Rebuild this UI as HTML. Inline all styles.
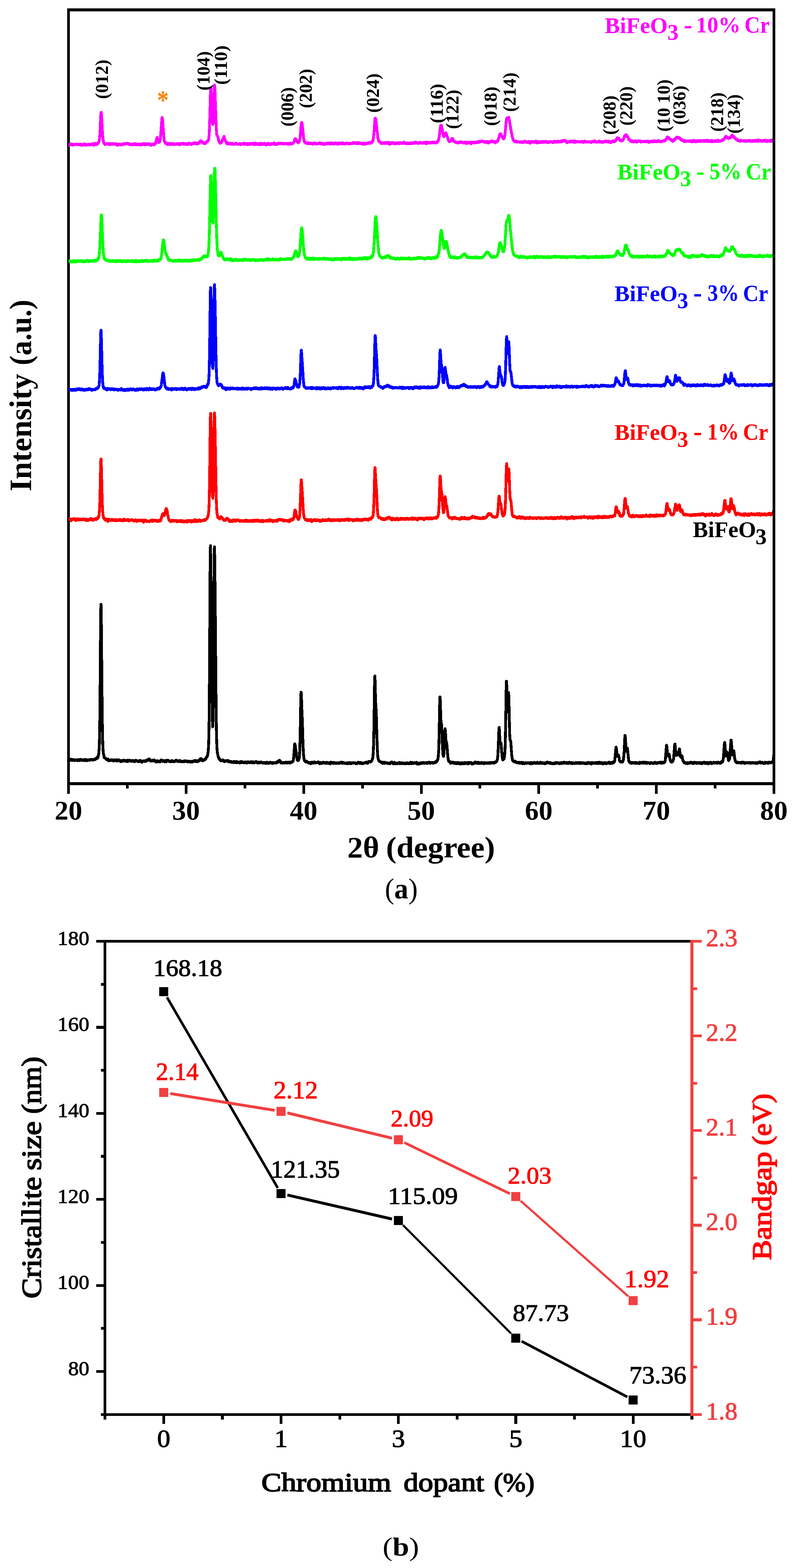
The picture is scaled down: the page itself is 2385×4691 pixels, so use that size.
<!DOCTYPE html>
<html lang="en"><head><meta charset="utf-8"><title>XRD patterns and crystallite size / bandgap of Cr-doped BiFeO3</title>
<style>html,body{margin:0;padding:0;background:#fff}svg{display:block}text{font-family:'Liberation Serif', serif;white-space:pre}</style></head>
<body><svg width="2385" height="4691" viewBox="0 0 2385 4691">
<rect width="2385" height="4691" fill="#fff"/>
<g id="xrd" shape-rendering="crispEdges">
<g fill="#000">
<rect x="201" y="25" width="8" height="2350"/>
<rect x="201" y="2340" width="2119" height="8.5"/>
<rect x="376.9" y="2344" width="8" height="15"/>
<rect x="552.8" y="2344" width="8" height="31"/>
<rect x="728.8" y="2344" width="8" height="15"/>
<rect x="904.7" y="2344" width="8" height="31"/>
<rect x="1080.6" y="2344" width="8" height="15"/>
<rect x="1256.5" y="2344" width="8" height="31"/>
<rect x="1432.4" y="2344" width="8" height="15"/>
<rect x="1608.3" y="2344" width="8" height="31"/>
<rect x="1784.2" y="2344" width="8" height="15"/>
<rect x="1960.2" y="2344" width="8" height="31"/>
<rect x="2136.1" y="2344" width="8" height="15"/>
</g>
<clipPath id="cpa"><rect x="205" y="20" width="2111" height="2330"/></clipPath>
<g clip-path="url(#cpa)" fill="none" stroke-linejoin="round" stroke-linecap="butt">
<path stroke="#000000" stroke-width="8.4" d="M205.0 2274.7l.7-2.4l.7-.2l.7-.6l.7 1.9l.7-2.8l.7 4l.7-2.2l.7 1.1l.7-.7l.7 1.6l.7-3.2l.7 1.9l.7 .1l.7 1.5l.7-2.3l.7 .5l.7-.9l.7 .7l.7 .8l.7-1.2l.7 2.5l.7 .1l.7 0l.7 .6l.7-1.4l.7 .6l.7-.9l.7 .5l.7 .5l.7-1.4l.7 .2l.7-.2l.7-.1l.7 .3l.7 .7l.7-1l.7 1.3l.7 1.3l.7-1l.7-1.1l.7-.8l.7-.2l.7 2l.7-1.7l.7-.5l.7 .9l.7 1.9l.7-1.9l.7 .3l.7-.6l.7-.8l.7-.8l.7 1l.7 .4l.7 1l.7 .4l.7 .2l.7-.5l.7 .8l.7-1.5l.7 1.9l.7-.9l.7-1l.7 .5l.7-.7l.7 1.1l.7 .5l.7 .8l.7-3.3l.7 0l.7 1l.7 .6l.7 .8l.7-.3l.7-1.9l.7 2.1l.7 1.3l.7-.5l.7 .3l.7-1.4l.7-.6l.7-.1l.7-.1l.7-.3l.7 0l.7-.4l.7 1.4l.7 .1l.7 1l.7-.2l.7-1.5l.7-1.1l.7-.7l.7 .8l.7-.4l.7-.3l.7 .4l.7-.5l.7 1.3l.7-1l.7 1.7l.7-.4l.7 .4l.7-1.5l.7 1.2l.7 .3l.7-1.8l.7 .5l.7 .2l.7-1.3l.7 1.4l.7 .2l.7-2.1l.7 .7l.7-1.8l.7 1l.7-1.9l.7 1.9l.7-1.6l.7-1.2l.7-1.3l.7 1.7l.7 .6l.7-4l.7 2.2l.7-1.1l.7-3.2l.7-4.3l.7-1.8l.7-6.5l.7-9.4l.7-16.7l.7-27l.7-47.5l.7-72.1l.7-89.8l.7-96.7l.7-66.8l.7-16.4l.7 32.5l.7 63.3l.7 80.6l.7 79.9l.7 66.8l.7 49l.7 33l.7 21.2l.7 11.8l.7 7.7l.7 3.6l.7 1l.7 5.6l.7 2.8l.7-.5l.7 .4l.7 .7l.7 .9l.7 1l.7-.3l.7 1.3l.7 .1l.7 1.6l.7-.2l.7 1l.7-.5l.7 1.1l.7-.7l.7 1.9l.7-3.8l.7 1.4l.7 2l.7 2l.7-2.3l.7 .5l.7-.2l.7 1.4l.7-1.5l.7 1l.7-.8l.7-.9l.7 1.5l.7 .1l.7 .4l.7-1.6l.7-.8l.7 1l.7-.2l.7 .4l.7 .2l.7 1.6l.7-.5l.7 1.4l.7-.9l.7-.6l.7-2.3l.7 2.1l.7 .1l.7 .6l.7 .4l.7-1.4l.7 .9l.7-1.5l.7 2.1l.7-3.3l.7-.4l.7 .2l.7 .9l.7-.1l.7 3.2l.7-2l.7-1l.7 2.2l.7-1.9l.7-.8l.7 1.9l.7-.2l.7-.8l.7 2.1l.7-.7l.7 1.8l.7-.7l.7 1.4l.7-1.3l.7-1.4l.7 3.4l.7-2.8l.7 .2l.7-.5l.7 .5l.7 .3l.7-.3l.7 .1l.7 .7l.7-2l.7-1.1l.7 .2l.7 .8l.7-.6l.7 2.7l.7-.9l.7 .3l.7 .4l.7-1.5l.7 .1l.7 1.2l.7 0l.7-.8l.7 2.5l.7-2.7l.7 1.1l.7 .1l.7-2.6l.7 4.2l.7-1.9l.7-1.8l.7 2.6l.7-1.7l.7-.2l.7-.9l.7 .9l.7-1.4l.7 2.4l.7-1.1l.7 .6l.7 1.1l.7-.8l.7 0l.7 0l.7-.9l.7 1.6l.7 .8l.7-.6l.7 .2l.7-1.6l.7-.2l.7-.7l.7 2.4l.7-1.3l.7 1.9l.7-1.6l.7 .8l.7 .9l.7 .9l.7-1.1l.7-.5l.7-.8l.7-.5l.7-1.6l.7 1.2l.7 .1l.7 .5l.7 .9l.7-.7l.7 .7l.7-.1l.7 .8l.7 .5l.7-1.5l.7 1.5l.7 1.1l.7-3.6l.7 .2l.7-.3l.7 .5l.7 1.8l.7-1.6l.7-.9l.7 1.1l.7-1.2l.7 1.8l.7-.4l.7 1.5l.7-1.5l.7 3.9l.7-1.8l.7 0l.7-.8l.7-.8l.7-.4l.7 .4l.7-.8l.7 .8l.7-1.1l.7 1.4l.7 .3l.7-1.5l.7 1.9l.7-1.4l.7 1l.7-1.1l.7 .1l.7-2.3l.7 .9l.7 1.6l.7-1.8l.7-1.3l.7-.1l.7-1l.7-.4l.7 .8l.7 .8l.7-2.6l.7 0l.7-.9l.7 .2l.7 .3l.7 1l.7 1.8l.7-.4l.7 3l.7 .3l.7-1l.7 .9l.7-1.6l.7 .2l.7 .7l.7-.2l.7-.2l.7-.1l.7 .2l.7 1.4l.7-2.8l.7 2l.7-.8l.7 .8l.7-.1l.7-2.8l.7 3.5l.7 .1l.7 0l.7-.2l.7 1.5l.7-.9l.7 2.4l.7-1.1l.7 1.4l.7-3l.7-1.3l.7 2.3l.7 .3l.7-.5l.7-1.1l.7 1.4l.7 1.1l.7-.9l.7-.2l.7-.4l.7-.8l.7 .4l.7-.8l.7 3l.7-2.4l.7 .6l.7-2l.7 1l.7-3.1l.7 2.4l.7-.9l.7 2.2l.7-2.9l.7 1.8l.7 .8l.7 1.1l.7-1.2l.7 .7l.7-2l.7 1.2l.7 1.1l.7 .5l.7-1.3l.7 2.3l.7-.3l.7-1.6l.7-2.2l.7 .8l.7 1.3l.7 1.9l.7-1l.7-2.8l.7 1l.7 .8l.7-2.7l.7-.8l.7 2.6l.7-1.7l.7-.1l.7 1.2l.7 .1l.7-.1l.7 1.9l.7 .2l.7 0l.7-.6l.7 1.4l.7-1.1l.7 .4l.7 .3l.7-.4l.7 .8l.7-1.3l.7-2l.7 .7l.7 2.5l.7-1.6l.7 .7l.7-1.2l.7 1.7l.7-1.3l.7 1.7l.7-1.8l.7 1.6l.7-.3l.7-1.2l.7 1.6l.7-2l.7-.3l.7 .9l.7-2l.7-.6l.7-.1l.7-.6l.7 2.3l.7 .2l.7 .1l.7 .4l.7 .6l.7 1.1l.7-1l.7-1.4l.7 1.2l.7-.8l.7 0l.7 2l.7-2.2l.7 0l.7-1.2l.7 .8l.7 2.2l.7-.8l.7 1.5l.7-1.4l.7 .3l.7 1.1l.7 .5l.7-1.2l.7 .4l.7 .4l.7-.5l.7-1.6l.7 .9l.7 .8l.7-.9l.7 1l.7-1.9l.7 .8l.7 1.2l.7-2.8l.7 .7l.7 .8l.7-1.7l.7 1.8l.7-.7l.7 .7l.7 .2l.7 .5l.7-.7l.7 .4l.7-.8l.7 1.1l.7 1.2l.7-1.2l.7 .1l.7-1.2l.7 1.7l.7-1.5l.7-.1l.7 1.5l.7-.2l.7 .9l.7 .3l.7-1.9l.7 .7l.7 1.7l.7-.7l.7-.3l.7 .4l.7-2l.7 1l.7 .6l.7 .2l.7-2.3l.7 .4l.7 .4l.7-.8l.7-.3l.7 .8l.7-1l.7-1.3l.7 2.1l.7-.6l.7-.2l.7-.7l.7 2.5l.7-3.2l.7 .3l.7 1.1l.7 1.4l.7 .2l.7-2.1l.7 1.3l.7-1l.7 2.5l.7-2.7l.7 .7l.7 .5l.7-1.7l.7 1l.7-2.8l.7 .7l.7-.2l.7-1.6l.7 .7l.7-1.4l.7-2.6l.7 5l.7-3.3l.7-.4l.7-1.1l.7 2l.7 .3l.7 2l.7 .5l.7 1.9l.7-1.5l.7 .2l.7-.5l.7-.9l.7-.2l.7 1.1l.7-.5l.7-1.6l.7-.9l.7 .4l.7 .4l.7-1.9l.7 1l.7-3.1l.7 .2l.7-3.3l.7 .9l.7-1l.7-.7l.7-.8l.7-4.1l.7-1.7l.7-4.5l.7-4.8l.7-9l.7-11.3l.7-26.1l.7-40.7l.7-70.5l.7-100.3l.7-127.4l.7-128l.7-87.6l.7-15.1l.7 41.1l.7 65.5l.7 69.3l.7 82l.7 86.2l.7 76.3l.7 59l.7 40.9l.7 21.6l.7-3l.7-22l.7-53.7l.7-84.3l.7-117.3l.7-124.3l.7-101.9l.7-32.1l.7 32l.7 62.1l.7 68.1l.7 79l.7 85l.7 84.2l.7 71.7l.7 51.7l.7 35.6l.7 22.4l.7 14.1l.7 6.9l.7 6.2l.7 2.4l.7 3.4l.7 3.8l.7 2l.7-.3l.7 3.3l.7-.6l.7 2.8l.7-1.6l.7 1.5l.7 1.3l.7 .9l.7 1.9l.7-.2l.7 .9l.7-.3l.7-1.4l.7 .1l.7 1.3l.7-.9l.7-.1l.7-1l.7 1.5l.7-2.1l.7 2.6l.7-.1l.7 1.9l.7-.9l.7 .3l.7 1.7l.7-2.3l.7 1.3l.7-2.3l.7 1.6l.7-.1l.7 0l.7-1.8l.7 1l.7 0l.7-.4l.7 .2l.7 .2l.7 0l.7-1.2l.7 0l.7 3.8l.7-.2l.7-2.6l.7 2.3l.7 .7l.7 .6l.7-.3l.7-1l.7 .5l.7-.6l.7 .3l.7-.4l.7 .3l.7 1.5l.7 .5l.7-1.9l.7 .9l.7-.4l.7 1.8l.7-1.4l.7 1.3l.7-1.9l.7 .6l.7-1l.7 2.8l.7-1.4l.7-1.1l.7 .7l.7-1.7l.7 2.2l.7 .2l.7 .4l.7 1.2l.7-1.8l.7 .9l.7-.6l.7-.4l.7-1.6l.7 3.3l.7-1.1l.7 .7l.7-1.2l.7 1.3l.7-.5l.7-.5l.7-.5l.7 .8l.7-.1l.7-.3l.7 2.5l.7-3.7l.7 .2l.7-.6l.7 1.6l.7-.9l.7-1.6l.7 1.6l.7 1.3l.7 .9l.7-2.6l.7 .8l.7 .3l.7-.6l.7 1.3l.7-.4l.7 .4l.7-.8l.7 2.3l.7-1.4l.7 1.4l.7-1.6l.7 .8l.7-1.4l.7-.5l.7 0l.7 .6l.7 .1l.7 2.1l.7-2.2l.7 .2l.7 2.6l.7-1.3l.7-2.6l.7 2.1l.7-.2l.7-2.2l.7 1.8l.7 .2l.7 .7l.7 .1l.7-.7l.7 1l.7-1l.7-.6l.7-.2l.7 1.2l.7-2.6l.7 2.4l.7-1.5l.7 .9l.7 1.1l.7 .8l.7-3l.7 1l.7 .7l.7-.6l.7 1.4l.7-2.7l.7 2.4l.7 .3l.7-.2l.7 1l.7-2.5l.7 1.8l.7-2.4l.7 .6l.7-1.5l.7 .9l.7 .1l.7-1.6l.7 1.7l.7 .5l.7 0l.7-.3l.7 2.5l.7-1.4l.7 1.4l.7-2l.7-.5l.7 1.1l.7-.7l.7 2.8l.7-2.1l.7 .8l.7-1.4l.7-.2l.7 .3l.7 .5l.7 .5l.7-.9l.7-.6l.7-.5l.7 .8l.7 .7l.7 .1l.7 .1l.7 0l.7 1.2l.7 .7l.7-.6l.7-.1l.7-.6l.7 .6l.7-1.5l.7 .4l.7 .2l.7 .6l.7 1.2l.7-.4l.7 .2l.7-2l.7 1.7l.7 1.3l.7-3.4l.7-.3l.7 .7l.7 1.1l.7-.5l.7-.9l.7 .5l.7 1.1l.7-.2l.7 2l.7-1l.7-.3l.7 .3l.7-1.1l.7-.9l.7 .7l.7 .1l.7-1.9l.7 .8l.7 .2l.7 .8l.7-.1l.7 1l.7 0l.7 1.1l.7-2.6l.7 3l.7-.5l.7-1.5l.7 .5l.7-.1l.7-1.4l.7 .7l.7 .4l.7-.5l.7 .8l.7-.9l.7 0l.7-.8l.7 .2l.7-.3l.7 2.1l.7-1.4l.7-1l.7 1.4l.7-.6l.7-3l.7 2.9l.7-2.6l.7 1.5l.7-2l.7-1.1l.7 1l.7-3l.7-.2l.7-.4l.7 .1l.7 .6l.7 .4l.7 .8l.7 4.2l.7-1.1l.7 3.1l.7-1.7l.7 1.8l.7 .1l.7-1.8l.7 1.5l.7 .6l.7 .1l.7-.7l.7 .4l.7-.8l.7-1l.7 1.8l.7-1.8l.7 1.8l.7-.7l.7-1.5l.7 .7l.7-.3l.7-.7l.7 1l.7-1.1l.7 2l.7-.5l.7-1.4l.7 1.2l.7 .1l.7-1.2l.7 2.1l.7-.3l.7-.4l.7-1.6l.7 1.3l.7-1.3l.7 1.2l.7 1l.7-1.3l.7-1.3l.7 1.3l.7 .9l.7 .4l.7-2.5l.7 .5l.7 .1l.7 0l.7 .2l.7-2l.7 .3l.7 1.1l.7-.8l.7-.4l.7-.2l.7-2.5l.7-2l.7-4.9l.7-7.4l.7-8.8l.7-9.6l.7-11l.7-7.2l.7 .7l.7 3.5l.7 6.6l.7 4.5l.7 3.3l.7 3.7l.7 9.6l.7 5l.7 2.3l.7 5.8l.7 3.1l.7 .7l.7 1.3l.7-1.4l.7 1l.7-.8l.7-1.3l.7-1.9l.7-2.8l.7-4.8l.7-11.1l.7-16.3l.7-25.4l.7-36.2l.7-42.1l.7-39.6l.7-22.1l.7 1.5l.7 16.9l.7 23.3l.7 17.8l.7 16l.7 20.7l.7 22.3l.7 26.8l.7 19.5l.7 13.9l.7 10.8l.7 6.2l.7 5.1l.7 2.2l.7 2.5l.7 .5l.7-.9l.7 .6l.7 2.8l.7 .5l.7-1.8l.7 .9l.7-1.6l.7 0l.7 1.1l.7 .9l.7 .1l.7 .4l.7 0l.7 1.4l.7 1l.7-1l.7 2.1l.7-2.5l.7 .1l.7 .9l.7-.6l.7 1.7l.7-1.5l.7 2.2l.7-1l.7 2.3l.7-3.1l.7 .1l.7 .2l.7-2.1l.7 2.8l.7 .1l.7-.3l.7-1.7l.7-.4l.7 1.6l.7 .3l.7 .5l.7-2.3l.7 0l.7 .6l.7-1.8l.7 1.1l.7 1.2l.7 .7l.7-1.2l.7 1.4l.7-1l.7 0l.7-.1l.7 .8l.7-.1l.7 .1l.7-.8l.7 .3l.7-.9l.7-1.8l.7 1.3l.7 0l.7-.4l.7 3l.7 1.4l.7 .8l.7-.9l.7-2.4l.7 2l.7 .1l.7-3l.7 2.5l.7-.6l.7-.6l.7 .1l.7 0l.7 1.7l.7-1.8l.7 .1l.7-.2l.7 0l.7-2.1l.7 3l.7-1.1l.7 .3l.7-.5l.7-.3l.7-.1l.7 .7l.7 .4l.7 1.1l.7-.7l.7-.6l.7 1.7l.7-3.3l.7-.1l.7 1.8l.7-.4l.7-1.3l.7 1.5l.7-.3l.7 1.8l.7-1.7l.7 1.7l.7-.4l.7-.4l.7 .5l.7 .6l.7-2.4l.7 2.6l.7-.7l.7 1.9l.7-2.7l.7 1.4l.7-3.9l.7 2.9l.7-.7l.7-.6l.7 .2l.7 .1l.7 .8l.7-.5l.7-1.7l.7 1.2l.7 2l.7-2.3l.7 .2l.7-.7l.7 .8l.7 .3l.7-.1l.7 1.4l.7-1.4l.7 1l.7 .8l.7-.6l.7-1l.7 1.7l.7-1.5l.7 .4l.7-.4l.7 .7l.7-.4l.7-.3l.7 .9l.7 .7l.7-2.3l.7 .8l.7-.8l.7 .6l.7 1.2l.7-1l.7-.9l.7-.1l.7-.1l.7 .3l.7 .6l.7-2.2l.7 .2l.7 .1l.7-.6l.7 3.1l.7-1l.7 2.1l.7-3.1l.7 2.5l.7-1.9l.7 .2l.7-.4l.7 .3l.7 .1l.7 1.8l.7-1.2l.7 1.1l.7 .1l.7 .4l.7-.7l.7 .2l.7 .3l.7-.6l.7 .2l.7-1.4l.7 .1l.7 2.6l.7-1.6l.7-.4l.7 2.4l.7-1.2l.7-.5l.7-1.1l.7 1.5l.7-2.5l.7-.1l.7 .8l.7-.4l.7 .1l.7 .2l.7 1.5l.7 1.1l.7-2.7l.7 1.1l.7 1.5l.7-.5l.7-1.3l.7 .4l.7 0l.7-.4l.7 .1l.7 .4l.7-1.1l.7 1.1l.7-.9l.7-.6l.7 1.1l.7-.6l.7 0l.7 .9l.7-.3l.7-.4l.7 1.1l.7-.7l.7 2.2l.7-1.8l.7 .3l.7 .5l.7-.8l.7 1.3l.7-1.5l.7-1.2l.7-.2l.7 .7l.7-2.1l.7 1.7l.7-.8l.7 1.4l.7-1.2l.7 2.7l.7-.7l.7-1.7l.7 2.8l.7-2l.7-.7l.7-.4l.7 1.6l.7 1.2l.7-1.6l.7-.1l.7 0l.7 2.5l.7 0l.7-2l.7 .7l.7-.5l.7-.1l.7 .9l.7-.6l.7-.4l.7-.7l.7 .9l.7-1.1l.7 .2l.7 0l.7-1.5l.7 .4l.7-.4l.7 .3l.7-1l.7 .3l.7 3.1l.7-.1l.7-.1l.7 .6l.7-1.9l.7-1.1l.7 0l.7-2.7l.7 .3l.7 1.4l.7-.8l.7-1.1l.7 2l.7 .5l.7-.1l.7-.8l.7-1.1l.7 .4l.7-.3l.7-1.6l.7-.2l.7-1.6l.7-1.5l.7-4.2l.7 .5l.7-2.9l.7-7.8l.7-11.5l.7-16.3l.7-30.6l.7-42.3l.7-49l.7-52.9l.7-30.8l.7-3.1l.7 26.4l.7 28.9l.7 21.7l.7 13.3l.7 10.6l.7 16.9l.7 25l.7 27.8l.7 24.4l.7 21l.7 12.1l.7 11.3l.7 5.5l.7 4.2l.7 .6l.7 2.5l.7 1.8l.7 .3l.7-.3l.7 1.1l.7 .1l.7 1.3l.7-1l.7 1.5l.7 .6l.7 .9l.7-.5l.7 .3l.7-.2l.7 0l.7 .1l.7-.3l.7 3.2l.7-3.2l.7-.1l.7 .5l.7 .3l.7 .8l.7 1.6l.7 .4l.7-1.1l.7-2.4l.7 2.7l.7-1.7l.7 .6l.7-.6l.7 1.5l.7-1l.7 1.2l.7-.4l.7-.7l.7 .3l.7 1l.7-.9l.7 1.4l.7-.9l.7 .3l.7 .6l.7 .6l.7-.6l.7-.3l.7 .7l.7-2.2l.7 2.7l.7-3.2l.7 1.6l.7-1.8l.7 .7l.7-.7l.7 .3l.7-1.1l.7-1.3l.7 2.6l.7-.8l.7 .2l.7 .3l.7 2.9l.7-2.1l.7 1.1l.7-1.2l.7 2.5l.7-2.1l.7-2.2l.7 4.9l.7-3.6l.7 2.6l.7-.1l.7 .2l.7-.8l.7 .3l.7 .8l.7-1.6l.7 .6l.7 .7l.7-.9l.7-.7l.7 1.6l.7-1.3l.7-.5l.7-.5l.7-.1l.7 1.9l.7 .1l.7-2.9l.7 1.5l.7 1.3l.7 1.2l.7-.5l.7-1.3l.7 .4l.7-1.7l.7 1.4l.7-1.8l.7 .7l.7 .9l.7 1.9l.7-1.2l.7-.3l.7-.6l.7-1.2l.7 1.8l.7-.8l.7 .9l.7-.6l.7 1.4l.7-1.5l.7 1.7l.7 .3l.7-.8l.7 .8l.7-1.9l.7 .1l.7 .1l.7-1.2l.7 3l.7-1.1l.7-1.3l.7-.8l.7 1.2l.7 .2l.7-.6l.7 .2l.7-.1l.7 .5l.7 1.6l.7 .3l.7-2.7l.7 1.5l.7-1.5l.7-.3l.7 1.7l.7-1.4l.7-2.2l.7 3.5l.7 .4l.7 .7l.7-2.3l.7 1.9l.7-3.7l.7 1.5l.7 1.4l.7-.2l.7 .6l.7-.6l.7-1.2l.7 1.4l.7-.9l.7 .9l.7-2.3l.7 1l.7-.6l.7 1.3l.7-.9l.7 .1l.7-.8l.7 1.8l.7 1l.7-.1l.7-3.8l.7 1.5l.7 3.6l.7-1.9l.7 .2l.7 1.5l.7-.8l.7-.6l.7 .4l.7 2l.7-3.4l.7 2.2l.7-1.9l.7-.4l.7 1.8l.7-2.5l.7 1.3l.7-1.1l.7-.9l.7 1.3l.7 1.5l.7-1l.7 .9l.7-.2l.7-.3l.7-.8l.7 .3l.7-2.2l.7 1.4l.7-1.2l.7 2.1l.7 .1l.7-1.3l.7 1.3l.7-.5l.7-.2l.7-.6l.7 .7l.7 .5l.7-1.6l.7-.2l.7 2.2l.7-2.9l.7 0l.7 1l.7 1.8l.7-.4l.7-.2l.7-.9l.7 .9l.7-.3l.7-.5l.7-2l.7 2l.7-.4l.7 .9l.7-.2l.7 1l.7 .3l.7-.7l.7-1.5l.7-.6l.7 .4l.7-.4l.7 1.3l.7-1l.7 .3l.7 .2l.7 1.1l.7 .4l.7-1.2l.7-.8l.7 1.6l.7-1l.7-1l.7 1.2l.7-.8l.7-1.5l.7 2l.7-.4l.7-2.2l.7-.7l.7 1.8l.7 .1l.7-.7l.7-2.6l.7 0l.7-.2l.7-3.3l.7 0l.7-2l.7-2.8l.7-9l.7-7.8l.7-15.2l.7-28.3l.7-34.2l.7-38l.7-36.4l.7-15.1l.7 7.2l.7 21.6l.7 26.5l.7 15.3l.7 9.3l.7-.9l.7 4.3l.7 12.8l.7 18.5l.7 21.3l.7 15.6l.7 13.2l.7 9.3l.7 3l.7 1.2l.7-3l.7-5.7l.7-11.3l.7-18l.7-19.9l.7-16.7l.7-8.3l.7 6.2l.7 10.5l.7 13.5l.7 7.6l.7 2.8l.7 0l.7 3.3l.7 6.9l.7 8.8l.7 10.3l.7 8.4l.7 7.2l.7 4.6l.7 4l.7 3.3l.7-1.1l.7-.4l.7 3.3l.7-1.4l.7 2.1l.7-.5l.7 .9l.7 3.6l.7-3.7l.7 .4l.7 1l.7-.4l.7-.5l.7-.4l.7 1.1l.7 .4l.7-1.9l.7-.1l.7 3.1l.7-2.6l.7 2.7l.7 .3l.7-1.2l.7 1.7l.7-2l.7-.4l.7-.6l.7 2.2l.7-.8l.7 1.9l.7-1.4l.7 1.5l.7 .7l.7-1.8l.7-1.6l.7 .3l.7 1.2l.7-.3l.7-.8l.7-.9l.7 2.6l.7 1.1l.7 .1l.7-1.2l.7-.6l.7-.5l.7 .2l.7-.9l.7 3.6l.7-2.1l.7 2.3l.7-2.4l.7-1.5l.7 3.3l.7-2.6l.7 .4l.7 2.1l.7 0l.7-3.1l.7 2l.7-1l.7 1.4l.7 1l.7-2.5l.7 1.6l.7-2.6l.7 2.7l.7-2.9l.7 .4l.7 .8l.7-1.4l.7 3.1l.7-2.4l.7 1.5l.7-1.9l.7 1.2l.7-.1l.7-.2l.7 .9l.7-1.3l.7 2.7l.7-1.2l.7-2.8l.7 4.5l.7-1.5l.7 .8l.7-1.8l.7-2l.7 1.7l.7-.8l.7 .9l.7-.6l.7 .6l.7-1.8l.7 2l.7-.1l.7 1.4l.7-1.9l.7 1.4l.7 2.2l.7-2.7l.7 1.8l.7 .4l.7-1.6l.7 .6l.7-.2l.7 .3l.7-2l.7 .1l.7 .7l.7-1.7l.7 .5l.7-1.1l.7-1.7l.7 2.4l.7 1.3l.7-1.8l.7 .6l.7-.3l.7-.1l.7 .8l.7 .8l.7 .9l.7-1.4l.7-1.7l.7-.3l.7 3l.7-.6l.7-.6l.7-.4l.7 .1l.7 1.9l.7-1.2l.7-1.1l.7 2.3l.7-.4l.7-.6l.7 .8l.7-1.6l.7 1.5l.7-2.3l.7 .5l.7-.4l.7 1.1l.7-.1l.7 .6l.7 .6l.7 .7l.7-.4l.7 0l.7 1l.7-2l.7-1.4l.7 2l.7 .7l.7-1.7l.7 .6l.7-1.4l.7 .8l.7 .5l.7-.3l.7-.9l.7 2l.7-1.3l.7 .9l.7-.4l.7 .3l.7-.1l.7-1.4l.7 .8l.7 1.2l.7-.1l.7-.9l.7 1.1l.7-2.6l.7 2.8l.7-1.3l.7-1.9l.7 1.5l.7 .4l.7-2l.7 2.5l.7-.4l.7-2.2l.7 2.4l.7-.8l.7-.7l.7 .1l.7-.2l.7-.8l.7 .9l.7 1.2l.7 .6l.7-.2l.7-2.1l.7 .3l.7-.9l.7 1.7l.7-2.8l.7 .1l.7 .5l.7 .5l.7-1.1l.7-.3l.7-.9l.7-1l.7-2.7l.7-1.4l.7-2.5l.7-6.3l.7-9.2l.7-16.5l.7-17.5l.7-20.3l.7-18.6l.7-6l.7 6.6l.7 14.5l.7 13.9l.7 10.4l.7 2.4l.7-.5l.7-1.7l.7 1.2l.7 8.6l.7 9.1l.7 9.4l.7 8l.7 6.9l.7 3.4l.7 4.8l.7 .5l.7-1.8l.7 .4l.7-.3l.7-2.4l.7 .5l.7-3.1l.7-4.5l.7-7.9l.7-10.4l.7-17.8l.7-30l.7-39.4l.7-47.6l.7-43.7l.7-27.9l.7 1l.7 27.2l.7 31.9l.7 22.3l.7 9.8l.7-11l.7-20.2l.7-18.2l.7-8.9l.7 8.5l.7 21.1l.7 33l.7 33.9l.7 25.9l.7 13.8l.7 6.5l.7 .2l.7 1.9l.7 4.4l.7 9.8l.7 11.8l.7 7.6l.7 10.3l.7 5l.7 4.2l.7 4.4l.7 1.1l.7 1.9l.7-1.6l.7 2l.7 .4l.7 .3l.7 1.1l.7 .3l.7-2l.7 0l.7-.1l.7 2.6l.7-1.2l.7 .8l.7 0l.7-.4l.7 1.6l.7 .3l.7 1l.7-.8l.7 0l.7-.3l.7 1.9l.7-.5l.7-1.1l.7 .5l.7-1.3l.7 2.6l.7-2.3l.7 .5l.7 .2l.7 2.1l.7-1.4l.7 .9l.7-1.1l.7-1.1l.7 1.7l.7-1.5l.7-.6l.7 1.1l.7 1.5l.7 1.6l.7-2.8l.7-1l.7 2.6l.7-1.1l.7-1l.7 1.1l.7 .6l.7 1.6l.7-1.6l.7 1.5l.7-1.7l.7-.1l.7 .8l.7-1.6l.7-.2l.7 2.3l.7-2.5l.7 2.2l.7-.2l.7 0l.7-.9l.7-.8l.7 1.1l.7-.5l.7 .5l.7 .3l.7-1.1l.7-.4l.7 1.3l.7-.9l.7 .1l.7 .8l.7 .6l.7 1.5l.7-.7l.7-3.1l.7-.4l.7 1l.7 .5l.7-.4l.7 2.7l.7-.6l.7 .7l.7-2l.7-.6l.7-.5l.7 .7l.7-1.3l.7 .6l.7 .2l.7 1.4l.7-1.3l.7-.8l.7 1l.7 .7l.7 .4l.7-1.3l.7 1.5l.7 .6l.7-1.1l.7-.5l.7-.8l.7-.1l.7-1.3l.7 2.8l.7-.7l.7 .7l.7 .4l.7-1.3l.7 1.6l.7-1l.7 1.1l.7-1.4l.7 .1l.7-.6l.7 1.6l.7-3.5l.7 1.5l.7 .3l.7-1l.7 .9l.7-1.1l.7 2.6l.7-1.3l.7 1.8l.7-.6l.7-.6l.7-.8l.7 .7l.7 .9l.7-.3l.7 .9l.7-1.3l.7 2.2l.7-2l.7-.8l.7 2l.7 .2l.7-1.1l.7-.1l.7 1.2l.7-2.1l.7 1l.7-2.9l.7 .8l.7-.1l.7 1.2l.7-2.7l.7 2.2l.7 0l.7 .3l.7-.7l.7-.3l.7 .8l.7 .2l.7 1.7l.7-1.3l.7 0l.7 .7l.7-2.1l.7 2.3l.7 .5l.7 .4l.7-.7l.7-.6l.7 .3l.7 1.1l.7 .1l.7 .4l.7 0l.7-.7l.7-.9l.7 .2l.7-.4l.7 1.5l.7-.2l.7-.2l.7-1.3l.7 2l.7-2.7l.7 2.2l.7-.5l.7-2.7l.7 1.5l.7-1.1l.7 1.2l.7 .7l.7-.8l.7-1.2l.7 1.5l.7 0l.7-.2l.7-1l.7 .7l.7 .6l.7-.4l.7 2.3l.7-1.5l.7-.3l.7 .6l.7-1.7l.7 1.3l.7 1.2l.7-2.2l.7 1.2l.7 .4l.7-2.7l.7 2.8l.7-2.9l.7 .7l.7 .9l.7-.2l.7 1l.7-.8l.7-.1l.7-.8l.7 1.2l.7-3.1l.7 2.6l.7-.2l.7-.4l.7 .1l.7 .1l.7 .8l.7-1.6l.7 .5l.7 .3l.7-1.4l.7 2.1l.7 1.3l.7-2.9l.7 1.7l.7-1.1l.7 .9l.7-.8l.7 2.1l.7-2.7l.7 1l.7-.1l.7-1.4l.7-.7l.7 2.7l.7 .3l.7-1.2l.7 0l.7 1.8l.7 .1l.7 .2l.7-.7l.7-1.1l.7-.5l.7-.7l.7 1.9l.7 2l.7-1.2l.7-.4l.7-1.3l.7 .7l.7 .5l.7-.4l.7 1.1l.7-.9l.7 1l.7-.7l.7-.2l.7 1.1l.7-2.3l.7 .2l.7-1l.7 1.3l.7 1l.7-.4l.7 0l.7 .4l.7-.4l.7 0l.7-.4l.7-1.4l.7 1.6l.7 .5l.7-1.7l.7 1.2l.7 .9l.7-1.4l.7-1l.7 1.3l.7 1.3l.7-2.6l.7 .6l.7-.6l.7 .4l.7 .7l.7 1.3l.7-1.8l.7 .1l.7 0l.7-.2l.7-.3l.7 .6l.7 .6l.7 .1l.7 1.1l.7-1.8l.7 0l.7 .2l.7 1.1l.7 0l.7 1.1l.7-1.5l.7 1.6l.7-.2l.7-1.5l.7-.5l.7 .7l.7-.8l.7 2.9l.7-1.6l.7 .8l.7-2.1l.7-1l.7 1.7l.7-.8l.7-1.5l.7 .3l.7 .3l.7 1.5l.7 1.1l.7-2.1l.7 2l.7-1.3l.7 .3l.7 .3l.7-1.3l.7 3.8l.7-.8l.7-2l.7-.3l.7-1.6l.7 3.4l.7-2l.7 .1l.7 1.4l.7-.9l.7-1.1l.7 .5l.7-.1l.7 .5l.7 .6l.7-.1l.7 .6l.7-1.4l.7 .9l.7 .8l.7-2.7l.7 2l.7-1.6l.7-.5l.7 2.9l.7-.6l.7-.9l.7-1.2l.7 1.8l.7-2.7l.7 1.7l.7 .8l.7 1.2l.7-2.6l.7-1.6l.7 2.6l.7-.2l.7-.4l.7-.9l.7 1.2l.7-1l.7 2.2l.7 .6l.7-1.7l.7-1.4l.7 1.6l.7-.1l.7 .2l.7 1.4l.7-.9l.7 2l.7-1.5l.7-1.4l.7 2.1l.7-1.3l.7-.5l.7 .6l.7-.3l.7-1.8l.7 .6l.7 1.8l.7-1l.7 .6l.7 .6l.7 1l.7-2.3l.7-.1l.7-.5l.7 .2l.7-.4l.7 .9l.7 .1l.7 .9l.7-1.7l.7 .3l.7 .5l.7 0l.7-2.8l.7 1.9l.7 .9l.7-1.2l.7 2.5l.7 .5l.7-3.4l.7-.1l.7 2.2l.7 .1l.7-2.3l.7 .3l.7 1.6l.7-.9l.7-.4l.7 1.7l.7-1.5l.7-2.4l.7 1.7l.7-1.8l.7 1.8l.7-.2l.7-1.4l.7-1.2l.7-1.9l.7-5.6l.7-7.3l.7-8.8l.7-7.5l.7-8.6l.7-3.6l.7 3.4l.7 5.3l.7 7.9l.7 7.7l.7 2.4l.7 1l.7-1l.7-3.9l.7 .6l.7 .4l.7 2.7l.7 4.2l.7 1.5l.7 7.4l.7 .6l.7 .9l.7 2.6l.7-.8l.7 1.4l.7 .3l.7-1.9l.7 2.1l.7-.4l.7 .4l.7 .1l.7-.1l.7 0l.7-1l.7-1.5l.7-2.6l.7-1.2l.7-4.4l.7-7l.7-8l.7-13.9l.7-13.7l.7-16.5l.7-10l.7 .7l.7 8.3l.7 13.8l.7 14.1l.7 6.3l.7 4.2l.7-.2l.7-2.7l.7-4.2l.7-2.3l.7 3.4l.7 9l.7 6.3l.7 6.3l.7 5.9l.7 8.2l.7 .6l.7-.9l.7 2.3l.7 1.9l.7-.5l.7 1.4l.7 .5l.7-1.6l.7 .5l.7 .1l.7 1.4l.7 .9l.7-.5l.7-2.2l.7 1.5l.7-1.5l.7 2.2l.7-1.1l.7 .6l.7-.9l.7 .1l.7 .5l.7-.5l.7 1.4l.7-2.6l.7 1.8l.7-1l.7 1.6l.7-2.4l.7 2.9l.7-1.6l.7-.9l.7 1.9l.7-.7l.7 .7l.7 1.1l.7-2.2l.7 .1l.7 .5l.7 .5l.7-1.2l.7 .1l.7 1.7l.7 .3l.7 .4l.7-1.7l.7-2.3l.7 2.8l.7 .2l.7-2.2l.7 1.4l.7 0l.7 0l.7-.7l.7 .5l.7 .3l.7-2.4l.7 2.3l.7-1.4l.7 .9l.7-1.3l.7-.8l.7 2.9l.7 .5l.7-3.4l.7 .5l.7 1.3l.7-1l.7 1.9l.7-1.3l.7 .4l.7 .7l.7-2.2l.7 1.8l.7 2.1l.7-1.5l.7-1.7l.7 1.8l.7 .8l.7-.7l.7-1.6l.7 .3l.7 .6l.7-.4l.7 1.2l.7-1l.7 .1l.7 1l.7-1l.7 .3l.7 2.2l.7-1.6l.7 .7l.7-.8l.7 .1l.7-1.8l.7 .9l.7 .5l.7 0l.7 .5l.7 .4l.7-.3l.7 1l.7-.9l.7 1.3l.7-1.3l.7-.9l.7-.8l.7 .3l.7 .2l.7 1l.7-2.6l.7 2.2l.7-.8l.7-.3l.7 0l.7 2.2l.7-2.1l.7 1.4l.7 .1l.7 .3l.7 .5l.7-1.4l.7 .4l.7-1.6l.7 .9l.7 .3l.7-1.1l.7 .5l.7-.2l.7-.4l.7 .4l.7 .1l.7-1.7l.7 .5l.7 1.9l.7-2.3l.7 3.3l.7-2.2l.7 1.4l.7 .2l.7-1.4l.7 1.3l.7-2.8l.7 1.9l.7-.8l.7-.1l.7 1.3l.7-.4l.7-1.8l.7 2.1l.7-.8l.7-1.4l.7-.9l.7-.7l.7-3.1l.7-6.3l.7-9.4l.7-8.2l.7-9.3l.7-9.6l.7-3.3l.7 4.3l.7 7.6l.7 8.6l.7 7.7l.7 1.1l.7 3.6l.7-1.4l.7-2.4l.7-2.4l.7 0l.7 1.3l.7 3.2l.7 4.6l.7 4.1l.7 3.2l.7 3.8l.7-1.3l.7 1.8l.7 3.6l.7-.5l.7 .1l.7 .4l.7-3.4l.7 2.8l.7-3l.7-.4l.7 1l.7-3.6l.7-1.2l.7-3.8l.7-8.9l.7-9.1l.7-9.1l.7-9.3l.7-6l.7-.5l.7 10.1l.7 8.6l.7 5.9l.7 7.5l.7 2.4l.7-.5l.7-2.1l.7-4.7l.7-.9l.7-.4l.7 1.2l.7 2.2l.7 3.4l.7 .8l.7-1.4l.7-6.1l.7-5.2l.7-5.6l.7-.5l.7 5l.7 6.8l.7 4.8l.7 5.3l.7 2.5l.7 .1l.7 .8l.7-2l.7-1.9l.7-1.3l.7 1.8l.7 2.8l.7 4.8l.7 2.7l.7 3.8l.7 1.6l.7 .7l.7-.6l.7 2.4l.7 .4l.7 1.9l.7-.7l.7-1.4l.7 .6l.7 2l.7-.8l.7-.7l.7 1.7l.7 .1l.7-.7l.7 .9l.7-1.1l.7 1.7l.7-3.1l.7 1.6l.7-.2l.7 .2l.7-1.3l.7 0l.7 2.2l.7-1l.7-1.2l.7 1.1l.7 .5l.7-1.1l.7-1.4l.7 1.6l.7-2.3l.7 2.4l.7 .4l.7-1l.7 .6l.7-.1l.7-.7l.7-.3l.7 .8l.7-.1l.7 2.2l.7-2.7l.7 2.9l.7-2l.7-.6l.7 .1l.7-.6l.7-1l.7 2.7l.7-1l.7-.7l.7-.4l.7 .7l.7-.5l.7 2.6l.7-2.9l.7 .9l.7 .2l.7 1.4l.7-.1l.7-.3l.7 0l.7 .3l.7-1.5l.7 1l.7-1.7l.7 1.9l.7-.7l.7 1.9l.7-2.1l.7 .8l.7-.5l.7 1.4l.7-2.5l.7 2.1l.7-.3l.7 .3l.7-.9l.7 1.2l.7 1.1l.7-2.6l.7 .6l.7-.7l.7-.9l.7 .4l.7 1.4l.7-.5l.7-2.3l.7 2.7l.7-1l.7 1.1l.7-1.5l.7 2.9l.7-2.9l.7 1.7l.7-1.8l.7 1.2l.7-1.3l.7 2.3l.7-1.2l.7 1.5l.7-1.3l.7-1.3l.7 .9l.7 .5l.7 1.6l.7 1.1l.7-3l.7 .2l.7 .6l.7-2.3l.7 .7l.7 .9l.7-.5l.7-.6l.7-.9l.7 1.1l.7 .8l.7-1l.7 1.1l.7 2.2l.7-1.2l.7 .2l.7-1.5l.7 .4l.7 0l.7-.8l.7-.7l.7-.6l.7 1.2l.7 1.1l.7-.2l.7 0l.7 .2l.7-1.7l.7 0l.7 .2l.7-.7l.7 1.1l.7-.7l.7 2l.7-1.6l.7 1.4l.7 .8l.7-3.2l.7 .3l.7-.2l.7-.2l.7 1.4l.7 .3l.7-1.1l.7 .1l.7 .7l.7 .3l.7-1.1l.7 3.4l.7-2.5l.7 .1l.7-1l.7 0l.7-1l.7 2.1l.7-3.5l.7 1.4l.7 .6l.7-2.6l.7 1.2l.7-.7l.7-3.6l.7-4.4l.7-6.2l.7-8.7l.7-9.6l.7-12.5l.7-8.1l.7-4.5l.7 3.2l.7 8.3l.7 12.2l.7 7.9l.7 7.9l.7 1.8l.7-.3l.7-3.7l.7-3.7l.7-2.1l.7-2l.7 1.6l.7 4.6l.7 4.9l.7 4.1l.7 7.1l.7 3l.7-1.1l.7-1.6l.7-.6l.7-1.4l.7-6l.7-7.1l.7-12.1l.7-9.8l.7-11.1l.7-10.4l.7 .2l.7 6.8l.7 8.9l.7 12.9l.7 8.8l.7 4.7l.7 2.5l.7-.1l.7-3.3l.7-4.4l.7-4.3l.7-1l.7 3.8l.7 5l.7 7.6l.7 6l.7 3.3l.7 2.3l.7 3.9l.7 .3l.7 2l.7 .4l.7-1.3l.7 2.2l.7 .5l.7-1l.7 .2l.7-1.2l.7-.1l.7 2.4l.7-.5l.7-.1l.7 0l.7 .6l.7-1.2l.7-.4l.7 .1l.7 .1l.7-.3l.7 .6l.7-.5l.7 .1l.7 2.5l.7-1.8l.7 1.5l.7-2.8l.7 1.3l.7-.9l.7 1.5l.7-2l.7 2.3l.7-2l.7 .8l.7-.9l.7 1.4l.7 .2l.7-.5l.7-.4l.7 2.8l.7-.2l.7-1.1l.7 .3l.7-.9l.7 .3l.7 .1l.7-.1l.7-.8l.7 .2l.7 .7l.7-1.1l.7 .1l.7 .7l.7 .5l.7-.8l.7 1l.7-.8l.7-.6l.7 .9l.7-1.3l.7-.1l.7 2.1l.7-2l.7 .9l.7 1.6l.7-.6l.7-1l.7 .9l.7-1.4l.7 .1l.7 .7l.7 .5l.7-.6l.7-.1l.7-.5l.7 .8l.7 .7l.7 .2l.7-.7l.7-.2l.7 .2l.7 .2l.7-1l.7 .1l.7-.2l.7 0l.7 2.5l.7-.9l.7-1.2l.7 .8l.7 .4l.7-.5l.7-1l.7 2.1l.7-2.6l.7 1.8l.7-.7l.7-.7l.7 .6l.7-1.8l.7 1.8l.7 .1l.7-1.4l.7 .7l.7-2.5l.7 2.1l.7-.4l.7 2.4l.7-.7l.7-.3l.7-.3l.7-.4l.7 .7l.7-1.8l.7 1.9l.7 0l.7 .7l.7-1l.7 1.7l.7 .1l.7-.5l.7 .6l.7-1.6l.7 .2l.7 1.2l.7 .4l.7-3.8l.7 2.4l.7-2l.7 1.6l.7-.6l.7 .8l.7-.8l.7 .2l.7-.1l.7-1.1l.7 1.3l.7-.3l.7 1.5l.7 .8l.7-1.1l.7-.3l.7-2.3l.7 .7l.7 0l.7 .5l.7-1.1l.7 .1l.7 1.1l.7 .1l.7 .6l.7 .3l.7-1l.7-1.1l.7 .7l.7-1.7l.7 .5l.7 1l.7-1l.7-2.9l.7-.7l.7-4.4l.7-5l.7-8.2"/>
<path stroke="#ff0000" stroke-width="8.4" d="M205.0 1553.1l.7 .2l.7-2.5l.7 3.9l.7-3.7l.7 1.2l.7 1.9l.7-1.4l.7 .6l.7 .5l.7 2l.7 2.1l.7-2.3l.7-1.4l.7 1.4l.7-1.8l.7-.1l.7 .8l.7-2.2l.7 1l.7-.7l.7 .8l.7 .2l.7-1.8l.7 .2l.7 0l.7-.3l.7-.2l.7 .2l.7 1.9l.7 .4l.7 3.4l.7-4.6l.7 3l.7 .1l.7 .6l.7-1.8l.7-2.2l.7 .6l.7 .5l.7-.7l.7 1.6l.7-2.5l.7 4.1l.7-.3l.7-2l.7 1l.7-.6l.7-.8l.7 1.1l.7 1l.7-1.8l.7-.3l.7 0l.7 .5l.7 1.2l.7-1.7l.7 1.6l.7 0l.7-2.1l.7 1.6l.7 .2l.7-.1l.7 .2l.7-2.7l.7 2.2l.7-.7l.7-.8l.7 2.1l.7 .2l.7-1.4l.7 1.9l.7-.9l.7 .8l.7-1.1l.7 3.1l.7-4.5l.7 2.8l.7 1l.7-3l.7 2l.7 0l.7 .7l.7 .3l.7-1.9l.7-1.1l.7 2.8l.7-.3l.7-2.2l.7 .5l.7-.4l.7 0l.7-.5l.7 1.2l.7-3.5l.7 3.1l.7-.6l.7-.5l.7 1.7l.7-3.6l.7 4l.7-.8l.7-1.7l.7 1.6l.7-.9l.7 3.1l.7-.8l.7-1.3l.7-.9l.7 .4l.7 .3l.7-.6l.7-.8l.7-.3l.7-.2l.7-.7l.7-.5l.7-.5l.7 3.6l.7-4.5l.7 .4l.7 1.5l.7-.8l.7 .6l.7 0l.7-.1l.7-1.3l.7-2.9l.7 1.2l.7-4.5l.7-.4l.7-4.2l.7-7.5l.7-10.3l.7-20.3l.7-26.3l.7-37.2l.7-32.6l.7-25.5l.7-6.6l.7 10l.7 25l.7 28.9l.7 30l.7 31.7l.7 16.7l.7 14.1l.7 6.3l.7 7l.7 3.9l.7 2.6l.7 1.1l.7 .7l.7-1.4l.7 3.3l.7 .2l.7 1.3l.7-.8l.7 2.8l.7-2.1l.7-.9l.7 2.1l.7-1.9l.7-1.1l.7 1.6l.7 1l.7-.1l.7 .7l.7 4.2l.7-3.5l.7 .7l.7-3.8l.7 2.4l.7 .3l.7-1.4l.7-.7l.7 1.5l.7-.5l.7 0l.7 2.3l.7 .3l.7-1.2l.7-1.2l.7 .8l.7 .1l.7-.3l.7-2.4l.7 1.2l.7 .9l.7 .6l.7 .8l.7 .2l.7-1.7l.7 .4l.7-.9l.7 2.8l.7-2.3l.7 .2l.7 .6l.7-1.3l.7-.7l.7 1.1l.7 .7l.7 2.1l.7-.3l.7-1.8l.7 2l.7 0l.7-2.2l.7 .9l.7-2l.7 2.3l.7-.8l.7-1.1l.7 .7l.7 1l.7-1.2l.7 .4l.7-.2l.7-2l.7 .3l.7 2.8l.7-1.7l.7-.7l.7 1.4l.7-1.3l.7 3.1l.7-.5l.7 1l.7-.2l.7-.6l.7 .5l.7-1.1l.7-1.1l.7-.5l.7 .4l.7-2.4l.7 4.7l.7-3.8l.7 2l.7-1.1l.7-.5l.7 2.2l.7-.4l.7-.1l.7 .2l.7-1.7l.7 .7l.7 .2l.7-.6l.7 .4l.7 1.3l.7-.3l.7 .3l.7-2.6l.7 2.8l.7 .5l.7-.6l.7 .3l.7 1.4l.7-2.2l.7 .6l.7-1.4l.7 .3l.7 .7l.7-.5l.7 .9l.7-1.3l.7 .5l.7-1.6l.7-.3l.7 1.3l.7-.1l.7 .7l.7 .2l.7 .4l.7 1.4l.7 .2l.7-.7l.7-1.1l.7 2.4l.7-2.9l.7-.3l.7 2.6l.7-.4l.7-.5l.7-.1l.7-2l.7 .6l.7 2.8l.7 .1l.7-1.7l.7 2.9l.7-3.4l.7 .3l.7 .6l.7-1.7l.7 .9l.7 .5l.7-.2l.7 1.4l.7-.4l.7-1.8l.7 .6l.7 1.1l.7 0l.7-.8l.7 1.1l.7 .1l.7-1.8l.7 1.5l.7-2.6l.7 .2l.7 2.5l.7-1.3l.7 0l.7 1.1l.7 0l.7 1.6l.7-1.6l.7 1.2l.7 3.4l.7-4l.7-3.1l.7 2.2l.7-.4l.7 1l.7-1l.7-.5l.7 2.5l.7-.5l.7-2.4l.7 3.2l.7-.8l.7 1.6l.7-1.6l.7 1.2l.7-.5l.7 .5l.7-.5l.7-.5l.7 .2l.7 .3l.7-.5l.7 1.1l.7-1.1l.7 .5l.7 1.7l.7-2.4l.7 .1l.7-1.8l.7 .3l.7 1.6l.7-1.3l.7 1.4l.7-2.8l.7-.6l.7 1.6l.7-1.9l.7 4.5l.7-1.2l.7-2.4l.7 1.4l.7-.4l.7 .9l.7-.7l.7 1l.7 .6l.7-2l.7-1.2l.7 1.7l.7-.9l.7 1.5l.7-1.1l.7 1.4l.7-.4l.7-.8l.7-.6l.7 1.2l.7 2.2l.7-1.5l.7-.6l.7 1.1l.7-.6l.7-1.6l.7 1.6l.7 1.3l.7-2.2l.7-1.1l.7 1.4l.7 1.1l.7-1.2l.7 0l.7 1.1l.7-1.5l.7-2.2l.7-2.9l.7-1.9l.7-2.9l.7-1.9l.7-4.6l.7 .3l.7-3.1l.7-1.2l.7 1.7l.7-2.3l.7 2.6l.7 1.3l.7 2.3l.7-1.5l.7 1.1l.7-3.9l.7-1.6l.7-4.5l.7-1.3l.7-4.6l.7-1.6l.7-2.7l.7-1l.7 1.9l.7 3.6l.7 .7l.7 3.1l.7 5.2l.7 5.1l.7 1.7l.7 3.9l.7 3.7l.7 1.7l.7 2.3l.7 2.3l.7-.1l.7 .9l.7 1.7l.7-.4l.7-.8l.7 0l.7-.1l.7 3.3l.7-2.1l.7 .6l.7 .1l.7-2l.7 1.8l.7-1.2l.7-1.5l.7 1.9l.7-1.4l.7 .2l.7 .4l.7 2.1l.7-2.8l.7 1l.7 1.1l.7 0l.7-.5l.7-1.1l.7 0l.7 .8l.7-1.1l.7 .6l.7-.6l.7 2.7l.7-2.6l.7 4.2l.7-2.3l.7-.3l.7-.2l.7 1.9l.7-.1l.7-2.4l.7 1l.7-.6l.7-.2l.7 .6l.7 .8l.7-2.5l.7 .2l.7 3.2l.7 0l.7 .8l.7-3l.7 .4l.7 2.3l.7-3.4l.7 1.8l.7-1l.7 .7l.7-.7l.7 3l.7-3.2l.7 .9l.7 .5l.7 2.4l.7-.8l.7 .4l.7-1.1l.7-.2l.7-.1l.7 1.1l.7-1.3l.7-1.8l.7 3l.7-1.2l.7-1.5l.7 .9l.7-.8l.7 3.4l.7-2.7l.7-2l.7 2.3l.7-1.3l.7 2.2l.7-1.2l.7-2l.7 1.5l.7-.7l.7 .3l.7 0l.7-1.5l.7 2.5l.7-1l.7 .2l.7 2l.7 1.3l.7-2.7l.7 2.5l.7-4.3l.7 2.6l.7-1.6l.7 .3l.7-1.3l.7 .4l.7 .4l.7 .2l.7 .9l.7 1.9l.7-3.6l.7 .1l.7-2.1l.7-.9l.7 4.5l.7-2.7l.7 1l.7 1.3l.7 1.3l.7-.7l.7 1.5l.7-2.5l.7-2l.7 2.1l.7 .1l.7-.8l.7 .6l.7-.4l.7 2.3l.7-2.8l.7-1.1l.7 1.6l.7-2.5l.7 2.4l.7 0l.7-1.3l.7 .5l.7 .1l.7 2.6l.7-1.2l.7-1.7l.7 0l.7 1.3l.7 0l.7-1.2l.7 .8l.7-1l.7 1.1l.7-.8l.7-.7l.7 .2l.7-1.3l.7 1.6l.7-.9l.7-1.2l.7 .2l.7-1l.7 3.2l.7-3.3l.7 .9l.7-.4l.7-1.7l.7 .4l.7-1l.7-.1l.7-.8l.7-.4l.7-1.2l.7-2.9l.7-1.9l.7-2.3l.7-3.5l.7-6.2l.7-6.7l.7-16.8l.7-26.7l.7-41.7l.7-53.6l.7-63.3l.7-54.6l.7-32.2l.7 0l.7 21.6l.7 30.2l.7 37.9l.7 41.5l.7 42.4l.7 35.5l.7 24.9l.7 15.5l.7 4.1l.7-10.2l.7-25.9l.7-43.7l.7-53.6l.7-58.2l.7-47.9l.7-16.1l.7 11.7l.7 29.3l.7 35.6l.7 39.8l.7 43.4l.7 42.5l.7 35.2l.7 26.7l.7 15.4l.7 13.6l.7 7.9l.7 4.8l.7 1.8l.7 5.3l.7-1l.7 2.2l.7-2.2l.7 2.4l.7 .5l.7-.7l.7 1.9l.7 1.6l.7-3.9l.7-.6l.7 2.2l.7-1.9l.7-1.5l.7-1.5l.7 2l.7-.4l.7 2.1l.7-1.7l.7 1.9l.7 .9l.7 1l.7 2.1l.7 .5l.7-.8l.7 1.5l.7 .7l.7 1.8l.7-.9l.7-1.1l.7 .5l.7 0l.7 .8l.7 0l.7-.5l.7-1.6l.7-1.8l.7 .4l.7-1.7l.7-1l.7 1l.7 .6l.7 1.3l.7-1.1l.7 0l.7 3.1l.7-.9l.7 2.9l.7-1.5l.7 1.3l.7-.8l.7 4.5l.7-2.7l.7 .5l.7-.4l.7 .4l.7 1.1l.7-1l.7-.3l.7 1.3l.7-2.6l.7 2.9l.7 .5l.7-3.5l.7 1.4l.7-2l.7-.9l.7 1.6l.7 1.7l.7 .3l.7-1.4l.7-.8l.7 .3l.7-.4l.7 .1l.7-1.9l.7 2.3l.7 0l.7 2.2l.7-1.9l.7-1.1l.7 .2l.7 .5l.7-.8l.7-1.5l.7 1.4l.7 .3l.7 .1l.7-.9l.7 0l.7 1.2l.7 1.1l.7 1.2l.7-.5l.7 1l.7-1.6l.7 1.7l.7-1.2l.7-1.7l.7 1.1l.7 .3l.7-1.3l.7 2l.7-.9l.7 1.1l.7-1.5l.7 1.5l.7 .4l.7-1.5l.7 .1l.7-.4l.7 1.2l.7-.1l.7 .7l.7-.8l.7-1.6l.7-.5l.7 .5l.7 .7l.7 1.9l.7-1.4l.7-1.4l.7-1.2l.7 3.1l.7-.2l.7-1.3l.7 2.4l.7-.9l.7-.3l.7-1.5l.7 3.2l.7-1l.7-.6l.7-1l.7 .3l.7 1.5l.7-1l.7 1.6l.7-.8l.7-.4l.7 .8l.7-.6l.7-1.8l.7 .8l.7 .9l.7-1.4l.7 .5l.7-.7l.7 3.2l.7-3.3l.7 .3l.7 0l.7 1.8l.7-.3l.7-2.3l.7 .8l.7-1.7l.7 .9l.7 2.9l.7-1.7l.7-.9l.7-.9l.7 1.6l.7-.8l.7-.7l.7 2.9l.7-.4l.7-1l.7 .6l.7-2.9l.7 3.6l.7-2.5l.7 1.8l.7 .1l.7 .6l.7 .8l.7-1.9l.7-.7l.7-.5l.7 1.8l.7-.7l.7 0l.7 1.7l.7 1l.7-1.2l.7-1.2l.7 .9l.7-1.9l.7-.4l.7 3.2l.7-1.5l.7 1.6l.7-3.8l.7 2.7l.7-1.2l.7 3.2l.7-3.1l.7-.1l.7 1l.7-.3l.7-.7l.7 1.4l.7-.4l.7 .2l.7-.6l.7-1.3l.7 0l.7 1.3l.7-1.7l.7 2.7l.7-1.8l.7-.9l.7 2.1l.7-1.2l.7 1.2l.7-1.2l.7 1.4l.7-2.4l.7-1.9l.7 1.1l.7 .2l.7 2.5l.7 1.1l.7-2.8l.7-1.8l.7 1.7l.7-.3l.7-.6l.7 1.3l.7-.1l.7-.9l.7 2.2l.7-1.1l.7-.3l.7 1.1l.7 2.3l.7 .7l.7-.6l.7-2.1l.7-.8l.7 1.2l.7-.8l.7 .3l.7-1.3l.7 .4l.7-.1l.7 2l.7 .1l.7-2.2l.7 1l.7-.1l.7-1.5l.7 1.1l.7 1.2l.7-1.8l.7 2.5l.7-1.9l.7-.4l.7-1.1l.7-1.9l.7 1.5l.7-.7l.7-.8l.7-.2l.7 .4l.7-.7l.7-.2l.7 1.1l.7 1.2l.7-.7l.7-1l.7 1.7l.7-1.1l.7 1.3l.7-.4l.7-.5l.7 0l.7 .7l.7 1l.7-1.9l.7 3.2l.7 1l.7-1.3l.7-.9l.7-.7l.7 1.8l.7-.1l.7-.6l.7 .6l.7-1.4l.7 .6l.7 .7l.7-.5l.7 .8l.7 .1l.7-.7l.7-.8l.7 .3l.7 2.1l.7-2.4l.7 1.3l.7-1.3l.7 3.5l.7-3.3l.7 1.2l.7-1.9l.7 4.6l.7-5.1l.7 1.7l.7-2.1l.7 2l.7-2.6l.7 .3l.7-1.7l.7 1.1l.7 .4l.7 2.1l.7-4.2l.7 3.2l.7-.7l.7-1.1l.7 0l.7 .3l.7-.9l.7-1.1l.7-3.1l.7-3.4l.7-4.3l.7-7.7l.7-5.4l.7-2.8l.7 .1l.7 2.1l.7 2l.7 .4l.7 5.7l.7 3.4l.7 3.6l.7 2.3l.7 3.2l.7 .8l.7 .5l.7 2.1l.7 .6l.7 1.9l.7 0l.7-1.8l.7-.9l.7-1.4l.7-2.7l.7-3.3l.7-9.8l.7-9.9l.7-19.7l.7-20.4l.7-20.2l.7-20.3l.7-8.5l.7 4.5l.7 9.6l.7 11.2l.7 9.8l.7 10.4l.7 12.7l.7 12.7l.7 13.7l.7 9.2l.7 9.1l.7 4.5l.7 4.1l.7 2.6l.7 .9l.7 1.6l.7 1.4l.7 1.1l.7 .7l.7-1.1l.7-.8l.7 1l.7-.3l.7 1l.7 .9l.7 1.4l.7-3.3l.7 1.8l.7 .7l.7 1l.7-.3l.7-.9l.7 .3l.7-1.8l.7 .1l.7 .9l.7-1.2l.7 3.2l.7-2.4l.7-.4l.7 1.4l.7-2.4l.7 1.8l.7 .6l.7 1.9l.7 2.3l.7-2.8l.7-1.4l.7 1.5l.7 .2l.7-2.2l.7 .7l.7 .9l.7-1.4l.7-1.4l.7 .3l.7-1.2l.7 1.4l.7 0l.7 2.4l.7-3l.7 .2l.7 2.1l.7 .6l.7-1.1l.7 .8l.7 .6l.7 .1l.7-.5l.7 .1l.7-2.5l.7 2.4l.7-.8l.7-1.1l.7 .6l.7 .4l.7 .2l.7 .7l.7 0l.7-1.3l.7 3.7l.7-2.1l.7 1.9l.7-2.7l.7 2.1l.7-1.9l.7 1.7l.7-1l.7-.5l.7-1.3l.7 .3l.7 1.2l.7-3.6l.7 1.6l.7-.5l.7 .5l.7 1.8l.7 .3l.7-1l.7 1.5l.7-2.2l.7-.1l.7 .5l.7 0l.7-.8l.7-1l.7 1.9l.7 1.3l.7-2l.7 .5l.7-1.2l.7 1.1l.7-1.3l.7 .8l.7 1l.7-1.6l.7-1.5l.7 1.7l.7-2.6l.7 3.6l.7-.6l.7-1.1l.7 1.1l.7-.5l.7 3.2l.7-1.5l.7-1.7l.7 .4l.7 .9l.7-.8l.7 .8l.7 0l.7-2l.7 2.3l.7 1.2l.7-1.4l.7 .3l.7-1.3l.7 .1l.7 1l.7-1.2l.7-.9l.7 2.5l.7-1.9l.7 .8l.7-.1l.7 .4l.7 .3l.7 0l.7-.9l.7 1.2l.7-1.4l.7 .6l.7-1.1l.7 .7l.7-1l.7 2.5l.7-1.2l.7-1.1l.7-1l.7 1.4l.7 2.5l.7-2l.7 1.7l.7-1.5l.7-.3l.7-.8l.7 1.5l.7 1.1l.7-.1l.7-.3l.7-1.9l.7 .8l.7-1.8l.7 0l.7 1.1l.7-1.6l.7 1.8l.7-.8l.7 2l.7-1.7l.7 .7l.7 .6l.7-.4l.7 .2l.7-2.3l.7 3.1l.7-2.5l.7 1.1l.7-1.9l.7 2.3l.7-.5l.7 .4l.7-1l.7 .5l.7-1.1l.7 .2l.7 .8l.7-3.1l.7 2.6l.7 .4l.7-.9l.7 1.5l.7 1.8l.7-1.6l.7-1.6l.7 1l.7-.5l.7-1.7l.7 1.2l.7 .6l.7 .1l.7 .4l.7-.2l.7 .1l.7-.6l.7 .1l.7-.2l.7 1.2l.7-.5l.7-.4l.7 1.6l.7 1.9l.7-2.7l.7 1.4l.7-2.3l.7 .4l.7 .5l.7 .1l.7 1.3l.7-2.6l.7 1l.7 1.6l.7 0l.7-2.5l.7 .6l.7 .9l.7 .1l.7-2.4l.7 1.5l.7-2.7l.7 3.6l.7 .8l.7-3l.7 1.1l.7-.9l.7 1.3l.7 1.3l.7 0l.7-.4l.7-2.1l.7 .4l.7 2.8l.7-2l.7-.8l.7 .7l.7-.8l.7 1l.7-.9l.7 .2l.7-.9l.7 3.5l.7-1.2l.7-.2l.7 .1l.7-1.3l.7-1.3l.7 1.5l.7-.1l.7-.4l.7-1l.7-1.2l.7 2.4l.7-.5l.7-.6l.7-.3l.7 .3l.7-.1l.7-.5l.7 1.8l.7-.4l.7 .6l.7-1l.7 .5l.7-1.6l.7 1.9l.7 1.9l.7-2.4l.7 .4l.7-.1l.7-1l.7-.5l.7-2.3l.7 .5l.7 2.2l.7-1.7l.7-.2l.7 1.8l.7-4.1l.7 2.8l.7-.8l.7-3.4l.7 .7l.7 .3l.7-2.2l.7-1.2l.7-.1l.7-3.7l.7-4.6l.7-9.1l.7-13.6l.7-20.1l.7-24.3l.7-31.4l.7-27.3l.7-12.7l.7 2.5l.7 17.1l.7 10.4l.7 14.3l.7 8l.7 9.8l.7 9.2l.7 15.2l.7 17.7l.7 14.9l.7 10.9l.7 8.3l.7 4.5l.7 4.2l.7 .7l.7 .2l.7 2.7l.7-2.2l.7-.6l.7 1.5l.7 .5l.7 .4l.7 .3l.7 1.4l.7-.2l.7-.2l.7 2.8l.7-1.6l.7 1.4l.7-.9l.7 .5l.7 1.6l.7-3.2l.7 3.7l.7-.9l.7 .9l.7-1.5l.7 .3l.7-.4l.7-1.2l.7 1.1l.7 2.1l.7-.7l.7 .1l.7-1.9l.7-.1l.7-.6l.7-1.9l.7 1.9l.7-.6l.7 1.4l.7-.6l.7-1.3l.7-2.3l.7-.3l.7 1.7l.7-1.3l.7 .8l.7-1.6l.7 1.5l.7-1.4l.7 .1l.7 1.4l.7-.5l.7 .2l.7 3.6l.7 0l.7-.7l.7 1.1l.7 1.7l.7-1.6l.7-2.1l.7 5l.7-4.2l.7 .9l.7-2l.7-.1l.7 2.7l.7-1.9l.7 2.1l.7-.9l.7 .1l.7 1l.7 .3l.7 1l.7-2.8l.7 .9l.7 1.6l.7 0l.7-1.6l.7-.9l.7 1.1l.7-3.5l.7 1.1l.7 2.9l.7-2.7l.7 3.6l.7-2.1l.7 .3l.7 2.8l.7-1.7l.7-.9l.7 .1l.7 .1l.7-1.6l.7 2.6l.7-.5l.7-1l.7 1.4l.7-1.9l.7-1.7l.7 .4l.7 1l.7 .3l.7 1.7l.7-2.5l.7 1l.7 .4l.7-.4l.7-.2l.7-1.5l.7 .8l.7 2.7l.7-2.1l.7-.1l.7-1.1l.7 1.6l.7 1.7l.7-2.6l.7-.4l.7 1l.7-.5l.7-.3l.7 2.8l.7-1.5l.7-2.3l.7 1.6l.7 1.2l.7-1.2l.7 1.3l.7-2l.7 1.9l.7-.4l.7 .8l.7-.7l.7-.7l.7 1l.7 .1l.7 .1l.7-2.4l.7 .8l.7 .2l.7-.3l.7-.3l.7 .4l.7 1.3l.7 .4l.7-.4l.7-.5l.7-3.9l.7 3.2l.7 1.5l.7-1.5l.7 2.2l.7-2.2l.7 .5l.7-1l.7 .6l.7-2l.7 1.3l.7-.4l.7 0l.7-.5l.7 3l.7-2.1l.7 2.2l.7-.8l.7 .8l.7-.4l.7 .1l.7-1.3l.7 4.1l.7-2.1l.7-.3l.7-3.7l.7 1.4l.7-.3l.7 .6l.7-1.4l.7 1.1l.7-.7l.7 .7l.7 .4l.7-2l.7 .3l.7-.2l.7 2.1l.7-.7l.7-.1l.7-.8l.7 1.8l.7-.4l.7 .1l.7-.4l.7-1.1l.7 3.2l.7-1.1l.7 .6l.7-.8l.7 2.5l.7-2.2l.7 .3l.7-1l.7-1l.7 1.2l.7-1.8l.7-.6l.7 1.3l.7 .3l.7 .6l.7-.7l.7 .4l.7-2.5l.7 .6l.7 1.9l.7 .5l.7-2.4l.7 2.6l.7-.4l.7 1l.7-2.8l.7 1.1l.7 .3l.7-2.4l.7 .9l.7 2l.7-1.1l.7 1.2l.7-.8l.7-1.8l.7 1.6l.7 .4l.7-.8l.7 2l.7-2.3l.7 1.5l.7-.2l.7-.6l.7-.9l.7-.9l.7 .6l.7 .8l.7-.8l.7 .1l.7-.4l.7-.4l.7 .6l.7 .6l.7-2.6l.7 1.7l.7-2.3l.7 3.9l.7-3.7l.7 .4l.7 1l.7-1l.7-.2l.7-.5l.7-3.3l.7 .5l.7-5.8l.7-4.4l.7-6.7l.7-15.9l.7-15.6l.7-21.4l.7-22.5l.7-21.2l.7-6.8l.7 3.1l.7 15.4l.7 13.5l.7 8.5l.7 5.4l.7 3l.7 4.4l.7 8.4l.7 13.4l.7 10.4l.7 10l.7 5.3l.7 6.4l.7 3.2l.7-1.8l.7-4.5l.7-6.5l.7-8.7l.7-12.1l.7-11.7l.7-3.3l.7 2.9l.7 4.6l.7 8.7l.7 5.6l.7 4.6l.7 .5l.7 .9l.7 1.6l.7 7.9l.7 4.3l.7 5.9l.7 6.6l.7 1l.7 3.8l.7 .9l.7 1.8l.7-.4l.7 .8l.7 2.4l.7-.7l.7-.2l.7-.2l.7 .7l.7-.8l.7 .9l.7-.6l.7-1.5l.7 .4l.7 1.5l.7 3.2l.7-.5l.7-2l.7-.6l.7 0l.7-.1l.7 1.2l.7-2.3l.7-1.1l.7 1.1l.7-.5l.7 3.3l.7-1.5l.7 .5l.7 0l.7-1.8l.7 2.6l.7 .4l.7-1l.7 .9l.7-.6l.7 .4l.7 1.1l.7-1.2l.7 1l.7-.4l.7-.2l.7-.5l.7-.1l.7 .9l.7 1.5l.7-.7l.7 1l.7-1.3l.7-1.9l.7 2.8l.7-1.5l.7 1l.7-.6l.7-.1l.7-.6l.7-3.9l.7 4.1l.7-.7l.7 .4l.7 0l.7-.7l.7 .4l.7-2l.7 1.9l.7 .8l.7-.3l.7-2.2l.7-1.6l.7 1.2l.7 .9l.7 .7l.7 1.8l.7-.1l.7-2l.7 1.7l.7-.8l.7 1.6l.7-1.4l.7 2l.7-2.4l.7-.3l.7-1l.7 1.6l.7-.7l.7 .6l.7 .7l.7-1.6l.7 2.7l.7-1.4l.7-1.1l.7-.7l.7-.5l.7-.4l.7 1.5l.7-1l.7-.7l.7-1.2l.7 .4l.7 1.7l.7-1.9l.7-2.7l.7-.5l.7 3.2l.7-2.5l.7 1.6l.7 .1l.7-.1l.7 1.5l.7-2.4l.7 1.1l.7-.5l.7-.3l.7 1l.7 2.9l.7 .4l.7-2.1l.7 2l.7-1.1l.7 .8l.7-2.3l.7 1.1l.7-.1l.7-.9l.7 .7l.7 .4l.7 .7l.7 1.8l.7-.1l.7 .1l.7-1l.7 .6l.7-1.9l.7 1.4l.7 1.4l.7-.6l.7-1l.7 1.3l.7-.5l.7-.3l.7-1l.7 1.4l.7-.8l.7-.5l.7 .9l.7 .5l.7 .4l.7-.6l.7-3.4l.7 3.1l.7-.5l.7-.2l.7 .9l.7 .1l.7-1.2l.7-.8l.7-.5l.7 .5l.7-.4l.7-1.9l.7 2l.7-.9l.7-1.5l.7 .3l.7-2.1l.7-2.4l.7 .5l.7 .3l.7-3.2l.7-1.9l.7 1.7l.7-3.6l.7 .4l.7 1.4l.7-.7l.7 2.5l.7-1.7l.7 .7l.7 .5l.7-1l.7 .9l.7-2l.7 5l.7-1l.7 .7l.7 .8l.7 2.1l.7 .2l.7 1.7l.7-.6l.7-.8l.7 .6l.7-.2l.7 1.2l.7 0l.7-.2l.7 1.4l.7-.8l.7 .6l.7-.6l.7 .5l.7-1.6l.7 .8l.7 .1l.7-1.2l.7 .8l.7-.9l.7 .1l.7-3.7l.7-3.1l.7-4.8l.7-5.2l.7-10.7l.7-12.3l.7-10.7l.7-8.7l.7-2.2l.7 3l.7 5.4l.7 9.7l.7 2.6l.7 3.3l.7 .4l.7-2.4l.7 3.9l.7 4.7l.7 8.3l.7 3l.7 6.6l.7 3.1l.7 3.4l.7 .9l.7 3.2l.7 .8l.7 0l.7-3.6l.7-.9l.7 .9l.7-.2l.7-2.7l.7-4.8l.7-6.6l.7-7.8l.7-16.6l.7-25.1l.7-27.5l.7-29.7l.7-21.5l.7-11l.7 8.1l.7 15.4l.7 18.7l.7 9.6l.7 .1l.7-9l.7-14l.7-12.1l.7-1.1l.7 3.7l.7 15.7l.7 19.9l.7 23l.7 15.6l.7 8.9l.7 4.1l.7 2.6l.7 1.3l.7 3.8l.7 8.7l.7 8.8l.7 7.3l.7 7l.7 4.2l.7 4.6l.7 1.3l.7-.1l.7 2.5l.7-.1l.7-.5l.7 .2l.7 .6l.7-1.8l.7 1.5l.7 .5l.7-.6l.7 1.3l.7 .3l.7-.3l.7 1.7l.7 .5l.7 .2l.7 .7l.7-1.7l.7-.5l.7 .3l.7 1.2l.7 .5l.7-2.2l.7 1.1l.7-.6l.7 .8l.7-3.3l.7 2.4l.7-1.4l.7-1.1l.7 4.2l.7-1.3l.7 2.4l.7-.7l.7 .3l.7-.9l.7-1.7l.7 .8l.7-2.1l.7 .6l.7 2.1l.7 1.6l.7-1.7l.7-1.6l.7 .8l.7 .5l.7 .5l.7-.7l.7 2l.7-.5l.7-.5l.7-.5l.7 3.3l.7-2.8l.7 .4l.7-.5l.7 1.4l.7-2.1l.7 2.5l.7-2.3l.7 2.4l.7-2.6l.7-.1l.7 .4l.7 1.2l.7-.3l.7-.7l.7 1l.7 1l.7-2.6l.7 3.3l.7-1.4l.7-2.9l.7 2.8l.7-.8l.7-.7l.7 0l.7-.2l.7 1.4l.7-.5l.7 .5l.7-.9l.7 1.6l.7-1.5l.7 1l.7-.4l.7 .3l.7 1.3l.7-.3l.7-1.3l.7-.4l.7-.8l.7 1l.7-.2l.7 .8l.7-.6l.7-.3l.7 .8l.7-1l.7 1.4l.7 .8l.7 .8l.7-1.5l.7-.2l.7 .2l.7-1.4l.7 .2l.7-.5l.7-.1l.7-.8l.7 .8l.7 .4l.7-.3l.7-.3l.7 .8l.7 1.7l.7-1.5l.7-.6l.7 2.6l.7-2.3l.7 2.3l.7-1l.7-2l.7 1.2l.7-.1l.7 0l.7 .1l.7 1l.7-.3l.7 1l.7-1.8l.7 .1l.7 .8l.7-.7l.7-.2l.7 .8l.7-1.4l.7-.2l.7 .5l.7 .9l.7 0l.7-2l.7 .5l.7 1.1l.7 .1l.7-.8l.7 2.1l.7-1l.7 .3l.7-.7l.7 1.6l.7-.5l.7-1.9l.7 1.3l.7-.2l.7 0l.7-.6l.7 1.1l.7-1.7l.7 .1l.7 .1l.7 .8l.7 .8l.7-3.3l.7 1.9l.7-.8l.7 1.3l.7-1.8l.7 3.3l.7-2.4l.7 2.3l.7-2.6l.7 2l.7 1.3l.7-.5l.7-2.7l.7-.2l.7-.5l.7 2.3l.7-1.9l.7 3.8l.7-.9l.7 .8l.7-2.2l.7 .2l.7-.1l.7-1.8l.7-.2l.7 1.5l.7-.7l.7 .1l.7-1.5l.7 1.5l.7 .7l.7-1l.7-.6l.7 1.9l.7 .6l.7-.2l.7-1.2l.7-1.5l.7 3.5l.7-2l.7-1.2l.7-.5l.7-1.6l.7 4.1l.7-.9l.7 .5l.7-.5l.7-.2l.7 .5l.7-2l.7 .8l.7 1.7l.7 1.1l.7-.4l.7 .2l.7-1.7l.7-.2l.7 .5l.7-.5l.7-.5l.7 .1l.7-1.7l.7 .2l.7 2.6l.7-.5l.7-.8l.7 1.1l.7 3.5l.7-4.7l.7 .9l.7-.6l.7-.6l.7-.1l.7 2.3l.7-1.5l.7-1l.7 4l.7-2.6l.7 1.5l.7-.7l.7-.8l.7 1.9l.7-3.2l.7 1.1l.7 .1l.7-2.1l.7 .7l.7 1.7l.7 1l.7-1.8l.7-3.5l.7 3.8l.7-2.7l.7 1.3l.7 1.4l.7 .7l.7-.1l.7 0l.7 2.8l.7-4.5l.7 1.6l.7 .6l.7-.5l.7-2.5l.7 3.4l.7-.1l.7-2.4l.7 0l.7 2l.7-1.5l.7-1.3l.7 1.8l.7-1.1l.7 .1l.7-1l.7 2.7l.7-1.4l.7-.3l.7 .3l.7 1.2l.7-1.2l.7 .8l.7-1.4l.7 1.2l.7 .6l.7-1.8l.7 .1l.7-1.7l.7 1.3l.7 2.6l.7-1.1l.7-2.8l.7 .5l.7 .2l.7 .6l.7-.1l.7 .1l.7 .9l.7-.1l.7-.4l.7 .7l.7-3.6l.7 1.3l.7 .3l.7 .6l.7-.2l.7 .9l.7 0l.7-.8l.7 0l.7 .6l.7-1l.7 .4l.7 1.1l.7-.8l.7 2l.7 .4l.7 1.2l.7-3.4l.7 0l.7 1.4l.7-2.4l.7 1l.7-.8l.7 2.5l.7-2.6l.7 1.1l.7-.3l.7 2.3l.7-1.2l.7-2.2l.7 3.7l.7-3.5l.7 2l.7 1l.7-1.2l.7 .1l.7-.6l.7-.6l.7 4.2l.7-1.9l.7 0l.7-3.5l.7 1.2l.7-1l.7 2.2l.7 .9l.7-2.9l.7-.2l.7 2.5l.7-2.7l.7 2.2l.7-1.2l.7 1.3l.7-1.5l.7-1.4l.7 1.9l.7-1.7l.7 2.4l.7 1.9l.7-.6l.7-3l.7-.5l.7-1.3l.7 1.4l.7-.6l.7 .5l.7 3.2l.7-1.7l.7-.3l.7-.9l.7 1l.7 .7l.7 .1l.7 1.2l.7 .4l.7-1.7l.7-.6l.7 2.2l.7-3.6l.7 1.7l.7 0l.7 1.8l.7-2.3l.7-.7l.7 3.2l.7-2.9l.7-1.9l.7 .9l.7 1.5l.7 1.5l.7-.8l.7-.8l.7-1.1l.7 .6l.7 .6l.7-1.5l.7 1.3l.7 1.9l.7-2.1l.7-.2l.7-.2l.7 .5l.7-.9l.7 1.9l.7-.4l.7 .3l.7-1.5l.7 1.1l.7 .6l.7-2.3l.7-.3l.7 .2l.7-.8l.7 .3l.7 1.6l.7-.9l.7-.4l.7 .2l.7-.4l.7 2l.7-2.1l.7 .6l.7-.3l.7-2.2l.7 1.5l.7 .7l.7-3l.7 .8l.7 1.5l.7-.5l.7 .4l.7-.3l.7-3.4l.7-3.1l.7-4.8l.7-8.4l.7-3.8l.7-3.9l.7 .1l.7 .8l.7 5.4l.7 4.5l.7 1.3l.7 1.2l.7 3.3l.7-3.1l.7 .8l.7-1.4l.7 1.8l.7-.5l.7 7.2l.7-2.7l.7 3.7l.7 3.2l.7 1.7l.7-.1l.7 .4l.7-2.1l.7 1.8l.7 1.2l.7-3.2l.7 .5l.7 1.4l.7 1l.7-1l.7-2.3l.7 0l.7-.6l.7-3l.7 .9l.7-7.5l.7-7.1l.7-10.3l.7-8l.7-9.7l.7-4.4l.7-.5l.7 4.2l.7 8.5l.7 8.9l.7 2.6l.7 3.1l.7 1.4l.7-2.9l.7-.4l.7-1.8l.7 4.4l.7 4l.7 3.5l.7 3.7l.7 5.2l.7 2.2l.7 .2l.7 3.9l.7-.9l.7 3.4l.7 .7l.7-.6l.7 .9l.7-2.4l.7 1.5l.7 .4l.7-1.9l.7 0l.7 3.6l.7-1l.7 1l.7-.9l.7-4.8l.7 1.4l.7 .8l.7 .4l.7 .6l.7-.4l.7 1.1l.7-.7l.7 2.4l.7-2.8l.7-.2l.7 1l.7-1.9l.7 .7l.7-1.1l.7 1.1l.7 .6l.7-2l.7-.1l.7 .6l.7 2.4l.7 0l.7 .6l.7 .8l.7-2.2l.7-.5l.7 .7l.7 .4l.7 .9l.7-1l.7 .5l.7-1.3l.7-1.2l.7 3.7l.7-1.9l.7-.7l.7 .5l.7 2.2l.7-2.9l.7 .2l.7-.1l.7 .4l.7-1.8l.7 3.4l.7-1.6l.7-1.3l.7 2l.7-1.6l.7 2.2l.7-1.6l.7 .4l.7 .6l.7 .5l.7-1.4l.7-.1l.7 .8l.7-2.6l.7-1.3l.7 2.7l.7 0l.7 1l.7-1.4l.7 1.6l.7 .6l.7-1.1l.7-.6l.7-.3l.7 .9l.7-1.4l.7 1.8l.7 .8l.7-1.3l.7 1.9l.7-2.3l.7 .5l.7-.5l.7-3l.7 1.4l.7 1.2l.7 .5l.7 .5l.7-1.8l.7 1.1l.7-2l.7 2.4l.7-.8l.7 1.1l.7-2.3l.7 3l.7-1.4l.7-1.7l.7 2.2l.7 1.5l.7-2l.7 .2l.7-1.9l.7 1.7l.7 1.4l.7-.8l.7-.7l.7-.9l.7 2.4l.7-3.3l.7-1.6l.7 2l.7-.5l.7 .3l.7-.1l.7 0l.7-.4l.7 2.4l.7-2.1l.7 .5l.7 1.5l.7 .7l.7-.6l.7-1.2l.7-.9l.7 .5l.7-.5l.7 .4l.7 1.4l.7-1.1l.7 1l.7-1.5l.7 .6l.7 .6l.7 .5l.7-1.8l.7-.2l.7 2.7l.7-1.9l.7-1l.7-1.2l.7 1l.7 1.4l.7-.2l.7-3.4l.7 .6l.7-.4l.7-1.6l.7-3.4l.7-4.3l.7-5.2l.7-7.5l.7-5.2l.7-3.8l.7-1.8l.7 4.9l.7 4.7l.7 3.4l.7 4l.7 3l.7 .7l.7-.9l.7-1.8l.7-1.6l.7 2.8l.7 1.3l.7 1.2l.7 3l.7 2.9l.7 2.8l.7 .9l.7 2.2l.7-2.4l.7 2l.7 .7l.7-.6l.7 1.6l.7-.2l.7-.7l.7-.9l.7 .9l.7-2.4l.7 .5l.7-2.8l.7-1l.7-4.7l.7-4.7l.7-2.9l.7-6.4l.7-2.7l.7-4.9l.7 .1l.7 3.2l.7 4l.7 5.9l.7 2.4l.7 3l.7-1l.7 .9l.7-3.2l.7-2.5l.7-1.1l.7-2.5l.7-2.8l.7-.1l.7-1l.7-3.4l.7 2l.7 2.8l.7 4.1l.7 2.2l.7 8.6l.7 1l.7-.7l.7-1.6l.7-1.6l.7-1.8l.7 1l.7 2.4l.7-.7l.7 3.5l.7 3.2l.7 2.1l.7 .6l.7-.3l.7 3.5l.7-1.1l.7 .4l.7 .7l.7-1.7l.7-.3l.7 .2l.7 2.9l.7-.9l.7-1.8l.7 .4l.7 1.4l.7-1.3l.7 1.2l.7 .3l.7-.4l.7 .5l.7 .4l.7-1.8l.7 .3l.7 1.9l.7-1l.7-.1l.7 .5l.7-.8l.7-.2l.7 1.7l.7-1.1l.7 .8l.7 .8l.7 .9l.7-2.9l.7 3l.7-.7l.7-2.4l.7 1.9l.7-1.9l.7 1.7l.7-1.4l.7 .5l.7-1.7l.7 1.6l.7-.2l.7 .9l.7-1.8l.7 .6l.7 1.8l.7-2.9l.7 1.4l.7-1.3l.7 1.7l.7-2l.7 2.7l.7-2l.7-.5l.7 0l.7 .2l.7 1.4l.7-.4l.7 .6l.7-.6l.7-1.6l.7 .1l.7 1.6l.7 .7l.7-.2l.7-.1l.7-2l.7-1.2l.7 3.8l.7-1.4l.7-.9l.7 .8l.7 .7l.7-1.3l.7-1l.7 .6l.7 1.1l.7-.1l.7-3.3l.7 3.3l.7-.7l.7 1.1l.7-3.8l.7 2.1l.7-.5l.7 .5l.7-.5l.7 1.2l.7-.3l.7 1.7l.7 2.6l.7-3.5l.7-.7l.7 4.4l.7-3.9l.7-.3l.7 1.3l.7-2.1l.7 .8l.7-1.5l.7 2.2l.7-1.4l.7 .2l.7 .4l.7 2l.7-1.4l.7 .4l.7 .8l.7 .8l.7-4.2l.7 3.6l.7 .2l.7 .1l.7-.7l.7-1.7l.7 1l.7-.6l.7-.2l.7-.8l.7-.3l.7-2.2l.7 2.9l.7 .9l.7 .7l.7 1.2l.7 .2l.7-1.2l.7 1.3l.7-1.3l.7 1.7l.7-1.8l.7 2l.7-3.5l.7 1.2l.7-.8l.7-1.7l.7-.4l.7 .1l.7 2.6l.7-1.2l.7-.3l.7 .2l.7 2.1l.7-1.5l.7 3l.7 0l.7-2.1l.7-1.1l.7 1.6l.7-2l.7 2.3l.7-.2l.7-.2l.7-.8l.7 .8l.7-1l.7-.2l.7-1l.7 1.6l.7-3.7l.7 .2l.7 1.9l.7-.8l.7-2.1l.7 1.6l.7-1.3l.7-3.9l.7 3.8l.7-3.9l.7-3l.7-4.4l.7-7.3l.7-6.6l.7-5.6l.7-7.4l.7-.7l.7 .6l.7 8.3l.7 5.9l.7 6l.7 3.4l.7 1.5l.7-.7l.7-.3l.7-2.6l.7-3.9l.7 .1l.7-.2l.7 2.8l.7 4l.7 5.2l.7-1.4l.7 4.1l.7 2.3l.7-.4l.7-2.5l.7-4.5l.7-3.8l.7-6.3l.7-7.7l.7-8.5l.7-6.2l.7 0l.7 4.6l.7 5.7l.7 7.5l.7 4.9l.7 7.1l.7 .4l.7-2.9l.7 .9l.7-1.4l.7-6.5l.7 4.1l.7-.2l.7 4.1l.7 2l.7 5.8l.7 3.2l.7 3.6l.7 .2l.7 1.6l.7-.2l.7 4l.7-1.5l.7-1.2l.7 .3l.7-1.3l.7 .4l.7 .3l.7-2.7l.7-.4l.7 .6l.7 .7l.7 2.7l.7-1l.7-.1l.7 1.6l.7-.1l.7 0l.7 .2l.7 .3l.7-2.4l.7 3.6l.7-.5l.7 .5l.7 .2l.7-.8l.7 .6l.7-1.6l.7 2.4l.7-.3l.7-1.2l.7-.9l.7 .5l.7-2.4l.7 1.8l.7 3.7l.7-3l.7-.7l.7 .2l.7-1.3l.7-1l.7 2.2l.7-2.3l.7 2.6l.7 0l.7 .3l.7 .7l.7-.4l.7 2.4l.7-1.9l.7 2.1l.7-3l.7-.2l.7-.6l.7-1.7l.7 .2l.7 4.7l.7-1.7l.7-.8l.7 2.4l.7-1.3l.7 0l.7-2.1l.7-.3l.7 1.5l.7-2.5l.7-.9l.7 2.8l.7-.3l.7-.1l.7-.3l.7 1.6l.7-2.3l.7 .8l.7 1.2l.7-.9l.7 .5l.7-1.7l.7 .5l.7 1.7l.7-1.3l.7 2.4l.7 .2l.7-2.6l.7 0l.7 1.1l.7-.3l.7-.1l.7 .1l.7-2.3l.7 2.6l.7-2.4l.7-.6l.7 .2l.7 3.2l.7 1.4l.7-1.7l.7-.2l.7-1l.7-1.2l.7 1.1l.7-2.1l.7 2l.7 2.9l.7-3.4l.7 3.8l.7-2.9l.7-.8l.7 2.4l.7-.3l.7 .9l.7-1l.7-2.7l.7 1.3l.7 .7l.7-1l.7 2.2l.7 .2l.7-2.7l.7 .5l.7-.7l.7 2.2l.7 .2l.7-3.2l.7 .9l.7 2.4l.7-2.7l.7 2l.7 .3l.7-1l.7 2.8l.7-1l.7-1.8l.7 1.2l.7-1.8l.7 1l.7 .2l.7-1l.7-1.6l.7-.1l.7 3l.7-.3l.7-.1l.7-1.3l.7-2.3l.7 .5l.7 1.9l.7 2.1l.7-2.2l.7 3.2l.7-5.1l.7 .5l.7 1.1l.7 1.4l.7-2.4l.7-.4l.7-1.1l.7 1.2l.7 0l.7-.2l.7-4.3l.7-1l.7-4.3"/>
<path stroke="#0000ff" stroke-width="8.4" d="M205.0 1167.7l.7-1.3l.7-.2l.7-1.7l.7 1.8l.7 .1l.7 .2l.7-.6l.7 .4l.7-.6l.7-1l.7 2.1l.7 0l.7 .9l.7-1.4l.7-.3l.7 0l.7-.8l.7 2.8l.7-2l.7-.2l.7 .7l.7 1.2l.7-1.7l.7-1.5l.7 .3l.7 1.6l.7-.5l.7-.4l.7 .6l.7 .9l.7 1.1l.7-3.3l.7 .5l.7-.3l.7-1.7l.7 1.3l.7-.5l.7 1.9l.7-1.3l.7-1.3l.7 2.4l.7-.9l.7-1.5l.7 .8l.7-.4l.7-.5l.7 1.1l.7-1.8l.7 2.4l.7 1.5l.7-.1l.7 .1l.7-.3l.7 .2l.7-2.5l.7 2.1l.7-2.5l.7 1.4l.7-1.3l.7 2.9l.7 .2l.7-1.5l.7 2.2l.7-2.2l.7 1l.7 0l.7-1.3l.7 1.4l.7 1.4l.7-3l.7 1.9l.7-1.1l.7 1.6l.7-1.5l.7 .1l.7 0l.7-.3l.7-1.5l.7 2.9l.7-2.9l.7 1.5l.7 .1l.7-1.5l.7 .9l.7 1.1l.7-1l.7-.7l.7-1.9l.7 1.9l.7 .2l.7-.1l.7-.5l.7 1.3l.7-1l.7 .5l.7 .8l.7-1.5l.7 .9l.7 2.9l.7-.8l.7-1.9l.7 1.2l.7 .4l.7 .5l.7-1.3l.7-.9l.7-.3l.7 1.4l.7-.3l.7-.6l.7 .4l.7-.2l.7 .8l.7-2.1l.7 .4l.7-.3l.7-.8l.7-1.5l.7 2.2l.7-2.1l.7 1.1l.7-1.3l.7-1.3l.7 1.5l.7-.6l.7-1.1l.7-.5l.7-1.9l.7-1.5l.7-1.6l.7-1.8l.7-8.1l.7-13.2l.7-17.6l.7-27.6l.7-33.2l.7-32.8l.7-25.8l.7-7l.7 12.3l.7 24l.7 29.2l.7 31l.7 23.5l.7 20.6l.7 13l.7 8.1l.7 6.4l.7 2.9l.7 .5l.7 2.8l.7-2.2l.7 1.1l.7-.1l.7 .7l.7-.5l.7 1.5l.7 .7l.7 1.7l.7-1.4l.7 1l.7-.2l.7-1.2l.7 3.6l.7-3.1l.7-1.7l.7 2.9l.7-2.3l.7 1.8l.7 .7l.7-1.5l.7 .1l.7-.3l.7 .4l.7-1.4l.7 .7l.7 1.2l.7 1.3l.7-.4l.7 1.1l.7-1l.7-1.1l.7 .5l.7-1.8l.7 1l.7-.2l.7 1.2l.7 .4l.7-1.2l.7-.1l.7-1l.7 1.4l.7 .3l.7 .2l.7-1.1l.7 2.8l.7-.8l.7-1.3l.7-.5l.7 .3l.7 .5l.7 0l.7 .6l.7 .2l.7 .5l.7-.4l.7-1.2l.7 .7l.7-.3l.7 .2l.7 2.6l.7-2.4l.7 2.2l.7-2.6l.7 .4l.7 .8l.7-1l.7 .5l.7-.7l.7-.2l.7 .3l.7-.5l.7 2.2l.7-1.9l.7 1.7l.7-4.5l.7 2.7l.7 .6l.7-.7l.7 1.4l.7-.3l.7-.8l.7 .9l.7 2.4l.7-2.4l.7 .3l.7-.5l.7 .9l.7-1.1l.7 1.1l.7 2.3l.7-2l.7-1.1l.7 0l.7 .6l.7-1.1l.7 1.9l.7-.5l.7-.7l.7 1.8l.7-4l.7 1.8l.7 .8l.7-1.4l.7 .6l.7-.7l.7-.4l.7 3.1l.7-2.2l.7-.7l.7 1.3l.7-1.7l.7 1l.7-.6l.7 1.4l.7-2.9l.7 2.6l.7-.4l.7-1l.7 2.2l.7-2l.7 2.4l.7-1.1l.7 .1l.7-.7l.7 .9l.7-2.7l.7 2.2l.7-.5l.7 1l.7-.4l.7 .6l.7-1.5l.7 2.6l.7 .5l.7-2.4l.7 .3l.7 .3l.7 .9l.7 .5l.7-3.3l.7 .3l.7-.6l.7-.1l.7-.4l.7 2.3l.7-1.2l.7 2.9l.7-.6l.7-2.1l.7-.3l.7-.1l.7 1.7l.7-2.3l.7-.6l.7 1.5l.7 .3l.7-1.4l.7 1.9l.7-1.5l.7 .4l.7-.9l.7 1.2l.7 .3l.7-1.9l.7 2.5l.7-2.1l.7 1.7l.7-1.4l.7 3.5l.7-1.7l.7 .6l.7 .1l.7-2.3l.7-1.1l.7 1.8l.7 1.1l.7-.9l.7 .6l.7 .1l.7-2.4l.7 1.8l.7 1.5l.7-2.7l.7-1.6l.7 1.8l.7-.1l.7 1.1l.7-1l.7 1.3l.7-2.3l.7 3l.7 .6l.7-.5l.7-3l.7 1.7l.7-3.4l.7 3.2l.7-.2l.7-.8l.7 1.5l.7 0l.7 .8l.7-.8l.7 0l.7-2.2l.7 .6l.7 .5l.7 .6l.7-.4l.7 1.3l.7-2.4l.7 .7l.7 .6l.7-.5l.7 .7l.7-1.1l.7 2.2l.7-1.5l.7 1.8l.7-.8l.7 1.8l.7-2.7l.7 2.1l.7-1l.7 .4l.7 .4l.7-3l.7-.9l.7-.1l.7 1l.7-2.2l.7 2l.7-1.4l.7 .2l.7 1l.7 1l.7-1l.7 0l.7-.1l.7-1l.7-3.4l.7 1.1l.7-1.1l.7-1l.7-1.8l.7-4.8l.7-5l.7-6.2l.7-5l.7-5.6l.7-5.4l.7-6.7l.7-1.2l.7 1l.7 3.9l.7 3.2l.7 5l.7 6.1l.7 6.4l.7 5.1l.7 5.9l.7 3.5l.7 1.8l.7 1.9l.7-.6l.7 1.7l.7 .2l.7 1.3l.7 2l.7-.6l.7-1.6l.7 1.6l.7-.7l.7-1.1l.7 .6l.7 1.8l.7 1l.7-1.9l.7 1.8l.7 .4l.7-2.2l.7 1.2l.7-.1l.7 .1l.7-1.7l.7 1.5l.7 1.7l.7 .4l.7 .6l.7-2.5l.7 1.8l.7-1.7l.7-2.4l.7 2l.7-1.1l.7 .8l.7-.4l.7 1.5l.7-.7l.7-.4l.7 1.1l.7-1l.7-1.1l.7 1.4l.7-1.9l.7-.2l.7 .4l.7-.5l.7 1.3l.7 2.7l.7-2.5l.7 .9l.7-1.3l.7 .3l.7 1.9l.7-.7l.7-1.5l.7 .7l.7-.7l.7 .2l.7 0l.7 .2l.7 1.3l.7 .2l.7-.2l.7-.7l.7-1.4l.7 1.2l.7-1l.7 1.7l.7-.3l.7 .1l.7-1.1l.7-1.6l.7 2.7l.7 .4l.7-2.6l.7 1.9l.7 1.3l.7-2.1l.7 2.8l.7-2.3l.7-1.1l.7 1.9l.7-1.4l.7-1.1l.7 1.6l.7-2.5l.7 4.3l.7-2l.7 1.6l.7-.1l.7 1.3l.7 .7l.7-1.8l.7 1.2l.7-1.7l.7-1l.7-.1l.7-1.1l.7 .2l.7 1.9l.7-.8l.7 1.6l.7-.4l.7-1.3l.7-1.1l.7 .8l.7 .5l.7-.4l.7-.8l.7 2l.7-2.5l.7 .6l.7 1.3l.7 1.7l.7-2.3l.7-1.9l.7 1.3l.7 0l.7 .5l.7-.9l.7 .2l.7 1.4l.7 .5l.7 1.2l.7 .3l.7-3.2l.7-.2l.7 .2l.7-.4l.7 .6l.7 .1l.7-.1l.7 1.5l.7-1.1l.7-.5l.7-.2l.7 .7l.7 0l.7-1l.7 2.2l.7-1.1l.7-1.3l.7-1.1l.7-1.1l.7 .7l.7 3l.7-3.7l.7 2.6l.7 .6l.7-.8l.7-.9l.7 .4l.7-2.5l.7 1.1l.7 .2l.7-3l.7-.2l.7 .5l.7 .6l.7 .2l.7-.8l.7-1.5l.7-.6l.7 1l.7 0l.7-1.5l.7 1.3l.7 .6l.7 1l.7-1.8l.7 1.7l.7-1.8l.7 .5l.7 .1l.7 1.4l.7 1.6l.7-3.4l.7-.3l.7-.4l.7-3.7l.7 .7l.7-3.5l.7 1.3l.7-1.9l.7-3.4l.7-5.6l.7-5.5l.7-15.8l.7-24.5l.7-36.8l.7-53l.7-57.2l.7-54.4l.7-32l.7 1l.7 21.2l.7 31.5l.7 34.1l.7 39l.7 38.7l.7 34.9l.7 24.8l.7 13.4l.7 3.4l.7-9.5l.7-24.4l.7-41.9l.7-54.6l.7-59l.7-46l.7-15.6l.7 14l.7 26.5l.7 33.4l.7 36.9l.7 44.6l.7 39.1l.7 35.1l.7 24.8l.7 18.2l.7 10.9l.7 9.1l.7 2.8l.7 2l.7 .7l.7 1.3l.7 1.7l.7 1.4l.7-2.9l.7 .6l.7 .7l.7-.8l.7-1.4l.7 1.2l.7 .4l.7-2.7l.7 1.5l.7 .7l.7 .1l.7-.8l.7 3.7l.7-.2l.7 .3l.7 3.6l.7-.6l.7 3.2l.7-1.3l.7 2.3l.7-1.3l.7 1.7l.7-.2l.7-.1l.7-.2l.7 1.1l.7-2.9l.7 2.2l.7 0l.7 .4l.7 .5l.7 3.2l.7-3.5l.7 .7l.7-.7l.7 1.4l.7-3.4l.7 4l.7-2l.7-1.3l.7 1.4l.7 .9l.7 .2l.7-.6l.7 .5l.7-.9l.7 .2l.7-1.7l.7 2.8l.7 .4l.7-1.8l.7-2l.7 0l.7 2.7l.7-2.1l.7 .2l.7 0l.7 1.6l.7-1.3l.7-.4l.7-.9l.7 1.2l.7 1.1l.7-1.1l.7 1.3l.7-.5l.7 .2l.7 .1l.7-.1l.7 .9l.7-.6l.7-1l.7 .7l.7-.1l.7 .7l.7-.1l.7 .3l.7-1.9l.7 1.7l.7 .8l.7-2.7l.7 3.1l.7-1.1l.7-.3l.7-1.4l.7 2.9l.7-2l.7 .3l.7 1l.7-1.6l.7 0l.7-.3l.7 1.1l.7 .9l.7 0l.7 .2l.7-.7l.7 .2l.7-1.1l.7 2.2l.7-2l.7-2.2l.7 .9l.7 2.7l.7-2.9l.7 .8l.7 .6l.7-1.5l.7 2.3l.7 1l.7-2l.7 2.3l.7-1.8l.7-.1l.7 1l.7-.3l.7-1.3l.7 1.2l.7-2.5l.7 .8l.7 .2l.7 2.3l.7 .3l.7-.1l.7-2.2l.7 1.1l.7 0l.7-2.2l.7 .6l.7 1.2l.7-.3l.7-.8l.7 .1l.7-.1l.7 .2l.7 .4l.7 0l.7 1.1l.7-.1l.7 2.5l.7-2.6l.7-.8l.7-.3l.7 .2l.7 0l.7 .8l.7-.7l.7 .5l.7-1.8l.7 .9l.7 .5l.7-2l.7 1.2l.7 .2l.7-.4l.7-.1l.7-1.4l.7 2.9l.7-2.2l.7-.2l.7 2l.7-2.3l.7 3l.7-.4l.7 .2l.7-.7l.7-.9l.7-.7l.7 3.2l.7-2l.7 0l.7 2.3l.7-1.9l.7 .6l.7 0l.7 .1l.7-1l.7 .3l.7 1.7l.7-.5l.7-3.7l.7 1.1l.7 2.4l.7-.5l.7-.5l.7 1.2l.7-3.2l.7 2.7l.7-1.2l.7 .4l.7-.2l.7 .7l.7-1l.7-.3l.7 1.2l.7-.7l.7-1.5l.7 2.7l.7-.1l.7 0l.7-1.7l.7-.1l.7-1l.7-.7l.7 1.2l.7 .3l.7-.6l.7 2.8l.7-3.1l.7 1.1l.7 .4l.7 2.1l.7-1.7l.7-.3l.7-.8l.7 0l.7-.6l.7 2.5l.7-.3l.7 .6l.7-1.5l.7 3.4l.7-3.3l.7-.9l.7 1.9l.7 .5l.7 .7l.7-1.8l.7 1.6l.7 1.1l.7-2.8l.7-.3l.7-1.2l.7 1.6l.7 .4l.7-.3l.7 0l.7 .6l.7-1.3l.7 1.1l.7-1.3l.7 .8l.7 1.6l.7-.6l.7 1.4l.7 .5l.7-1.5l.7-1.7l.7-.5l.7 1.8l.7-2.4l.7 .9l.7-.2l.7 .6l.7 1.3l.7-1.4l.7-.8l.7 2.8l.7-1.5l.7 .4l.7-.8l.7 .8l.7 .5l.7 0l.7-1.8l.7-.3l.7 .6l.7-.3l.7 .4l.7-1l.7-1.2l.7 3.1l.7 .6l.7 0l.7 1.1l.7-.8l.7-1.4l.7 1.1l.7-1.4l.7 1.1l.7-1.3l.7 .2l.7-.3l.7-.1l.7-1.5l.7 1.4l.7-2.7l.7 2.5l.7 .3l.7 1l.7-1.6l.7-.8l.7-.6l.7 3.6l.7-3.3l.7 2.2l.7-3.1l.7 2.4l.7 1.1l.7 .2l.7 0l.7-.7l.7-.2l.7 1.6l.7-.7l.7-.5l.7 .6l.7-.9l.7 1.8l.7-.3l.7-2.9l.7 .1l.7 .3l.7-2.1l.7 2.5l.7-.6l.7-1.7l.7 1.3l.7 .6l.7-3.3l.7 .7l.7-2.9l.7-3.4l.7-3.6l.7-6.4l.7-5.8l.7-2.9l.7 1.2l.7 2.6l.7 1.6l.7 2l.7 2.2l.7 4l.7 2.4l.7 1.8l.7 3l.7 3.3l.7-.7l.7 .7l.7 .5l.7-1l.7 1.8l.7-3.7l.7 2.6l.7-3.7l.7-3.4l.7-2.4l.7-8.3l.7-7.9l.7-14.7l.7-21.1l.7-21.8l.7-17.2l.7-9.6l.7 4.8l.7 10.6l.7 11.9l.7 7.1l.7 10l.7 12.8l.7 9.5l.7 14.6l.7 8.4l.7 7.3l.7 8.5l.7 1.3l.7 3.1l.7-.5l.7 1.7l.7-.1l.7 .4l.7 .8l.7 .4l.7 1.6l.7-1.5l.7 .8l.7-.4l.7 .5l.7-1.5l.7 2.2l.7-1.9l.7 .5l.7-.4l.7 1.3l.7-.5l.7-.6l.7 0l.7 .1l.7 .4l.7-.2l.7 .8l.7 .3l.7-.9l.7-1.7l.7 3.3l.7 .7l.7-2.3l.7 .1l.7-1.8l.7 2.8l.7-1.7l.7 2.9l.7-4.1l.7 2.7l.7 .6l.7-1.1l.7-.4l.7 1l.7-.9l.7 0l.7 .2l.7-.6l.7 .5l.7 1.3l.7-.8l.7 .9l.7-.7l.7 1.9l.7-2.2l.7 2l.7-4.2l.7 1.8l.7-.8l.7 2.5l.7-.9l.7-1.7l.7 .6l.7 1.8l.7-1.5l.7 .6l.7-1.9l.7 0l.7 2.2l.7 1.9l.7-2.6l.7 1.3l.7-1.3l.7 2.3l.7-1.8l.7-.2l.7-1.9l.7 1.1l.7 .5l.7 1.2l.7-2.3l.7 2.3l.7-1.4l.7 0l.7-.8l.7-.9l.7 .7l.7 3.1l.7-2.4l.7 1l.7 1.7l.7-3l.7 2.6l.7-.9l.7 .7l.7 .8l.7-1l.7-.2l.7 .8l.7-.3l.7-1.7l.7 .3l.7-1.4l.7 2.4l.7-2.6l.7 1.2l.7 1.6l.7-.9l.7-.7l.7-.1l.7 .4l.7 1.6l.7-.7l.7-.6l.7 2.3l.7-3.5l.7 .3l.7 .1l.7 .5l.7 0l.7-.7l.7 1.1l.7 0l.7-.6l.7-2.1l.7 3.2l.7-1.8l.7 .1l.7 .3l.7-1.1l.7 .4l.7 .9l.7-.4l.7 .7l.7-1.2l.7 .6l.7-.9l.7 .7l.7 .6l.7-.5l.7-1.1l.7 1.5l.7 .6l.7 1.1l.7-1.1l.7-.6l.7-1.1l.7 2.8l.7-3.3l.7-.3l.7 .9l.7-1.8l.7 2.8l.7-.7l.7 .5l.7-1.3l.7 .6l.7 1.3l.7-.1l.7 1.8l.7-1.8l.7-3l.7 1.9l.7-.6l.7 1.4l.7-1.1l.7 1l.7-.3l.7 1.5l.7 1.1l.7-2.1l.7-1.7l.7 .6l.7 2.3l.7-1.6l.7-.7l.7-.7l.7 2.1l.7-.5l.7-.1l.7-.2l.7 .4l.7-.2l.7 .6l.7 .3l.7-3.5l.7 .5l.7 1.6l.7 .6l.7-1.3l.7 .9l.7-.2l.7-.5l.7-.3l.7 .4l.7 1.3l.7 .2l.7 .1l.7-.4l.7-1.1l.7 .2l.7 1.3l.7-.5l.7 .7l.7-.5l.7-.3l.7 .3l.7-2.1l.7 1.4l.7-.2l.7 1.8l.7-1.1l.7 1.2l.7-.4l.7 .9l.7 .1l.7-1.3l.7 0l.7-.3l.7 .2l.7-1.3l.7 .2l.7-.4l.7-.6l.7 1l.7 0l.7-1.5l.7 2.3l.7-2.3l.7 1.8l.7 0l.7-1.7l.7 1.8l.7-1.6l.7 1.3l.7 .6l.7 1l.7-1.2l.7-2.4l.7 1l.7 1.6l.7-1.3l.7 1.8l.7-2.2l.7 .4l.7-.8l.7 .9l.7 1.7l.7-2l.7 2l.7 .1l.7 .8l.7-.8l.7 .2l.7 1.7l.7-4l.7 1.5l.7 .3l.7-1.3l.7 1.3l.7-4.5l.7 2.7l.7-.9l.7 .7l.7 .2l.7 .4l.7-1.6l.7 1.5l.7-2.6l.7 2.5l.7-1.1l.7-1.3l.7 .2l.7 0l.7 .7l.7 .9l.7 1.1l.7-.7l.7-2.1l.7-1l.7 2.1l.7-1.2l.7 1.2l.7-.6l.7 3.2l.7-4.5l.7 2l.7 1.4l.7-2.4l.7-.5l.7 2.1l.7-4.1l.7-.2l.7-.3l.7 .6l.7-1.1l.7-2.9l.7-1.1l.7-7.8l.7-8.7l.7-14.6l.7-19.3l.7-28.4l.7-30.6l.7-24.1l.7-12.8l.7 4.5l.7 12.7l.7 15.9l.7 12.4l.7 7.8l.7 8.6l.7 13l.7 17l.7 14.5l.7 15.4l.7 10.4l.7 7.8l.7 5.2l.7 4.1l.7 1.2l.7-.2l.7 1.5l.7 0l.7 .4l.7-.4l.7 1.7l.7-.1l.7-1l.7 .5l.7 .4l.7 2.1l.7-.9l.7 .3l.7 .3l.7 1.4l.7 1.1l.7-2l.7 2.3l.7-1.4l.7 .5l.7-1.8l.7-1.4l.7 1.2l.7 .3l.7-3.2l.7 1.2l.7 0l.7 .2l.7-1.9l.7 .3l.7 1.1l.7 .3l.7-2.5l.7 .1l.7-1.5l.7-.2l.7-.9l.7 .3l.7-.1l.7 1.1l.7 1.6l.7-.2l.7 1.2l.7-.5l.7 2.2l.7-3.3l.7 2.1l.7 1.3l.7-1.3l.7 2.4l.7-.3l.7-1l.7 1.2l.7-1.5l.7 .8l.7 .7l.7-.9l.7 3l.7-1.4l.7 1.8l.7-1.2l.7 .4l.7-1.3l.7 .4l.7-.2l.7 .5l.7 .9l.7-2.1l.7 .3l.7 .6l.7 .7l.7-.8l.7-.1l.7-.1l.7 .7l.7 .2l.7-.9l.7 .4l.7 1.3l.7-.7l.7-.4l.7 1.3l.7 0l.7-.2l.7-.1l.7-1.1l.7 .5l.7 .1l.7-.3l.7-1.9l.7 1.7l.7 .4l.7 .3l.7-.6l.7 .7l.7-1.6l.7 .5l.7-1.4l.7 2.7l.7 1.7l.7-.1l.7-3.2l.7 1.6l.7 .6l.7-1.5l.7-1.5l.7 3.5l.7-1.7l.7-.1l.7 1.9l.7-1.5l.7 .3l.7 .8l.7-1.6l.7-.8l.7 1.8l.7-.8l.7 .6l.7-.4l.7-1.2l.7 .7l.7-.5l.7-.1l.7 0l.7 .3l.7 .1l.7-1.1l.7 2.4l.7-1.7l.7 3.7l.7-2.9l.7 .5l.7 1.3l.7-1.7l.7-1.3l.7-.4l.7 1.3l.7-.2l.7 .2l.7-.6l.7-.5l.7 1.2l.7 1.1l.7-2.2l.7 4.4l.7-3.9l.7 1.9l.7 .8l.7-1l.7-.6l.7 .3l.7 .5l.7-4.1l.7 2.8l.7-1.1l.7-.6l.7 .7l.7 .1l.7 .4l.7-1l.7 1.6l.7-3.4l.7 1.1l.7-.2l.7 1.7l.7-.2l.7 1.4l.7-1.2l.7 2.1l.7-.6l.7-1.4l.7-1.4l.7 .4l.7-.3l.7 2.9l.7-.3l.7-2l.7 3.1l.7-2.5l.7-2.2l.7 3.1l.7 .1l.7-1.3l.7-1l.7 2.1l.7-1.7l.7 .7l.7 .7l.7 0l.7-.8l.7-.7l.7 1.7l.7-3.1l.7 2.4l.7-.2l.7 .2l.7-.9l.7 .5l.7 .6l.7-1.7l.7 1.3l.7 .7l.7-1.4l.7 .4l.7 2.2l.7-1l.7-2.3l.7 1.2l.7-.2l.7 1.3l.7 0l.7-3.4l.7 2.2l.7 1.7l.7 .3l.7-2.1l.7-.6l.7 1.5l.7-1.1l.7 .5l.7-1.1l.7 2.2l.7 .1l.7 .1l.7-1.5l.7-.7l.7 0l.7 1.4l.7-2.7l.7 2.2l.7 1l.7-2.3l.7 .5l.7 1.3l.7-.1l.7-1.6l.7 .4l.7 .2l.7-.4l.7 .8l.7-.4l.7 .7l.7-3.3l.7 2.6l.7-.4l.7-1l.7 .7l.7 .7l.7-.8l.7-1l.7-.2l.7-2.1l.7-1.9l.7-1.4l.7-2.5l.7-3.2l.7-6.2l.7-11.1l.7-14l.7-20.8l.7-21.5l.7-17.4l.7-7.3l.7 5.9l.7 14.1l.7 9.7l.7 10.5l.7 3.4l.7 3l.7 2.6l.7 9.1l.7 9.1l.7 11.5l.7 6.1l.7 8.7l.7 4.1l.7-1.1l.7 1.3l.7-5.8l.7-4.4l.7-10.1l.7-9.9l.7-9.7l.7-6.3l.7 4.4l.7 5.6l.7 4.4l.7 6.5l.7 2.5l.7 .3l.7 1.7l.7 6.3l.7 3.8l.7 6.9l.7 5.7l.7 2.4l.7 1.4l.7 4l.7-.8l.7 1.6l.7 4.4l.7-3.4l.7 1.2l.7-1.4l.7 .9l.7 .2l.7-2.8l.7 2.1l.7 1.6l.7 .5l.7-.4l.7-1.2l.7 1.3l.7-1l.7-.3l.7 1l.7 2.4l.7-3.1l.7 1.8l.7-1l.7-2l.7 .4l.7 1l.7 .1l.7 1.3l.7-.8l.7 .2l.7 1.9l.7-1.3l.7-1.1l.7 .6l.7 1.6l.7-2.6l.7-1.1l.7 2.4l.7 1.1l.7-.7l.7-2.6l.7-.9l.7 3.1l.7-1.6l.7 .7l.7-.5l.7 2.1l.7-1.8l.7-.7l.7 0l.7-1.8l.7 1l.7-.6l.7-2.4l.7 .7l.7-.6l.7-.8l.7 1.7l.7 .6l.7-.9l.7-2.1l.7-.7l.7 2.1l.7-1.5l.7-.2l.7-1.4l.7-.7l.7 4.1l.7-2.9l.7 .5l.7-.6l.7 3.2l.7-1.1l.7 .9l.7 .7l.7 .4l.7 1.8l.7-2.8l.7 2.8l.7-.9l.7 .5l.7 .2l.7 1.4l.7-1.3l.7 1l.7 1.3l.7-1.2l.7-.1l.7 .7l.7-.3l.7-.5l.7 .4l.7-.9l.7 1.7l.7-2l.7-.4l.7 2.3l.7-1.6l.7 .5l.7 .7l.7 .6l.7-1.5l.7-.3l.7-.2l.7 .7l.7-.8l.7 1l.7 1.4l.7-1.4l.7-.2l.7-.8l.7 0l.7-.7l.7 .1l.7 .7l.7 1.2l.7 .5l.7-.7l.7 .8l.7-1.7l.7 3.3l.7 .3l.7-2.7l.7 .6l.7-.4l.7 .5l.7-1.5l.7-1l.7 2.2l.7-2.1l.7 1.5l.7-1.1l.7 .5l.7 2.1l.7 .9l.7-1.7l.7-.5l.7 .5l.7-.8l.7-1.1l.7 2l.7-2.1l.7 2.5l.7-1.1l.7 .4l.7-1.8l.7 .4l.7 1l.7 .5l.7-1l.7-1l.7-2.2l.7 1.1l.7-1l.7-1.2l.7 .9l.7-2.8l.7 1.8l.7-3.3l.7-1.3l.7-.7l.7-2.5l.7-.4l.7-.3l.7-2.2l.7 .9l.7-.1l.7 1.6l.7 2.4l.7-.4l.7 1.6l.7 1.9l.7 .1l.7 2.4l.7 .1l.7 .6l.7-.4l.7 1.8l.7 2.3l.7 .7l.7-1.3l.7 .4l.7-.5l.7-.6l.7-.6l.7 3.5l.7-2.8l.7 1l.7 1.2l.7-1.8l.7 .3l.7 .5l.7-.4l.7 .7l.7-.6l.7 1.4l.7-.5l.7-1.4l.7 .2l.7 1.1l.7 .4l.7-.1l.7 1.4l.7-2.2l.7-.2l.7 .4l.7-2.3l.7 2.1l.7-.4l.7-.2l.7-4l.7-2.2l.7-3.5l.7-7l.7-10.1l.7-8.7l.7-12.5l.7-7.9l.7-3.8l.7 6.3l.7 6.6l.7 7l.7 6.2l.7 1.8l.7-2.5l.7 1.5l.7 2.3l.7 2.8l.7 3.8l.7 7.4l.7 5.1l.7 1.5l.7 5.1l.7-.2l.7 .8l.7 1.4l.7-1.3l.7 .1l.7-2.5l.7-1.1l.7-2.3l.7-2.9l.7-4.9l.7-9.2l.7-15.2l.7-19.4l.7-27.2l.7-26.8l.7-23.6l.7-10.1l.7 6.5l.7 17.7l.7 18l.7 8.5l.7 .7l.7-9.6l.7-12.5l.7-10.2l.7-3.8l.7 8.5l.7 14.8l.7 19.9l.7 20.1l.7 12.9l.7 11.5l.7 .6l.7 2.6l.7-.3l.7 4.4l.7 7.5l.7 4.5l.7 8.3l.7 5.4l.7 4.3l.7 2.8l.7 2.3l.7 .8l.7 .6l.7 1.1l.7 .3l.7-.4l.7-.7l.7 2.4l.7-.9l.7 2.1l.7-2l.7-.4l.7 2.6l.7-1.7l.7-.7l.7 2.5l.7-2.8l.7 2.6l.7-2.3l.7 1.7l.7 0l.7-2l.7 1.5l.7-.7l.7 .3l.7 .5l.7 1.4l.7-1.5l.7 .5l.7 2.3l.7-1.3l.7 .2l.7-2l.7 .3l.7 .7l.7 .2l.7 .5l.7 2.3l.7-3.9l.7 1l.7 1l.7-.5l.7 .5l.7-1.6l.7-.8l.7 2.9l.7-1.7l.7-1.6l.7 1l.7 .5l.7-1.2l.7 2.5l.7-.5l.7-.5l.7-.3l.7 2.3l.7-1.7l.7-.7l.7-1.3l.7 1l.7 1.7l.7 .8l.7-2.6l.7-.7l.7 2.3l.7 .1l.7 1.2l.7-1.3l.7 1l.7-1.8l.7 .6l.7 .5l.7-.3l.7 .5l.7 .3l.7-2.8l.7 3l.7-2.4l.7 .5l.7 1.8l.7-3.4l.7 1l.7 .5l.7 .8l.7 .7l.7-.4l.7-2.3l.7 1.4l.7-1.3l.7 2l.7-1.7l.7 1.4l.7-2l.7 2l.7-2l.7 1.7l.7-1.6l.7 1.6l.7-.7l.7-.3l.7 1l.7 .5l.7-.6l.7 .4l.7 .7l.7 .7l.7-.2l.7-.8l.7 1.3l.7-2.7l.7 1.2l.7-2.1l.7 3.4l.7-2.8l.7 .4l.7 1.3l.7-1.3l.7-.2l.7-.6l.7 1.8l.7 2.2l.7-2l.7 1.3l.7-1.1l.7-1.3l.7-.8l.7 1.4l.7 .9l.7-.8l.7 .4l.7 .4l.7-.7l.7-.9l.7 1.4l.7 1.1l.7-1.6l.7-.7l.7-.6l.7 .2l.7-.2l.7 .1l.7-1.1l.7 1.5l.7-.5l.7-.2l.7-.7l.7 1l.7 .8l.7 1.1l.7 .3l.7-.4l.7 .1l.7-1.4l.7 1.9l.7 0l.7-.2l.7-1.2l.7 .2l.7-.6l.7-1.1l.7 .7l.7-1.4l.7-.4l.7 2.2l.7-.1l.7 .2l.7-1.2l.7 .6l.7 .7l.7-.7l.7-1.4l.7 4.4l.7-1.1l.7-.1l.7-1.3l.7-1l.7 .7l.7 .2l.7-1.6l.7 1l.7 1.2l.7 1.2l.7-.7l.7-1l.7-1.2l.7 2.9l.7-2.5l.7 .1l.7-1.1l.7-1.5l.7 3.6l.7-1.2l.7 1l.7-1.7l.7 1l.7 1.5l.7-1.8l.7-.4l.7-.5l.7-.2l.7 2.2l.7-.8l.7-1.4l.7 3.8l.7 .2l.7 .2l.7-2.8l.7 2l.7 1.2l.7-2.3l.7 .1l.7 .4l.7-2.3l.7 1.7l.7 .3l.7-.7l.7 .8l.7-1.4l.7 0l.7 0l.7-.3l.7-.3l.7 .6l.7 .9l.7-.4l.7 .5l.7-.3l.7 .3l.7-1.3l.7-1.7l.7 1.1l.7 3l.7-1.2l.7-1.5l.7-.1l.7-.1l.7-.3l.7 .8l.7 .7l.7 .8l.7-1.3l.7 .2l.7 0l.7 .4l.7 1l.7-2l.7 2.5l.7-2l.7 .5l.7-1.8l.7 .8l.7 .1l.7 .7l.7-2l.7 2.6l.7-2l.7 2.4l.7 1.1l.7-.9l.7-.4l.7-.7l.7-.9l.7-.2l.7 .2l.7-.3l.7 1.2l.7-.8l.7-.1l.7 .4l.7-.7l.7 .8l.7-.4l.7 2.4l.7-1.2l.7 1.5l.7-3.4l.7 2.4l.7 .8l.7-.9l.7-1.1l.7 .3l.7-.4l.7-.1l.7 .1l.7 .9l.7-.4l.7 .3l.7-.3l.7 .4l.7-1.4l.7 1.2l.7-1l.7 1.1l.7-1.5l.7 .5l.7-.3l.7-1l.7 1.9l.7-.8l.7-.4l.7 1.1l.7-1.7l.7 .1l.7 .9l.7 1.1l.7-2.4l.7 1.6l.7-1l.7-.5l.7 1.8l.7 .8l.7-1.2l.7-.1l.7-2l.7-1.4l.7 2.8l.7-1.3l.7 1.8l.7-.4l.7 .8l.7 .7l.7-2.5l.7 1.7l.7 .2l.7 1.6l.7-1.3l.7-1.1l.7 0l.7 2.2l.7-2.8l.7 .7l.7 0l.7-1.6l.7 0l.7-1.3l.7 1l.7 1.6l.7-.3l.7-2.1l.7 3.4l.7-2.7l.7 .6l.7 2.8l.7-.7l.7-.3l.7 1.7l.7-1.7l.7 .2l.7-1.1l.7 .3l.7 0l.7 1l.7-1.9l.7 .1l.7-2.3l.7 .2l.7 2.3l.7-1.1l.7 .1l.7 1.1l.7-.7l.7 .7l.7-.1l.7-1.6l.7 2.6l.7 .8l.7-.5l.7-1.3l.7 .2l.7 .5l.7 1.5l.7-.1l.7-1.4l.7 0l.7-.4l.7-.9l.7-.3l.7 .4l.7-2.2l.7 2.8l.7-.8l.7-.9l.7 .7l.7-.8l.7 1.6l.7-2.5l.7 1.1l.7 .3l.7-1.1l.7-.2l.7 1.9l.7-.5l.7-.3l.7-.5l.7 1.8l.7 .3l.7-2.5l.7 .8l.7 .6l.7 .3l.7-1.2l.7 1.4l.7 .1l.7 1.6l.7-2.6l.7 .7l.7-.1l.7 .2l.7-1.2l.7 1.5l.7 1.3l.7-1.7l.7 .5l.7-1.2l.7 .9l.7 .3l.7 .7l.7-.8l.7 0l.7-.2l.7 .4l.7-.6l.7 1.8l.7-2.9l.7 1.3l.7-1.2l.7 .2l.7 1.5l.7-.6l.7-.1l.7-2l.7 3.7l.7-.7l.7-3l.7-.9l.7 0l.7-.3l.7-3l.7-1.7l.7-4.6l.7-1.1l.7-7.3l.7-3.5l.7 1.4l.7 .2l.7 3l.7 3.3l.7 3.1l.7 .4l.7 .7l.7-1.4l.7-1.7l.7 .8l.7 1.3l.7 3.2l.7 .7l.7 1.5l.7 2.2l.7 1.7l.7-1.6l.7 2.6l.7-.9l.7 .7l.7 1l.7 .5l.7 .1l.7 0l.7 1l.7-1.1l.7-.4l.7-.9l.7 2l.7-1l.7-2.6l.7-1.4l.7-1.4l.7-4.2l.7-7.3l.7-6.2l.7-10.6l.7-6.5l.7-3l.7-.2l.7 6.5l.7 7.4l.7 6.5l.7 2.9l.7 3.1l.7-.4l.7-2.3l.7-1.7l.7-.3l.7 .6l.7 3.7l.7 5.9l.7 3l.7 2.2l.7 1.9l.7 2.6l.7 .9l.7-.7l.7 .8l.7-.4l.7 0l.7 1.9l.7-2.9l.7 2.1l.7-1.6l.7 .4l.7 1.6l.7-1.8l.7 .8l.7 .5l.7 1l.7 .9l.7 .5l.7-2.4l.7 .9l.7-2.4l.7 3.2l.7-2.5l.7 .1l.7 .8l.7-.2l.7 0l.7-1.2l.7 2.9l.7 .1l.7-1.1l.7-1l.7 1l.7 .5l.7-2.9l.7 .8l.7 1.6l.7-.6l.7 .7l.7 .4l.7 1l.7 .2l.7 .4l.7-.1l.7-1.8l.7-2l.7 2.5l.7 .2l.7 .1l.7-1l.7 2.6l.7-3.6l.7 2.2l.7-.2l.7 .2l.7 .5l.7-.9l.7-.2l.7-.5l.7 1.2l.7-.4l.7 .4l.7-2l.7-.4l.7 1.6l.7 .6l.7-1.9l.7 .5l.7 .6l.7 .5l.7 .1l.7 .6l.7-1.3l.7 .3l.7 .6l.7-1.8l.7 2.5l.7-2.5l.7 .5l.7-2.1l.7 1.6l.7-.6l.7-.2l.7 1l.7-1.2l.7 1.6l.7-1.9l.7 1.9l.7 2.2l.7-.8l.7 .5l.7-1.6l.7-.8l.7 2.4l.7-.4l.7-.1l.7-.7l.7 1.1l.7-1.6l.7 .9l.7-.4l.7-1.6l.7 2.2l.7-1.1l.7 .8l.7-2.1l.7 .4l.7 .8l.7 .7l.7 .5l.7-.9l.7-.6l.7 .7l.7-.7l.7 .6l.7 .3l.7-1l.7 1.1l.7-1.9l.7 .7l.7 1.4l.7-1.4l.7 .9l.7-.3l.7-.5l.7 1.9l.7-.8l.7-.7l.7 .2l.7 .6l.7-1.6l.7 2.6l.7-1l.7-1.3l.7 .9l.7 2.4l.7-1.4l.7 1.3l.7-2.8l.7 0l.7 1.3l.7 .3l.7-2.8l.7 1.8l.7-2l.7 .4l.7-1.4l.7 2.3l.7-1.3l.7 .6l.7 2.8l.7-.9l.7-1.3l.7-2.4l.7 .8l.7-4.2l.7-.9l.7-1.5l.7-3.7l.7-5.1l.7-3.8l.7-3.7l.7-1.4l.7 3l.7 5.4l.7 2l.7 3.1l.7 1.9l.7-1.5l.7-.3l.7-1.8l.7 1l.7-.8l.7 .3l.7 1.9l.7 4l.7 2.2l.7 1.2l.7 .9l.7 1.5l.7 .3l.7 .8l.7-.7l.7-.7l.7 0l.7 .6l.7 1.1l.7-2.6l.7-.4l.7 1.6l.7-.4l.7-2.3l.7-1.5l.7-2.7l.7-2.8l.7-2l.7-9l.7-3.9l.7-3.7l.7 .8l.7 3.3l.7 4.4l.7 3l.7 3.3l.7 3.6l.7-.6l.7-1.4l.7-1.7l.7-3.6l.7 .3l.7-2.7l.7-.6l.7-.5l.7-.1l.7 2.1l.7-1.9l.7 2.6l.7 4.6l.7 1.5l.7 1.6l.7 2.4l.7 .9l.7-1.4l.7 .6l.7-.5l.7 1.4l.7-.8l.7 .6l.7 1.1l.7 1.5l.7 .5l.7 2.9l.7-1l.7 2.7l.7 2l.7-2l.7 .6l.7-1.6l.7-1.2l.7 2.1l.7-.3l.7 .9l.7-.2l.7 .7l.7-.7l.7 1.6l.7 1l.7-1.2l.7 .3l.7 1.1l.7-1l.7-1l.7-1.5l.7 1l.7 1.6l.7-1.9l.7 .2l.7-.5l.7 1.2l.7 .6l.7 .7l.7-.8l.7-.5l.7 2.9l.7-2.1l.7-1.2l.7 .4l.7 .4l.7 .5l.7-.9l.7-.6l.7 1l.7-1.7l.7 .6l.7 2.2l.7-1.1l.7-.4l.7-.6l.7-.5l.7 1.4l.7-.2l.7 1.7l.7-2.5l.7 .9l.7-.2l.7-.5l.7 2.7l.7-.6l.7-1.4l.7-1.6l.7 1.4l.7-.1l.7-1.2l.7-.7l.7 3.7l.7-2.6l.7 2.6l.7-1.7l.7 .1l.7 1.3l.7-2.2l.7 .7l.7 .2l.7 1.1l.7-.4l.7-1l.7-1.3l.7 2.6l.7-1.4l.7 .8l.7-2.2l.7 1.5l.7 .5l.7-.8l.7 1.1l.7 .9l.7 .5l.7-2.1l.7-1.1l.7-1.2l.7 1.7l.7-1.6l.7 1.8l.7-2.5l.7 3.2l.7-.7l.7-1.3l.7 2l.7 .3l.7-.1l.7-.6l.7 .6l.7-.3l.7-.9l.7 .3l.7-1.4l.7 2.2l.7-1.8l.7 1.3l.7-.7l.7 2.1l.7-.7l.7-1.3l.7 1.1l.7-.7l.7 .6l.7-.7l.7-.1l.7 0l.7-.9l.7 2.6l.7 .7l.7-1.5l.7 1.4l.7 .5l.7-.4l.7 .3l.7-.4l.7-1.4l.7 2.3l.7-2.2l.7-.6l.7 2.2l.7-1.9l.7 1.7l.7-1.6l.7 1.8l.7-.1l.7-1.8l.7 1.1l.7 .3l.7-.7l.7 .5l.7-.8l.7-1l.7-.9l.7 .8l.7 0l.7 .4l.7 0l.7 .8l.7-.4l.7 2.5l.7-2.3l.7 1.4l.7-1.4l.7-.6l.7 2l.7-1.7l.7-1.8l.7 1.4l.7-1.1l.7 2l.7-3l.7 .6l.7-.6l.7 0l.7 1.3l.7 .3l.7-.2l.7-1.6l.7-.9l.7 .5l.7-1.9l.7 .3l.7-5.5l.7-1.9l.7-6.4l.7-5l.7-5.5l.7-2.9l.7 1.8l.7 1.8l.7 4.1l.7 4.4l.7 3.8l.7 2.7l.7 2l.7-1.4l.7-1.5l.7-1.8l.7-.5l.7-1.7l.7 2.5l.7 .9l.7 2.7l.7 4l.7 1.3l.7 .9l.7-.9l.7-.2l.7-1.5l.7-6.2l.7-6l.7-7.2l.7-4.4l.7-4.5l.7 4.2l.7 1.9l.7 5.7l.7 6.7l.7 1.9l.7 2.6l.7 .3l.7-.7l.7-.3l.7-5l.7 1.8l.7-1.2l.7 2.6l.7 1.6l.7 1.3l.7 3l.7 4.7l.7 .2l.7 1.9l.7 .9l.7 1.6l.7-.1l.7-.8l.7 .1l.7 1.3l.7-1.5l.7 .8l.7-.2l.7 .6l.7-.3l.7 2.4l.7-.9l.7 1.9l.7-2.3l.7 .2l.7-1l.7 .9l.7-.3l.7-.9l.7 .8l.7-.9l.7 .3l.7-.4l.7 1.7l.7-1.8l.7-.2l.7 2l.7-.9l.7-1.2l.7 .2l.7 .3l.7-.8l.7 .7l.7-1.2l.7 .1l.7 2.4l.7 1.2l.7 0l.7-1.6l.7 1l.7-.8l.7 1.8l.7-1.5l.7 .3l.7 1.4l.7-.7l.7-1.2l.7-1.2l.7 .4l.7-1.1l.7 2.9l.7-1.7l.7 .9l.7-.4l.7-.8l.7 1.2l.7 .1l.7-.5l.7-.1l.7 .1l.7-1.4l.7 .7l.7-.3l.7-.1l.7 1.2l.7-1.9l.7 1.2l.7 1.3l.7 1.6l.7-1.2l.7-1.6l.7 1.9l.7-1.4l.7-.9l.7 .5l.7 1.6l.7-.6l.7-1.4l.7-.3l.7 1.4l.7-1.9l.7 .5l.7 1.1l.7-1.6l.7 .5l.7 1.2l.7-.3l.7 1.5l.7-1.3l.7 .6l.7 .1l.7-1.2l.7 1.4l.7 .5l.7-1.5l.7-.4l.7 .3l.7 1.6l.7-1.4l.7-.6l.7-.9l.7 1l.7-1.4l.7 2.2l.7-1.6l.7-.3l.7 2.1l.7-.6l.7 .2l.7-1.2l.7 1.7l.7-.3l.7-.2l.7 .4l.7-.2l.7-1.4l.7 1.5l.7-.8l.7-.3l.7 .8l.7-.3l.7 1l.7-1.5l.7-.6l.7 .1l.7 1l.7-2.1l.7 .5l.7 1.2l.7 .9l.7 .3l.7-.8l.7-1.2l.7-.6l.7 1.8l.7-.2l.7 .8l.7 .9l.7-1.5l.7 2.2l.7-1.9l.7 0l.7 0l.7-2.2l.7 4l.7-2.6l.7 1.4l.7-1.6l.7-.8l.7 .7l.7 0l.7-.9l.7-.8l.7 2.9l.7-1.7l.7 .5l.7 .7l.7-2.1l.7-.1l.7-.2l.7-2.6l.7-3.2"/>
<path stroke="#00ff00" stroke-width="8.4" d="M205.0 781.2l.7 .4l.7-1.6l.7 1.7l.7-1l.7-.8l.7 1.6l.7 1.8l.7 .2l.7-1.3l.7 1.7l.7-.9l.7 .2l.7-.3l.7-1.7l.7 1.4l.7-1l.7 2.2l.7-.8l.7-.8l.7-1.2l.7 .6l.7-.4l.7-1.8l.7 3.3l.7-1.5l.7 2l.7-2.2l.7 3.1l.7-2.8l.7 .6l.7 1l.7-.7l.7-2.7l.7 1l.7 1.7l.7 1.1l.7-1l.7-1l.7 1.1l.7-2.1l.7 1.3l.7-2.2l.7 1.1l.7 0l.7 1.2l.7-.8l.7 1.5l.7-1.4l.7 1l.7 .1l.7-2.2l.7 2.2l.7 .2l.7-1l.7 .5l.7-2.3l.7 1.5l.7-.3l.7-.2l.7 2.3l.7-1.7l.7 .2l.7-.3l.7 1.4l.7-1.2l.7 2.2l.7-2.2l.7 .5l.7 1.4l.7-1.2l.7-1.2l.7 .9l.7-1.4l.7 1.2l.7-.4l.7-.6l.7 1.5l.7 .4l.7-1.5l.7-.9l.7 .4l.7-1.8l.7 1.9l.7-.3l.7 3.3l.7-2.5l.7-1.1l.7 2.2l.7-1.2l.7 .2l.7 .1l.7 .1l.7-.6l.7 1.4l.7-.3l.7-.9l.7 .4l.7-.9l.7 .9l.7 0l.7-.4l.7-.3l.7-.9l.7 1.6l.7-1.9l.7 .2l.7-.3l.7 .4l.7-.3l.7 2.3l.7-1.7l.7-2.1l.7 1.5l.7-.8l.7 2.5l.7 .5l.7-2l.7 .6l.7-1.3l.7 0l.7 .7l.7-2.7l.7-1.3l.7 1.7l.7-.5l.7-.2l.7-.4l.7-2.9l.7-3.4l.7 0l.7-5.6l.7-6.7l.7-8.3l.7-9l.7-15.4l.7-17.4l.7-19l.7-20.9l.7-16.2l.7-8.4l.7 0l.7 9l.7 13.3l.7 18.3l.7 17.7l.7 17.3l.7 15.3l.7 12.7l.7 9.6l.7 5.7l.7 5.1l.7 2.8l.7 4l.7 2.2l.7-1.1l.7 2l.7-.7l.7 .5l.7 .9l.7-.1l.7 1.9l.7-2l.7 .9l.7 .6l.7-1l.7 1.4l.7-1.6l.7 1.9l.7-1.2l.7 1.4l.7 .5l.7 1.5l.7-1.2l.7 .7l.7-1.3l.7 2.3l.7-2.1l.7 .2l.7-.8l.7 1.8l.7 1l.7-1.6l.7 .2l.7-.3l.7 .2l.7-.3l.7-.7l.7 2.5l.7-3.5l.7 1l.7 1.3l.7 .8l.7-1.1l.7 0l.7 .3l.7-.4l.7 1.3l.7-1.1l.7-.2l.7 .7l.7 .5l.7 .9l.7 0l.7-2.5l.7-1.4l.7-.2l.7 3.4l.7-2.4l.7 1.2l.7 1.8l.7-2.3l.7 .5l.7-.4l.7-.5l.7 1.9l.7 .3l.7-3l.7 2.7l.7-1.4l.7 .3l.7 0l.7-1.5l.7 1.1l.7-.5l.7 2.9l.7 .3l.7-2.1l.7-1.1l.7 2.5l.7-1.1l.7 1.9l.7 .1l.7-.4l.7-2.2l.7-.8l.7 .3l.7 .5l.7-.9l.7 2.1l.7-.4l.7-.4l.7-.1l.7 1.2l.7 .9l.7-3.3l.7 2.1l.7-.6l.7-.6l.7 .3l.7 .4l.7 1.6l.7-2l.7-.6l.7-.9l.7 2l.7-1.5l.7 .8l.7 .9l.7-.5l.7-.5l.7 .1l.7 1.1l.7-.9l.7 .3l.7 .3l.7-.6l.7 .8l.7-.6l.7 1.2l.7-.9l.7-2.5l.7 1.3l.7 1.4l.7-1l.7 .3l.7 1.9l.7-1.8l.7 1.1l.7 .3l.7 0l.7-2.2l.7-.4l.7 2.5l.7-2.5l.7 .7l.7 2.6l.7-2.7l.7-1.5l.7 4.8l.7-2.1l.7-1.1l.7 2.1l.7-3l.7 1.6l.7-1.2l.7 .1l.7 1.3l.7 .5l.7 .5l.7 0l.7-1.6l.7 .4l.7 2.1l.7-1.4l.7-.7l.7 .9l.7-.2l.7-.2l.7-1.7l.7 .2l.7 1.3l.7 .4l.7-2.6l.7 .6l.7 .1l.7 1.2l.7-2.1l.7 3.7l.7-2.8l.7 .3l.7 1.6l.7-1.5l.7 .3l.7-.6l.7 .7l.7-1.6l.7 .8l.7-.1l.7-1.1l.7 2.1l.7-.4l.7-2.2l.7 2.9l.7-1.6l.7 1.8l.7-1.1l.7 .7l.7 .8l.7 1.3l.7-3.8l.7 .8l.7-.3l.7 1.4l.7-1.1l.7 .9l.7 1l.7-.5l.7-1.3l.7-.2l.7 0l.7 .3l.7-.9l.7 1l.7 .9l.7-.7l.7 .2l.7 .9l.7 .4l.7-2.5l.7 0l.7 1.9l.7-1.7l.7-1.4l.7 .9l.7 1.2l.7-2.2l.7-.1l.7 1.2l.7 2.3l.7-2l.7 1.1l.7 .2l.7-.6l.7-.9l.7 1.1l.7-.2l.7 .9l.7-.3l.7-.3l.7-1.9l.7 2.2l.7-.9l.7-2.1l.7 1.8l.7 .1l.7-.8l.7-2.9l.7 1.2l.7-.8l.7 .4l.7-2.3l.7 2.2l.7-.4l.7-1.2l.7-2.7l.7-2.9l.7-2.6l.7-5.2l.7-6.7l.7-5.9l.7-6.9l.7-7l.7-7.8l.7-6.9l.7-3.1l.7-.1l.7 2l.7 4.9l.7 2.5l.7 7.2l.7 5.4l.7 7.6l.7 4.3l.7 3.2l.7 3l.7 .3l.7 2.3l.7 .5l.7 1.2l.7 1.2l.7 2.8l.7 2.1l.7-.3l.7 3.2l.7 2.7l.7 2.4l.7-.8l.7 1.4l.7 .8l.7 1.8l.7-2.9l.7 .2l.7 .4l.7 .2l.7 .7l.7 .4l.7 .4l.7 .8l.7 .2l.7 .3l.7 .2l.7-1.4l.7 1.3l.7 .1l.7 .7l.7 0l.7 1.1l.7-2l.7 .9l.7 .6l.7-1l.7-.1l.7-.7l.7-.6l.7 2.3l.7-2.3l.7 1.9l.7-1.7l.7 1.6l.7-.8l.7 .7l.7 .7l.7-.3l.7-1.7l.7-.7l.7-.4l.7 .6l.7 1.2l.7-2.7l.7 1.5l.7-.4l.7 2.2l.7-2l.7 2.1l.7-2.1l.7-.3l.7 2.2l.7-.6l.7-1.7l.7-.5l.7 .9l.7 1.7l.7-.6l.7-.8l.7 1.6l.7 1.2l.7-2.1l.7 1.2l.7-.7l.7 1.7l.7-1.1l.7-.9l.7-1.2l.7 2l.7-1.2l.7 .3l.7-.5l.7 .5l.7-2.2l.7 .8l.7 1.1l.7 1.5l.7-1.4l.7-.4l.7-.6l.7-.3l.7 .2l.7-.6l.7 1.2l.7 .4l.7 2.5l.7-1.8l.7 1.2l.7-1.8l.7 1l.7 1.2l.7-3l.7-.5l.7 2.2l.7-.9l.7-.2l.7 .8l.7 0l.7 .9l.7-1.1l.7-1.3l.7-1l.7-.9l.7 .5l.7 2.2l.7-2.4l.7 1.6l.7 1.3l.7-.7l.7 .8l.7-1l.7 .5l.7-2.5l.7-.5l.7 2.7l.7-1.6l.7-.4l.7-.7l.7 2.1l.7-1.1l.7 .1l.7-.9l.7 1l.7-.3l.7 .4l.7 .4l.7-.9l.7-.5l.7 1.3l.7-1.9l.7 2.3l.7 .2l.7-2.9l.7 2.9l.7-2.7l.7 1.6l.7-2.4l.7 .9l.7-2.1l.7 1.5l.7-.7l.7 1.1l.7-1.4l.7-2.4l.7 .3l.7-1.7l.7 .2l.7 .7l.7-.6l.7-2.1l.7-1.7l.7 .3l.7 1.6l.7-2.6l.7-1.5l.7-.1l.7 .2l.7 2.4l.7-1.1l.7 0l.7 1.5l.7 .9l.7-.8l.7-.5l.7 .9l.7 .3l.7-2.9l.7-.4l.7 2.2l.7-3l.7-2.3l.7-5l.7-4.4l.7-6.5l.7-9.2l.7-16.3l.7-22.5l.7-23.3l.7-31.6l.7-35.7l.7-36.5l.7-27.9l.7-16.2l.7-2.3l.7 10.7l.7 14l.7 23.5l.7 26.6l.7 25l.7 21.7l.7 13.9l.7 7.6l.7-3.7l.7-12.6l.7-21.4l.7-30.7l.7-33.3l.7-31.3l.7-23.7l.7-8.4l.7 3.4l.7 17.3l.7 25.6l.7 29.3l.7 33.1l.7 29.9l.7 29.7l.7 24.7l.7 19.3l.7 14.8l.7 12.9l.7 6.3l.7 5.9l.7 4.6l.7 2.5l.7 1.2l.7 2.5l.7-.5l.7-.6l.7-1.1l.7 1.2l.7-3.4l.7-1.1l.7-3l.7 1l.7-2l.7-2.1l.7 3.2l.7 0l.7 2.5l.7 3.1l.7-.4l.7 3.2l.7 1.3l.7 2.6l.7 .1l.7 3.1l.7 .3l.7 2.3l.7-.1l.7 1.2l.7 1.1l.7 .3l.7-.9l.7 .6l.7-1.1l.7-.2l.7 .7l.7-2.8l.7-.5l.7 1.6l.7-1l.7 1.6l.7-.6l.7-.3l.7-.7l.7-.3l.7-.1l.7 .7l.7 1.1l.7-.5l.7 2.4l.7 0l.7-1.7l.7-1.5l.7 3.5l.7-2.7l.7-1.9l.7 1.2l.7 2.1l.7 1.5l.7 0l.7 .9l.7 .6l.7 .4l.7-2.4l.7 .9l.7-.3l.7 .6l.7-.6l.7 .4l.7 1.3l.7-2.9l.7 1.1l.7-1.9l.7-.6l.7 2l.7-1.3l.7 .1l.7 1.3l.7-2.7l.7 1.8l.7 2l.7-1.9l.7 1.7l.7 .8l.7-.3l.7-.7l.7 0l.7-.6l.7 .4l.7-.2l.7-1.1l.7 1l.7-.2l.7 1.2l.7-.7l.7 .2l.7-.2l.7 .6l.7-1.3l.7 .6l.7-1.3l.7 .1l.7-.8l.7 3.4l.7-1.3l.7-1.1l.7 .8l.7 .8l.7-.8l.7 1.1l.7-.6l.7 .4l.7-4.2l.7 3.3l.7-.7l.7 .6l.7-1.5l.7-.1l.7-.4l.7 1.6l.7-.3l.7-1.8l.7 1.3l.7 .8l.7-.9l.7 1l.7 .4l.7-.5l.7-1.1l.7 2.6l.7-1.1l.7-.2l.7-1.2l.7 .5l.7-.8l.7 .9l.7 .6l.7 .8l.7-1l.7-.1l.7 1.9l.7-2.7l.7 1.4l.7-.3l.7 .8l.7-1.1l.7-.6l.7 1.1l.7-1.5l.7 .2l.7 .9l.7-.1l.7-1.8l.7 2.6l.7-1.2l.7 1.4l.7 .1l.7-.8l.7-.3l.7-.9l.7 2.4l.7 .8l.7-1.2l.7 0l.7-1l.7-.1l.7 .8l.7 1.2l.7-1.6l.7 1.1l.7-.6l.7-.6l.7-.7l.7 .7l.7-.5l.7 2.3l.7-.3l.7-1.6l.7 0l.7-1l.7 1.2l.7 .3l.7-1.6l.7 .3l.7 .8l.7-2.1l.7 1.8l.7 1.3l.7 .3l.7-1.4l.7 .4l.7 1l.7-.1l.7 .5l.7-1.7l.7-.3l.7-.3l.7 1.3l.7-2.5l.7 2.4l.7-.8l.7 .3l.7-.9l.7 .8l.7-.8l.7-1.8l.7 2.7l.7-1.6l.7 1.2l.7-1.6l.7 .6l.7-.3l.7-1.6l.7 1.6l.7-.5l.7-1.4l.7 4.3l.7-1.2l.7-.3l.7-.7l.7 .4l.7-1.5l.7 1.2l.7 .6l.7-1l.7 1l.7 .3l.7-1.6l.7 1.7l.7-.5l.7 1.1l.7-1.2l.7-1.2l.7 .9l.7-.7l.7-1.8l.7 2.1l.7-1.1l.7 2.5l.7-.9l.7 .7l.7-.2l.7-.2l.7 1.2l.7-2.1l.7 2.2l.7-1l.7-2l.7 1.6l.7 .6l.7-1.3l.7 1.6l.7-.2l.7-1.8l.7 .1l.7 .8l.7 .1l.7 1.3l.7 .3l.7-.6l.7-.1l.7-1.1l.7-.4l.7-.8l.7 2.7l.7-1.6l.7-.5l.7-1.6l.7-1l.7 .5l.7 .4l.7 .4l.7 1.5l.7-.5l.7 1.2l.7-.2l.7-.1l.7-1.2l.7 .6l.7-.7l.7 .2l.7 0l.7 .4l.7 .6l.7 .7l.7-1.2l.7 .4l.7 .1l.7 .6l.7-1.5l.7 .3l.7 .1l.7-1.1l.7 1.4l.7-2.5l.7-.5l.7 .2l.7 .3l.7 .3l.7 .4l.7 .7l.7-.7l.7 .1l.7 1.2l.7-.9l.7 .2l.7-.8l.7-1l.7 1.2l.7 .1l.7 .6l.7-.2l.7-.6l.7 2.5l.7-2.6l.7-.8l.7 1l.7-.4l.7 .5l.7-1.7l.7 0l.7-.5l.7-.3l.7-3.2l.7 .7l.7-2.9l.7 .4l.7-4.2l.7-2.7l.7-2l.7-3.6l.7-2.3l.7-.5l.7-1.2l.7 .7l.7 2.9l.7 0l.7 2.7l.7 1l.7 3.6l.7 1.8l.7 2.3l.7 3l.7-3.5l.7 1.2l.7 .5l.7-.2l.7-3l.7-1l.7-4.3l.7-3.9l.7-7.2l.7-4.4l.7-12.5l.7-10.9l.7-15.1l.7-9.8l.7-8l.7-2.6l.7-2.5l.7 4.6l.7 4.5l.7 7.9l.7 6.7l.7 9.3l.7 10.8l.7 10.9l.7 8.4l.7 6l.7 4.6l.7 6.7l.7 1.7l.7 1.7l.7 2.2l.7 1.5l.7 3.1l.7-.8l.7 .2l.7 .8l.7-.5l.7 3.3l.7-1.8l.7 1.2l.7-1l.7 .2l.7-1.5l.7 2.1l.7 2l.7-.4l.7-1.5l.7 .8l.7-2.3l.7-.4l.7 2.4l.7-1.6l.7 3.2l.7-.4l.7-2.2l.7 .8l.7-.2l.7 .8l.7-1.5l.7 0l.7-1.6l.7 3.1l.7-.7l.7-.8l.7-1.6l.7 1.9l.7 3l.7-2.3l.7 1l.7-3.2l.7 1.7l.7 0l.7 1.3l.7-1.9l.7 1.9l.7 .2l.7-1.1l.7-.4l.7 .4l.7-1.4l.7-.4l.7 .1l.7 2.1l.7-.4l.7 .2l.7-.5l.7 .4l.7 1.8l.7-2.2l.7-.7l.7-.3l.7 .2l.7 1.6l.7-.8l.7 0l.7 .2l.7-1.2l.7 .5l.7 .3l.7-.1l.7 .6l.7 .7l.7-1.5l.7 1l.7 0l.7-1.2l.7 1.1l.7 .5l.7-2.6l.7 2l.7-.1l.7-.1l.7-1.8l.7 2.7l.7-.9l.7-.3l.7-.5l.7 2l.7-.8l.7-1.5l.7 2.8l.7-3.1l.7 1.8l.7-1.6l.7 .9l.7 .9l.7-.8l.7 .8l.7-.3l.7 1.8l.7-.4l.7 0l.7-1.4l.7-.1l.7 .2l.7 1.2l.7-.2l.7-1.1l.7 1.2l.7-1l.7-.1l.7-.3l.7-.4l.7 1.1l.7 2.8l.7-3.1l.7 1.4l.7-.5l.7-1l.7 .7l.7-.9l.7 1.1l.7 1.9l.7 .4l.7-1.8l.7-.6l.7-1.7l.7 1.6l.7-1.7l.7-.5l.7 1l.7-.3l.7-1.2l.7 2.9l.7-2.7l.7 .2l.7 2.6l.7-1.2l.7-1.2l.7 2.9l.7 .2l.7-.9l.7 .1l.7 .1l.7 .3l.7-1.3l.7-1.3l.7 1l.7-.1l.7-.7l.7 1.5l.7-.3l.7 1.1l.7 .9l.7-1l.7 1.9l.7-2.8l.7-.6l.7-1.3l.7 1.8l.7-.3l.7-1.9l.7 .8l.7 1l.7-1.4l.7 .8l.7-.1l.7 2.1l.7-3.4l.7 1.4l.7-1.2l.7 .6l.7 3l.7-.9l.7-.3l.7-.6l.7 0l.7 1.9l.7-3.1l.7 2.2l.7-.2l.7-2l.7 1.2l.7-.9l.7 .8l.7 1l.7-.5l.7 1l.7-.5l.7-3.2l.7 2.8l.7-2.2l.7-1.7l.7 2.7l.7 .1l.7 2.9l.7-.7l.7-.2l.7-1.1l.7 .5l.7-2l.7 1.4l.7-1.7l.7 .5l.7 .7l.7-.7l.7 3.7l.7-2.7l.7-.6l.7-.6l.7 .3l.7 .6l.7 .8l.7-1.9l.7 1.3l.7 2.5l.7-1.4l.7-.3l.7-.7l.7-.2l.7 .2l.7 1.2l.7 0l.7-1.8l.7-.2l.7 1.4l.7-1.1l.7 1.3l.7 .1l.7-2l.7-1.4l.7 .5l.7 1.1l.7-1.3l.7 1.4l.7-.1l.7-.1l.7 .1l.7-.4l.7 1.4l.7-2.5l.7 2.4l.7 1.8l.7-1.2l.7-1.5l.7-.4l.7 .6l.7-.6l.7 1.7l.7-2.4l.7 0l.7-1.4l.7 1.4l.7-2.1l.7 2.7l.7 .2l.7-1.5l.7 1.7l.7-.8l.7-.6l.7-1.1l.7-.5l.7 .3l.7 .2l.7 2.1l.7-.7l.7 3.2l.7-2l.7 .3l.7-2.3l.7 1.7l.7-2.2l.7 1.4l.7-.4l.7 .6l.7-1.6l.7 .4l.7 1.9l.7-.5l.7-1.4l.7 .7l.7-1.2l.7-1.6l.7 1.9l.7-5l.7 1.6l.7 .8l.7-1l.7 .6l.7-2.8l.7-2l.7-3.9l.7-1.7l.7-7.8l.7-7.1l.7-9.4l.7-10.6l.7-14.8l.7-14.5l.7-16l.7-15.5l.7-9.6l.7-2.6l.7-2.1l.7 5.2l.7 9.4l.7 5.1l.7 10.9l.7 10.8l.7 9l.7 13.8l.7 10.1l.7 7.7l.7 9.7l.7 5.8l.7 9.7l.7 3.9l.7 1.4l.7 1.8l.7 3l.7-.2l.7 1.9l.7-.1l.7 1.5l.7 1.1l.7 .4l.7 .9l.7-.8l.7 1.8l.7-.5l.7 .3l.7 1.2l.7-1.6l.7-1.1l.7 1.7l.7-1.6l.7 1.1l.7-.2l.7-2.2l.7 .4l.7 .4l.7 1l.7 .3l.7-1.2l.7 1.8l.7-2.1l.7-3l.7 1.5l.7-2.1l.7-.2l.7 .1l.7-.3l.7 .3l.7 .3l.7 .2l.7-1.8l.7 .8l.7 1.4l.7-2l.7 2.5l.7 .3l.7-.2l.7 2.5l.7 .1l.7 1.2l.7 1.4l.7-1.3l.7-.9l.7 1l.7-.4l.7 2.3l.7-1.4l.7-.1l.7-.1l.7 1.8l.7-.5l.7 .7l.7-.5l.7-1.1l.7-.2l.7 2.3l.7-1l.7 1.5l.7-1.4l.7 1.1l.7-.2l.7-.4l.7 1.3l.7 .3l.7-1.1l.7 2.3l.7-2.2l.7-1.8l.7 1.8l.7-2.1l.7 .7l.7 .6l.7 .9l.7-.6l.7-1.2l.7 2.1l.7-.9l.7 1.2l.7 .4l.7-.9l.7-.3l.7 1.5l.7-1l.7-.7l.7-.5l.7-1.6l.7-.4l.7 .6l.7 1.2l.7 0l.7 1.2l.7 .2l.7-.4l.7-1.4l.7-.5l.7 .6l.7-.1l.7 2.1l.7-.1l.7-2.7l.7 1l.7 .2l.7-.6l.7 .8l.7-.3l.7 .6l.7 .6l.7 .5l.7-1.3l.7 1.3l.7-1.8l.7 .4l.7 0l.7-.8l.7 1.3l.7-1.2l.7-.5l.7 2.5l.7-2l.7-.1l.7-1.8l.7 2.1l.7 1.7l.7-1.9l.7 .2l.7 1.3l.7 .5l.7 .8l.7 0l.7-.6l.7-.4l.7 1l.7-.4l.7-.5l.7-1.6l.7 0l.7 2l.7-1.8l.7 1.1l.7-.7l.7-1.8l.7 2.2l.7-1.8l.7 2.6l.7-2.2l.7-.3l.7 .3l.7 .1l.7-.4l.7 .3l.7 1.6l.7-1l.7 .3l.7-1l.7 .1l.7-1.7l.7 2l.7-2.5l.7-.7l.7 .6l.7 .6l.7 .8l.7 1.7l.7-3.4l.7 1.5l.7-1.9l.7 2.2l.7-.7l.7 1.5l.7-2l.7 1.3l.7 .3l.7-.9l.7 .6l.7-.4l.7-.2l.7 .2l.7-.5l.7 2.3l.7-.7l.7-.6l.7 .9l.7 0l.7-.7l.7 1.4l.7-1.2l.7 .6l.7 2.3l.7-2.5l.7 .7l.7 .3l.7-1.6l.7 .6l.7 .8l.7 .3l.7-2.5l.7 1l.7-.8l.7-.1l.7-.7l.7 1.6l.7-2.4l.7 2.8l.7-.4l.7 .2l.7-.5l.7-1.2l.7-.4l.7 1.6l.7 .4l.7-.2l.7-.9l.7 1.8l.7 1.4l.7-3l.7-.8l.7 .4l.7 2.2l.7-2.3l.7 .6l.7 .4l.7-.2l.7 .8l.7-1.5l.7-1.1l.7 1.3l.7-.1l.7 2l.7-.9l.7 .3l.7-2.2l.7-.1l.7-.4l.7-.7l.7-1.6l.7 2.4l.7-.3l.7 1.5l.7-.8l.7-2l.7 .3l.7-2.1l.7 1.4l.7-2.4l.7-2.8l.7-3l.7 .1l.7-3.7l.7-6l.7-2.3l.7-9.9l.7-6.2l.7-11.6l.7-8.9l.7-10l.7-4.8l.7-5.8l.7-2.2l.7 1.4l.7 3l.7 4.3l.7 3l.7 6.6l.7 6.1l.7 3.3l.7 5l.7 5.5l.7 5.7l.7 6.3l.7 2.6l.7-.3l.7 2.5l.7-3.7l.7-2.2l.7-5.1l.7-4.9l.7-2.6l.7-2.9l.7-.1l.7 .7l.7 .8l.7 4.4l.7 2.2l.7 4.3l.7 4.1l.7 3.5l.7 4.5l.7 4.7l.7 1.5l.7 2.8l.7 2.3l.7 4.3l.7 .1l.7 3.2l.7 2.4l.7-1l.7 3.4l.7-1.8l.7 2l.7-.8l.7-1.9l.7 1.2l.7 1.5l.7-1.6l.7-.9l.7 2.2l.7 0l.7-2l.7 1.4l.7-1.1l.7 .3l.7 2.5l.7 0l.7 .6l.7-1.1l.7-1.4l.7 1.1l.7-2.1l.7 .5l.7 .9l.7-.3l.7 .6l.7-.5l.7 1.9l.7 .7l.7-.1l.7 1.1l.7-.5l.7-.1l.7-2.2l.7 1.2l.7-1.9l.7 2.3l.7-.9l.7-.3l.7-.2l.7-.1l.7 .6l.7-.3l.7 .4l.7-2.1l.7 .2l.7 1.2l.7-4.4l.7 .7l.7-1.5l.7 1l.7-.2l.7-1.8l.7-1.1l.7-.2l.7 .5l.7-2.1l.7 .2l.7 1.1l.7-2.7l.7-.9l.7 1.4l.7 .4l.7-.2l.7 2.4l.7-2.2l.7 1.6l.7 2l.7-1.7l.7 2.7l.7 3.5l.7 0l.7-1.6l.7 3.8l.7-.2l.7-.9l.7-.6l.7 1.2l.7 .6l.7-1.6l.7-1.1l.7 1.5l.7 .2l.7-1.5l.7 .4l.7 .3l.7 1.6l.7-2.1l.7 1l.7 .8l.7-1.1l.7 .1l.7 0l.7 .2l.7-1l.7 2.8l.7-1l.7 1l.7-1.8l.7 .3l.7-.2l.7 .3l.7 1.4l.7 .3l.7-.2l.7-.4l.7-3.1l.7 1.8l.7 1.1l.7 .5l.7-1l.7 .3l.7-.9l.7-.5l.7 .3l.7-1.6l.7 .3l.7 1.1l.7 .4l.7 .4l.7 1.3l.7-1l.7 .6l.7 .4l.7-2.3l.7 .1l.7 1.6l.7-1.4l.7 1.4l.7-1.1l.7 .4l.7-.5l.7-.2l.7 2.3l.7-1.6l.7-1l.7 1.1l.7-1.1l.7 0l.7-.6l.7 .4l.7-2.6l.7-.7l.7 .2l.7-.3l.7-.9l.7-1.6l.7 .2l.7-1.1l.7-1.4l.7-1.1l.7 .3l.7-2.5l.7-2.1l.7-.8l.7 1.3l.7-1.9l.7 0l.7-.3l.7-.4l.7-.4l.7 1.3l.7 1.5l.7-.6l.7 1.9l.7 1l.7-.3l.7 1.8l.7 1.7l.7 .8l.7 .1l.7 3l.7-1l.7 2.3l.7 .4l.7 0l.7 1.6l.7 1.3l.7-1.2l.7-.2l.7 0l.7 .3l.7-1.1l.7 2.3l.7-1.7l.7-1.9l.7 2.3l.7-.7l.7-1.2l.7 2.3l.7-.4l.7 .9l.7-1.4l.7-.2l.7 .3l.7 .1l.7-1.3l.7 1.1l.7-2.3l.7-.3l.7-1l.7-1.1l.7-1.9l.7-2.3l.7-1.5l.7-2.3l.7-2.6l.7-6l.7-6.4l.7-2.5l.7-6.2l.7-2.2l.7-2.9l.7-1.4l.7 1l.7 1.5l.7 3.3l.7 .7l.7 2.5l.7 1.7l.7 2.3l.7 4l.7 3.1l.7 1.1l.7 2.7l.7 2.6l.7 .9l.7-.8l.7 1l.7-1.9l.7-3.8l.7-2.9l.7-5.7l.7-5.1l.7-7.9l.7-9.1l.7-11.6l.7-11.5l.7-11l.7-9.6l.7-8.3l.7-3.4l.7-1.1l.7-2.8l.7 2.6l.7-.9l.7-4.2l.7 2.5l.7-6.6l.7-3.4l.7-3.6l.7 1.9l.7 2.6l.7 6l.7 6.7l.7 8.2l.7 8.6l.7 9.3l.7 6.1l.7 7.4l.7 7.8l.7 3.6l.7 8.6l.7 9.5l.7 4.9l.7 7.2l.7 3.3l.7 5.5l.7 2.8l.7 3l.7 .1l.7 4.4l.7 .1l.7 .5l.7 1.9l.7-.9l.7-.1l.7 1.7l.7 1.3l.7-1.1l.7 1.2l.7 1.1l.7-1l.7 .5l.7 .1l.7 .6l.7 .6l.7-2.5l.7 2.5l.7 1.7l.7-1.4l.7 .3l.7-.3l.7 1.5l.7-.9l.7 2.1l.7-1.6l.7 .1l.7-.2l.7-.7l.7-2l.7 2.2l.7 1.3l.7-2.5l.7 2.3l.7-.2l.7 0l.7-.6l.7 0l.7-.8l.7 1.4l.7-2.7l.7 .2l.7 .3l.7 .3l.7 1.9l.7-.7l.7 1.2l.7-2.1l.7 .8l.7-.5l.7 .9l.7 .2l.7 0l.7-.8l.7 2l.7-1.6l.7 1.2l.7 1.1l.7 0l.7-2.2l.7 3.3l.7-2l.7 .6l.7-1l.7-.4l.7-.1l.7 .3l.7 .3l.7-1.8l.7-.7l.7 1.3l.7-.8l.7 .4l.7 2.1l.7-.5l.7-1.3l.7 .4l.7 .3l.7 .3l.7 .1l.7 .1l.7 .4l.7-1.5l.7-1.8l.7 1.8l.7-.3l.7-.2l.7 1.4l.7-2.5l.7 1l.7 .7l.7 2.6l.7-2.4l.7 .4l.7 .6l.7-.6l.7-2.5l.7 2.2l.7-.7l.7 .8l.7 .3l.7-.7l.7-.9l.7-1.5l.7 3l.7 .7l.7 0l.7-1.5l.7 1.1l.7-1l.7 1.5l.7-1.4l.7 .6l.7-1.3l.7-1.1l.7 0l.7 2l.7 0l.7-.9l.7-.7l.7 .9l.7 1.4l.7-.8l.7-.4l.7 1.8l.7-.5l.7-1.1l.7-.6l.7 3l.7-.9l.7-1.3l.7 1.3l.7-.3l.7-1.3l.7 1l.7-.9l.7 .2l.7-1.4l.7 1.2l.7 0l.7 .7l.7-.9l.7 2l.7-1.4l.7 2.1l.7-2.3l.7-.9l.7-1.3l.7 1.5l.7 .9l.7-.9l.7-.3l.7 .9l.7 1.9l.7-1.6l.7 .6l.7-.5l.7 1.3l.7-.1l.7 .1l.7-.1l.7-.7l.7 .4l.7-1.1l.7-1.6l.7 2.2l.7-1.7l.7 1.9l.7-.5l.7 .4l.7-1l.7-2.2l.7 1.4l.7-1.6l.7 2.3l.7-.5l.7-2.1l.7 3l.7-.2l.7-2l.7 2.1l.7 .1l.7 .7l.7-.6l.7-2.5l.7 2.5l.7-1.8l.7 1.1l.7-1.1l.7 1.8l.7-.7l.7-1.1l.7-.1l.7 1.8l.7-.2l.7-1l.7 1l.7 .7l.7-1.6l.7-.9l.7 3l.7-1.1l.7 .8l.7-1l.7 2l.7-.4l.7-1.3l.7 .6l.7-1l.7-.6l.7-1.4l.7 2.2l.7-.9l.7 1.7l.7 0l.7-1.1l.7 1.5l.7-1.4l.7 .9l.7 1.2l.7-1.8l.7-.2l.7-1.6l.7 .7l.7 .1l.7 1.1l.7-1.1l.7 .5l.7 2.9l.7 0l.7-.7l.7-1.6l.7-.5l.7 0l.7 1.1l.7-.9l.7-.3l.7-.3l.7 .7l.7-1.3l.7 1.2l.7-2l.7 .3l.7 .5l.7 .7l.7-1.1l.7 1l.7 .1l.7 .7l.7-.8l.7 1.6l.7-1l.7 .7l.7-2.8l.7 2.8l.7-.8l.7 .5l.7-1l.7 .6l.7 0l.7-1.3l.7 .8l.7-1.8l.7 2.5l.7-.2l.7 1.6l.7-.7l.7-.2l.7-.6l.7 2.1l.7-1.2l.7-.1l.7-.7l.7-.8l.7 .8l.7 1.1l.7-1.5l.7 1.1l.7 .6l.7-.9l.7 1.2l.7-.7l.7-.6l.7-.2l.7-.5l.7-.4l.7 1.6l.7-1.1l.7 .7l.7-2.1l.7 .3l.7 2.2l.7-.7l.7-.8l.7 .9l.7-.3l.7 .5l.7-1.3l.7-1.7l.7 1.8l.7 .5l.7-.2l.7 .9l.7-2l.7 .9l.7-1.2l.7 2.4l.7-2l.7 2.7l.7-.6l.7-2.1l.7 2.1l.7 1.4l.7-1.9l.7 1l.7-.9l.7 .4l.7 .5l.7 1l.7 1.1l.7-3.6l.7 .5l.7 .6l.7 .3l.7-1.2l.7 1.8l.7-2.5l.7-.5l.7 2.2l.7-1.9l.7 2.3l.7-.6l.7-1.8l.7 .9l.7 .8l.7 .7l.7-.1l.7-1.3l.7 .4l.7-1.2l.7 2.8l.7-2.7l.7 1l.7 .2l.7-1.8l.7 1.6l.7 .5l.7 .6l.7-.7l.7 .7l.7-.9l.7-2l.7 1.1l.7-1.6l.7-.7l.7 4.1l.7-1.3l.7-.1l.7 .9l.7 .8l.7-2.4l.7 2.1l.7-1.4l.7-.3l.7 .2l.7-.6l.7-.6l.7 .3l.7 2.8l.7-1.1l.7-.9l.7-.5l.7 1.1l.7 .7l.7-.7l.7-.6l.7-.2l.7 2.6l.7-4.8l.7 2.1l.7 .4l.7-.7l.7 1.2l.7 1.3l.7-1.2l.7-2.1l.7-.1l.7 .8l.7 .6l.7 .1l.7-1.6l.7 1.7l.7-1.1l.7-1.3l.7 2.4l.7-.8l.7 1.3l.7-2.3l.7 1.5l.7-.2l.7-.9l.7-1l.7 1.8l.7-.7l.7 1.9l.7-2.1l.7 2.2l.7-2.9l.7 3.1l.7-1.9l.7 .6l.7-.3l.7-.4l.7-1.5l.7 1.7l.7 .1l.7-.2l.7 .5l.7-1.1l.7 .9l.7 .1l.7-1.5l.7 1l.7 1l.7-1.2l.7-.3l.7-1.9l.7 1.7l.7-1.6l.7 .5l.7-.7l.7 1.7l.7-.6l.7-1.4l.7 1.1l.7-1.9l.7-1.7l.7-.4l.7-3.4l.7-2.4l.7 .8l.7-3.5l.7 0l.7-.7l.7-2.4l.7 1.6l.7 .7l.7-.1l.7 1.6l.7 1.9l.7-.4l.7 1.9l.7 1.3l.7 1.1l.7 .1l.7 1.7l.7-1.8l.7 .8l.7 .1l.7 1.8l.7 1.1l.7 .4l.7 .5l.7-2.2l.7 1.4l.7 1l.7-1.2l.7 0l.7-1l.7-2.3l.7-2.3l.7-1.9l.7-.4l.7-4l.7-4.1l.7-4l.7-2.3l.7-5.7l.7-1l.7 .3l.7-2.1l.7 0l.7 1.1l.7 4.7l.7 .2l.7 3.2l.7 3.1l.7-.1l.7 .8l.7 1.5l.7 2.9l.7 .6l.7 2.5l.7 3.4l.7 2.2l.7-.1l.7 3.1l.7 .5l.7-.5l.7 2.6l.7 .7l.7 .3l.7 .6l.7 1.8l.7-1.4l.7 1.1l.7 1.4l.7-2l.7-1.2l.7 .2l.7-.3l.7 2.5l.7 .9l.7-1.4l.7 1.9l.7-2.1l.7 .8l.7-.7l.7-1.5l.7 .5l.7 1.1l.7-1.8l.7 1.5l.7-.4l.7 .2l.7 1.5l.7-1.5l.7 2.2l.7-.9l.7-1.2l.7-.9l.7 1.8l.7-.6l.7-1.4l.7 1.7l.7-.6l.7 2.2l.7-.8l.7-1.4l.7 .6l.7 1.5l.7-.3l.7-1.6l.7-1.1l.7 2.3l.7-2l.7 2.8l.7-3.1l.7 1.1l.7 2.2l.7-1.2l.7 .9l.7 .1l.7-3.3l.7 1l.7 1.4l.7-.3l.7-1l.7-.5l.7 1.2l.7 .5l.7-.2l.7-1.8l.7 .7l.7 1.8l.7 0l.7-.6l.7-1.2l.7 1l.7-1.6l.7-1.8l.7 0l.7-.6l.7 2.1l.7 1.1l.7 0l.7 .3l.7-1l.7 1.9l.7-1.8l.7 .3l.7 1l.7-.4l.7-1.8l.7 1.2l.7-.3l.7 .1l.7-.4l.7 .4l.7 .3l.7 1.7l.7 .5l.7-1l.7 .5l.7 .1l.7-1.6l.7 1.2l.7-1l.7-1.8l.7 1.3l.7-.3l.7-.8l.7-.6l.7 .2l.7 .3l.7 3.7l.7-3.8l.7 1l.7 .8l.7 1.1l.7-1.6l.7-.4l.7 1.7l.7-1.8l.7 .1l.7 2.4l.7-1.3l.7 1.3l.7-2.9l.7 .8l.7 1l.7 .7l.7-.9l.7-.6l.7-.9l.7 1.7l.7-2.3l.7 2.4l.7-.5l.7 .2l.7-.5l.7 1.5l.7-.8l.7 .1l.7-2.6l.7 1.8l.7-1.2l.7 1.7l.7 .3l.7 .2l.7 0l.7-.4l.7-1.1l.7 0l.7-1.9l.7 1.4l.7 .7l.7-2.9l.7 1l.7-2.4l.7 .2l.7-2.8l.7 .7l.7-2.5l.7 .3l.7-2.3l.7-1.9l.7-1.4l.7-2.8l.7-1.1l.7 .5l.7 .9l.7 .6l.7 1.2l.7 .3l.7 2.6l.7 .3l.7 .1l.7 1.5l.7 1.2l.7-.2l.7 1l.7 1.1l.7 .5l.7-.1l.7-1.6l.7 3.9l.7-1.3l.7 1.9l.7 .3l.7 1.3l.7-.8l.7-1.1l.7 0l.7 .6l.7-2.5l.7 2.7l.7-3.8l.7-1.6l.7-1.8l.7 1.2l.7-5.2l.7-.8l.7-3.2l.7 1l.7-2.4l.7-.5l.7-.5l.7 1l.7 .5l.7 .4l.7-.6l.7-1.3l.7 .9l.7-2l.7-.1l.7 .8l.7-.2l.7-.2l.7 0l.7 0l.7 1.6l.7 1.8l.7 .6l.7 2.2l.7 1.1l.7 1.2l.7 1.4l.7-.8l.7 .5l.7-.3l.7 3.3l.7-.6l.7 .7l.7-1.4l.7 2.8l.7 3.3l.7-.7l.7-.2l.7 1.9l.7 1.9l.7-1.9l.7 .9l.7-.1l.7 .9l.7-.9l.7 0l.7 2.4l.7-1.2l.7 .5l.7 .4l.7 .3l.7 0l.7-.4l.7 1.8l.7-1.4l.7 .8l.7 1.6l.7-2.9l.7 2.5l.7-2l.7 1l.7-.6l.7 1.6l.7 1.5l.7-2.6l.7 0l.7-.9l.7 1.7l.7-4.4l.7 1.5l.7 .3l.7-.2l.7 1.4l.7-.9l.7-1.7l.7 1.9l.7-2.2l.7-1.6l.7 2.6l.7-.8l.7 1.5l.7-.3l.7-.3l.7 1.2l.7 0l.7 0l.7 .3l.7 .1l.7-.7l.7 1.3l.7-1.9l.7 .3l.7 .6l.7-2l.7 1.5l.7 .6l.7 .3l.7-.3l.7 1.6l.7-.5l.7-3.4l.7 1.9l.7 0l.7-1.6l.7 0l.7 1.6l.7-1.4l.7 .4l.7 1.4l.7-3.3l.7 .5l.7-1.1l.7-.3l.7 1.2l.7-.7l.7-2.3l.7 3.1l.7-.5l.7 .4l.7 .4l.7 .1l.7 0l.7-.1l.7 1.2l.7 1.7l.7-2.7l.7 1.4l.7 0l.7-.2l.7-1.8l.7 1.4l.7 .7l.7 .2l.7 1.5l.7 1l.7-1.4l.7-.1l.7-.7l.7 1.1l.7-.5l.7 1.9l.7-1.5l.7-.2l.7 1l.7-1.2l.7 1.2l.7-2l.7-1l.7 1.6l.7-1.6l.7 .4l.7-.2l.7-.4l.7-1.2l.7 2.3l.7-.4l.7 .8l.7-1l.7 1.6l.7-1.7l.7 2.2l.7-.5l.7-3.6l.7 3.8l.7-1l.7-.7l.7 0l.7-.2l.7 2.6l.7-.3l.7-2.2l.7 1.6l.7 .7l.7 0l.7-1.9l.7 1.1l.7 .2l.7-2.1l.7 1.2l.7-1.5l.7 1.7l.7 .8l.7 0l.7-.6l.7-.2l.7-.1l.7 2.2l.7-1.3l.7-.3l.7 1.6l.7-3.5l.7 1.4l.7-.9l.7-1.6l.7 .2l.7-2.5l.7 3.2l.7-2.8l.7 .8l.7-.1l.7 2.1l.7-1.2l.7 0l.7-2.5l.7-.7l.7 1l.7-3.8l.7-1.2l.7-2.2l.7 .4l.7-4.6l.7-1.5l.7-2.6l.7-2.3l.7-2.7l.7 .8l.7-.4l.7 2.5l.7-.7l.7 3.6l.7-.1l.7-.2l.7 1.2l.7 1.5l.7 .9l.7-1l.7 1.5l.7-.8l.7 2l.7-.4l.7 0l.7 .6l.7-1.8l.7 1.4l.7-2.7l.7-.7l.7-1.5l.7-.3l.7 .1l.7-2.6l.7-2.7l.7-3.6l.7 .5l.7-.6l.7 0l.7 1.5l.7 1.3l.7 2.1l.7 .2l.7 1.3l.7 .1l.7 1.6l.7-.3l.7 2.4l.7 .5l.7 .7l.7 1.2l.7 2.3l.7 2.7l.7 2l.7 1.4l.7 .8l.7-.3l.7 2.2l.7 .4l.7 1.4l.7-.1l.7-.1l.7 1.5l.7-.4l.7-.5l.7 .5l.7 .7l.7 1.5l.7-.2l.7 .2l.7 .3l.7 .1l.7 .4l.7-1.6l.7 1.3l.7-1.8l.7 .1l.7-2.9l.7 4.3l.7-2.6l.7 1.8l.7 1.1l.7 0l.7-.9l.7 .2l.7 .5l.7-1.6l.7 1.9l.7-.7l.7-1.8l.7 2l.7-.5l.7 1.2l.7 .5l.7-.5l.7-.5l.7-1.4l.7 .1l.7 .2l.7 1.2l.7 .9l.7-2.7l.7-1.7l.7 1.7l.7 .2l.7 .8l.7-.2l.7 1.7l.7-1.6l.7-2.1l.7 1.1l.7 .7l.7-2.3l.7 1.3l.7 .7l.7-.4l.7 1.1l.7 1.2l.7-3.6l.7 1.4l.7 1.9l.7-2.7l.7 .1l.7 .5l.7 2.5l.7-2.4l.7 2.4l.7-.5l.7-.5l.7 .9l.7-.4l.7 1.2l.7-1.8l.7 .6l.7-.8l.7 1.7l.7-1.5l.7 .5l.7-.5l.7-.2l.7 .8l.7 .1l.7 1.5l.7-1.8l.7 .4l.7-.6l.7-1.6l.7 .6l.7 1.2l.7 1l.7 .6l.7-.9l.7 .9l.7-2.3l.7 1.4l.7-4.2l.7 2.8l.7-.3l.7 0l.7 .8l.7-1.4l.7 2.4l.7-.8l.7-.6l.7 1.2l.7 .1l.7 .8l.7 .3l.7-3.4l.7 1.9l.7-.3l.7 2.2l.7-2.1l.7-.8l.7-1l.7 .8l.7 .4l.7 .3l.7 0l.7 .6l.7-.8l.7-.3l.7-.3l.7 .6l.7-.1l.7-.2l.7 0l.7-2.6l.7 2.5l.7-.7l.7 .3l.7 0l.7-.6l.7 1l.7-.4l.7 .4l.7 .2l.7 2.2l.7-2.7l.7-1.5l.7 1.3l.7 2l.7 .9l.7-2.4l.7 0l.7-.8l.7 .2l.7-.9l.7 .1l.7-.6l.7 .4l.7 .8l.7-.7l.7-.9l.7-1.1l.7 .2"/>
<path stroke="#ff00ff" stroke-width="8.4" d="M205.0 432.5l.7-.6l.7 2.7l.7-2.6l.7 .3l.7 1.4l.7-2.4l.7 .2l.7 .6l.7-.6l.7-.9l.7 1.1l.7 .1l.7 1.2l.7-1.9l.7 .9l.7 1.9l.7 .7l.7-3.1l.7 2.1l.7-1.5l.7 0l.7-.3l.7 .2l.7 1.2l.7-.2l.7-.4l.7-.3l.7 .3l.7-.2l.7 .7l.7-1.5l.7 .4l.7-.2l.7-.2l.7 .1l.7-.2l.7 1l.7-1.2l.7 1.8l.7-1.5l.7 .1l.7 .7l.7 .3l.7-.1l.7 .8l.7-.3l.7-.8l.7-1l.7 0l.7 1.4l.7-.8l.7-.9l.7 1.4l.7 .7l.7 1.9l.7-1.5l.7 1.7l.7-1.9l.7-.8l.7-.5l.7 1.4l.7-1l.7-.6l.7 1.3l.7-.7l.7 1.1l.7-1l.7-2.5l.7 3.6l.7-2.4l.7 3.2l.7 .2l.7-2.2l.7-.7l.7 0l.7 2.2l.7-1l.7-.5l.7-.1l.7 1.6l.7-2.1l.7 0l.7-.1l.7 .4l.7 .4l.7-1.2l.7 .7l.7-.3l.7 0l.7 1.8l.7-1.6l.7 .4l.7-.5l.7 .2l.7 1.2l.7-1.3l.7-.2l.7 .7l.7-.2l.7 0l.7-.7l.7-1.9l.7 2.4l.7 .3l.7 .9l.7-1.6l.7 3.1l.7-4.1l.7 1.1l.7-1.3l.7-.9l.7 1.3l.7-.7l.7-1.6l.7 1.4l.7 1.6l.7 1.6l.7-3.6l.7 1.5l.7 1.6l.7-.5l.7-.6l.7-1l.7-.7l.7 .4l.7-.5l.7-2.8l.7-.6l.7 .5l.7-2.3l.7-2.9l.7-3.5l.7-6.4l.7-7.4l.7-11.7l.7-14.9l.7-18l.7-14.8l.7-8.3l.7-.4l.7 6.4l.7 11.5l.7 12.9l.7 13.9l.7 15.4l.7 9.6l.7 7.7l.7 4.7l.7 3.4l.7 5.2l.7 1l.7-.2l.7 2.3l.7 .4l.7 .4l.7 1.8l.7-2l.7-1l.7 1.4l.7-.7l.7 1.1l.7-.5l.7-.1l.7-1l.7 .9l.7-.7l.7 1.1l.7-.8l.7-.8l.7 1.6l.7-1.1l.7 2.1l.7-.7l.7 .3l.7-.2l.7-.1l.7-2.2l.7 3.5l.7-1.7l.7 1.8l.7-1.5l.7 .3l.7-.4l.7-1.2l.7 .5l.7 .4l.7-.8l.7-.7l.7 .9l.7 .9l.7 1l.7-.2l.7-.6l.7-1.2l.7 1.9l.7-.8l.7-.2l.7 1.1l.7-.2l.7-.2l.7-1.6l.7 .4l.7-1l.7 2l.7 .3l.7 1.3l.7-.3l.7-.3l.7 2.3l.7-3.2l.7-.4l.7 .5l.7 .9l.7-1.1l.7-.2l.7-.7l.7 2.5l.7-1.9l.7-.3l.7 1l.7-.6l.7 .6l.7 1.5l.7-1.7l.7 .3l.7-.4l.7-.1l.7 .7l.7-.5l.7-.9l.7-.3l.7 1.1l.7 1.3l.7-.6l.7-.3l.7-2l.7 2.1l.7-2.7l.7-.1l.7 .9l.7 .4l.7 .2l.7-.6l.7 .6l.7-.2l.7-1.2l.7 1.1l.7-1l.7 .4l.7-1.3l.7 .5l.7-.6l.7 0l.7 .5l.7 .1l.7 0l.7 2.3l.7-1.4l.7 1.3l.7 1.2l.7-.9l.7 1l.7-1.3l.7 .3l.7 .8l.7-.3l.7 .1l.7-1.3l.7 .5l.7 .6l.7 .3l.7-1.2l.7 1l.7 1.9l.7-2.8l.7 1.5l.7-1.5l.7 1l.7-1.9l.7 .8l.7-1.8l.7 2.1l.7 1.2l.7-2.2l.7 2.9l.7-1.5l.7 .8l.7-2.5l.7 3.5l.7-2l.7 .1l.7-.9l.7 .1l.7 1.8l.7-1.7l.7 1.3l.7-1l.7 .5l.7-.9l.7 .6l.7 1.8l.7-1.7l.7 .3l.7-.4l.7 2l.7 .5l.7-3l.7 0l.7 3l.7-1.9l.7-.4l.7 .3l.7 .4l.7-.5l.7-1.2l.7 1.9l.7-2.2l.7-.9l.7 .5l.7 .9l.7 .5l.7 .7l.7 .8l.7-3.4l.7 2.2l.7 1.4l.7-.5l.7-1.2l.7-.2l.7 1.4l.7-1.8l.7-.8l.7 1.9l.7-2.1l.7 1.1l.7-.4l.7 .3l.7-.8l.7 .2l.7 2.1l.7-2.2l.7 1.4l.7-1.3l.7 .9l.7 .1l.7-1.4l.7 2.8l.7-1.1l.7 1.5l.7-1.7l.7 2l.7 1.6l.7-1.9l.7-.8l.7 .9l.7-.7l.7-.8l.7-.3l.7-.7l.7 .8l.7-.8l.7-.3l.7 1.7l.7-1l.7 2.7l.7-2.8l.7-.5l.7 0l.7 .6l.7-1.4l.7-1.4l.7 1.5l.7-4.5l.7 .3l.7-4.1l.7-4.3l.7-.5l.7-4.1l.7-1.7l.7 1.8l.7 3.2l.7 2.1l.7 3l.7 3.5l.7 .4l.7 1.5l.7 0l.7-1.4l.7 .2l.7-.4l.7-6.1l.7-1.2l.7-6.6l.7-8.1l.7-7.7l.7-8.2l.7-12.7l.7-8.6l.7-7.6l.7-6.4l.7 1.5l.7 4.6l.7 7.3l.7 11.2l.7 9.8l.7 10.1l.7 8.6l.7 9l.7 4.9l.7 3.8l.7 1.9l.7 1.2l.7 1.2l.7 1.9l.7-1.3l.7 2.3l.7-1l.7-.2l.7-.9l.7 3.5l.7-2.5l.7 2.5l.7 1.5l.7-1.9l.7-.6l.7 .4l.7 .6l.7 .3l.7-.7l.7-1.4l.7 .6l.7 1.1l.7-1.3l.7 1.1l.7 2.4l.7-3.2l.7 2.1l.7-2l.7 .6l.7 .1l.7-1.6l.7 1.2l.7 1.3l.7-.4l.7 .1l.7-1.4l.7 .7l.7 .5l.7 .7l.7 .8l.7-2.2l.7 2.6l.7-2l.7 0l.7-.8l.7 1.2l.7 .2l.7-.7l.7 .9l.7 .4l.7-.8l.7 .6l.7-2.1l.7 1.5l.7-1.2l.7 .6l.7-2l.7 2l.7-.1l.7 1l.7-1.8l.7 2.7l.7-2l.7 2.3l.7-.7l.7-1.6l.7 2.3l.7-3.7l.7 .7l.7 .3l.7 .4l.7-.1l.7 .6l.7-.3l.7-.6l.7-1l.7 .6l.7 1.3l.7-1.8l.7 1.3l.7-2l.7 1.3l.7-.8l.7 2.8l.7-2.8l.7 1.5l.7 .8l.7-.4l.7 0l.7 .3l.7-.4l.7 .6l.7-.5l.7 .2l.7-1.6l.7 1.8l.7 1l.7-1.8l.7-.4l.7 1.1l.7 .6l.7-.3l.7-3l.7 1.7l.7-1l.7 1l.7-2.4l.7 3l.7-1.4l.7 .7l.7 0l.7-.2l.7 2.1l.7-.4l.7-.1l.7 1l.7-1.1l.7-1.3l.7 .9l.7-2.1l.7 .2l.7 .4l.7 0l.7-.1l.7 0l.7-1.7l.7-.8l.7 2.4l.7-.1l.7-1.5l.7 1.1l.7-.9l.7-.9l.7 2.8l.7-.3l.7-.1l.7 1.5l.7-.1l.7-1.9l.7-.2l.7-.6l.7 1.9l.7-.4l.7 .6l.7-.4l.7-1.1l.7-.4l.7-2.1l.7 1.4l.7-3l.7 0l.7-2l.7 .2l.7 .1l.7-1.2l.7-.6l.7 3.2l.7-2.1l.7 1.4l.7 .1l.7 .1l.7 2.7l.7-.3l.7 .6l.7-1.8l.7 2.8l.7 .9l.7-.3l.7-.3l.7 1.3l.7-.8l.7 .4l.7 .6l.7-.1l.7-2.3l.7 1.3l.7-1.6l.7-1.8l.7 1.5l.7-2.6l.7 .7l.7-2.5l.7 .9l.7 0l.7-.1l.7-1.3l.7-1.5l.7-1.6l.7-.4l.7-6.4l.7-6.9l.7-9.3l.7-19.8l.7-22.1l.7-25.4l.7-27.3l.7-24.7l.7-12.3l.7-.6l.7 7.9l.7 16.5l.7 16.8l.7 22.2l.7 18.6l.7 17l.7 8.1l.7 1.9l.7-4.2l.7-12.7l.7-20.9l.7-26.1l.7-24l.7-20.2l.7-10.2l.7 4.6l.7 12.5l.7 18.8l.7 20.8l.7 20.4l.7 21.9l.7 18.2l.7 15.1l.7 10.5l.7 6.4l.7 1.7l.7 .3l.7 1.8l.7 1l.7 1.3l.7 3.6l.7 3.7l.7 3.6l.7 1.9l.7 2.4l.7 1.2l.7-.1l.7 2.2l.7-.4l.7 1l.7-2.3l.7 .3l.7 .8l.7-2.1l.7 1.3l.7-1l.7-1.2l.7-1.7l.7-4.2l.7-.4l.7-2.5l.7-1.3l.7-1.4l.7-2.2l.7 0l.7-2.7l.7 4.1l.7 2.5l.7 2.1l.7 1.7l.7 1.6l.7 1.9l.7 1.9l.7 1.8l.7 1.2l.7 .4l.7-.3l.7 3.5l.7-2.3l.7-1.7l.7 3.8l.7-.3l.7-.5l.7 1.1l.7-.1l.7-.9l.7 1.1l.7-1.2l.7 .5l.7-.2l.7 .8l.7 .8l.7-1.6l.7 1l.7-2.4l.7 1.2l.7 1.8l.7 .6l.7 .1l.7 .1l.7-2.6l.7 1.1l.7-1.9l.7 2.6l.7 .8l.7-.4l.7-.6l.7 1l.7-.3l.7-.5l.7-.7l.7 .6l.7-.2l.7-.2l.7-.2l.7-1.1l.7-1.5l.7 1.1l.7 .8l.7-.5l.7 .9l.7-.6l.7 2.3l.7-.5l.7-.1l.7 .7l.7-.3l.7-.9l.7 .6l.7-.3l.7-.5l.7-.2l.7-1.1l.7 1.3l.7 .1l.7-.8l.7 2.4l.7-1l.7-.9l.7 .7l.7 .3l.7 0l.7-.9l.7 .6l.7-1.7l.7 .7l.7 .7l.7-1.2l.7 1.3l.7 .3l.7-1.2l.7-1.7l.7 3.2l.7 .4l.7-2.9l.7 1.7l.7 .1l.7-1.8l.7 1.1l.7 1.6l.7-1.2l.7-.3l.7 1.2l.7-1.3l.7-.8l.7 3.2l.7-1.9l.7 .7l.7 .8l.7-1l.7-.3l.7-.8l.7 1l.7 1.4l.7-2.9l.7-.7l.7 1.1l.7-1l.7 1.1l.7 .2l.7 .8l.7-.1l.7 0l.7 .6l.7-2.5l.7 .6l.7 0l.7-1.5l.7 .5l.7 .8l.7 .2l.7 1.8l.7-.9l.7 2.6l.7-3.3l.7-.1l.7 2.4l.7-2.6l.7 2.8l.7-4.9l.7 2.4l.7 2l.7 0l.7-1.3l.7-1.3l.7 .4l.7 1l.7-.2l.7 .8l.7-1.6l.7 1.3l.7 .1l.7 1.6l.7-2.1l.7 .4l.7-1l.7-.2l.7-.8l.7 2.4l.7 1.3l.7-2.2l.7-2.4l.7 2.5l.7-.2l.7 .1l.7 2.2l.7-.5l.7 .1l.7-2.6l.7 .8l.7-1.6l.7 2.2l.7-2l.7 2.4l.7-.8l.7-.1l.7-1.6l.7 1.9l.7-2.3l.7 .7l.7 .5l.7 3.1l.7-1.7l.7-.6l.7 1.2l.7 1.8l.7-2.3l.7-.8l.7 0l.7 .9l.7 1.5l.7-2.1l.7-.5l.7-1.2l.7-.5l.7 2.1l.7-.4l.7 .4l.7-1.2l.7 2.2l.7 .1l.7 1.3l.7-.3l.7-1.2l.7 .3l.7-.4l.7-.9l.7-1.2l.7 1.4l.7 1.3l.7-2.2l.7 1.8l.7-1.9l.7-.1l.7 .1l.7-.3l.7 1.1l.7 .1l.7-3.4l.7 3.4l.7-.1l.7 1.6l.7-2.2l.7 1.1l.7 1.1l.7-.3l.7 .6l.7-2l.7 .4l.7 1.4l.7-1.8l.7 1.6l.7 .1l.7-.9l.7-1.7l.7 .6l.7 .1l.7 .3l.7-.6l.7-.9l.7-1.3l.7 .2l.7 1.2l.7 .3l.7 .2l.7-.8l.7 .4l.7-.8l.7 .7l.7-.2l.7 .8l.7-1.2l.7 0l.7-.5l.7 1l.7 .7l.7 .6l.7-.6l.7 .2l.7 1.1l.7-.7l.7-1l.7 1.5l.7-1.1l.7-1l.7 1.3l.7-.6l.7 .8l.7-.8l.7 .3l.7-.5l.7 .3l.7 .6l.7-.3l.7-.1l.7 1.1l.7-2l.7 1.7l.7 1l.7-.6l.7 .4l.7-2l.7 1.9l.7-1.7l.7 1.8l.7-.8l.7 .6l.7-1.7l.7 .4l.7-1.8l.7 1.9l.7 .2l.7-.3l.7 .8l.7-.4l.7-.3l.7 .4l.7-1.2l.7 1l.7-1.1l.7-.5l.7-1l.7-1.2l.7-1.6l.7-1l.7-1.2l.7-4.7l.7-.6l.7 1.5l.7-4l.7-.2l.7 1.3l.7 .7l.7 1.6l.7 1.4l.7 .4l.7 3.4l.7 .2l.7 1.7l.7-.6l.7 1l.7-1l.7 2.8l.7-1.6l.7 .4l.7-1.3l.7-2l.7-.3l.7-1.9l.7-4.2l.7-6.1l.7-7l.7-8.7l.7-8.3l.7-8l.7-7.3l.7-4l.7-1.1l.7 2.9l.7 3.9l.7 5.7l.7 6.1l.7 7.4l.7 6.6l.7 6.9l.7 7.3l.7 4.6l.7 .4l.7 5l.7 1.8l.7 1.7l.7-2l.7 .9l.7 1.4l.7 .7l.7-1l.7 2.2l.7-.1l.7-.2l.7 .5l.7-1.4l.7 1.3l.7-1.9l.7 3.1l.7-.1l.7-.9l.7-1.5l.7 1.1l.7 1l.7-1.9l.7 1.5l.7 .5l.7-1.3l.7 .2l.7 1.6l.7-.4l.7 .6l.7-1l.7-1l.7 1.2l.7-.4l.7 .3l.7 .6l.7 .9l.7-1.2l.7 1.8l.7-2.8l.7 1.1l.7 .2l.7-2.3l.7 .1l.7 1l.7 .3l.7 .2l.7-.3l.7-.2l.7-.7l.7 1.6l.7 1.6l.7-1.1l.7-1.1l.7 .7l.7 .3l.7 .7l.7-1.7l.7 .9l.7 0l.7-1l.7 0l.7-.4l.7 .3l.7 0l.7-1.5l.7 1l.7 1.7l.7-1.1l.7-1.4l.7 3.4l.7-1.3l.7 .4l.7 .1l.7-1.3l.7-1l.7 0l.7 1l.7 0l.7 .1l.7 2.6l.7-1.5l.7 .8l.7 1.2l.7-1.8l.7-.4l.7 .3l.7 .4l.7 1.4l.7-1l.7-1.5l.7-.7l.7 1.1l.7 1l.7-2l.7 2.1l.7-1.1l.7-.4l.7-.4l.7-.6l.7 0l.7 1.4l.7-2.6l.7 .9l.7 .5l.7-.8l.7 .9l.7-.6l.7 2.2l.7 .1l.7-1.8l.7 2.6l.7-2.3l.7-1.1l.7-.2l.7 1.8l.7-2.7l.7 2.2l.7 .6l.7 1.1l.7-1l.7 1.4l.7-1.8l.7 .9l.7-2l.7 1.1l.7-.6l.7 .6l.7 2l.7-2l.7 0l.7-.1l.7 .2l.7-2.4l.7 2.7l.7-1.9l.7-.6l.7 2l.7-1.1l.7 1.5l.7 .9l.7-.8l.7-.8l.7 1.2l.7 1.8l.7-2.1l.7 1.3l.7-.7l.7-2.8l.7 1.9l.7-2l.7 2l.7 .5l.7-.2l.7-1l.7 1.3l.7-.2l.7 .4l.7-1l.7 .2l.7-1.2l.7-1.5l.7 1.4l.7 1.3l.7-1.8l.7 .2l.7-.5l.7 3.9l.7-2.5l.7 2l.7-1.1l.7-.4l.7 0l.7 1.5l.7-.1l.7-1l.7-.6l.7 2l.7-.7l.7-.9l.7-.2l.7-1.7l.7 1.2l.7-.9l.7 .4l.7-.4l.7 1.6l.7 .5l.7-1.7l.7 1.8l.7 .1l.7 .8l.7-.3l.7-1.9l.7 1.4l.7-.8l.7-.8l.7-.5l.7 1.8l.7 0l.7-1.1l.7 .9l.7-.6l.7-.2l.7-.1l.7 1.2l.7-.7l.7-.4l.7-.7l.7-.6l.7 .7l.7-2.2l.7 2.7l.7-1.5l.7 1.1l.7 .2l.7-.4l.7 0l.7-1.4l.7 2.5l.7-.3l.7-.1l.7 .6l.7-.8l.7-1.1l.7 0l.7 1.6l.7-3.1l.7 3.8l.7-1l.7-1.1l.7 .5l.7-.9l.7 1.3l.7 .3l.7 .6l.7-2.5l.7 2.1l.7-.9l.7-.3l.7 .2l.7 .5l.7 1.6l.7 0l.7-.3l.7-1.3l.7 .6l.7 1l.7-.5l.7-1.1l.7 2.4l.7 .5l.7-1.6l.7-.8l.7 .4l.7-1.1l.7-.3l.7 1.2l.7-.8l.7 1l.7 1.8l.7-2.2l.7-.2l.7 .3l.7 .4l.7 .9l.7-1.1l.7 .6l.7-2l.7-.2l.7 .5l.7 .7l.7-2l.7 2l.7-2.2l.7 1l.7-.3l.7 1.4l.7-2.4l.7 .3l.7 .6l.7 1l.7-.2l.7-2l.7 .1l.7-.7l.7 2.7l.7-1.4l.7 0l.7-3l.7 1.7l.7-1.1l.7 .4l.7-3.6l.7 1l.7-3.3l.7-3.8l.7-6.7l.7-3.6l.7-9.5l.7-9.1l.7-10.2l.7-10l.7-7.7l.7-4.9l.7-.2l.7 1.8l.7 3.2l.7 6.3l.7 6.6l.7 4.8l.7 7.3l.7 8.2l.7 6.2l.7 5.2l.7 6.3l.7 4.5l.7 3l.7 2.1l.7 3.7l.7-1.5l.7 2.7l.7 1.1l.7-1l.7 .4l.7 .4l.7 1.4l.7 .6l.7 1.4l.7 1.4l.7-1.3l.7 .8l.7 .1l.7-2.4l.7 1.5l.7-1.5l.7 .7l.7-.3l.7 1.8l.7-1.7l.7-.1l.7 1.4l.7-.5l.7-1l.7 2.4l.7-.1l.7-1.4l.7-1.4l.7 .6l.7-.5l.7 2.2l.7-2.3l.7 1.4l.7 .5l.7-.7l.7 .1l.7 1l.7-.5l.7-2.4l.7 2.3l.7-3.1l.7 1.8l.7 1.9l.7-1.8l.7 3.4l.7 1.5l.7-2.3l.7-1.8l.7 2.8l.7-2.8l.7-.5l.7 .1l.7 .4l.7-.4l.7 2.2l.7-2.9l.7-.8l.7 .1l.7 1.2l.7 2l.7-3l.7 1.1l.7 1l.7-.6l.7 .5l.7 .4l.7 1.1l.7-.9l.7 1.9l.7-3.3l.7 2.4l.7 .1l.7-.9l.7-.3l.7 1.4l.7-2.2l.7 .4l.7-.8l.7 1.1l.7-1.2l.7 .2l.7 1.1l.7-.7l.7 .3l.7 1.5l.7-3.2l.7 1.5l.7 .5l.7 1.1l.7-2.8l.7 .5l.7 .4l.7-1.4l.7 .9l.7 .7l.7-.2l.7 1.2l.7 .3l.7-1.3l.7 1l.7-.3l.7-.7l.7-1l.7 1.7l.7-2.9l.7 1.2l.7 .8l.7-2.9l.7 2.1l.7-.8l.7 1.8l.7 1l.7-1l.7 1l.7 .9l.7-1.3l.7 .4l.7-.9l.7 1.2l.7-.9l.7 1.6l.7-.2l.7-2.3l.7 1.7l.7 .2l.7 0l.7 .1l.7-.6l.7 1.1l.7-.4l.7-.3l.7-.9l.7 1.6l.7-2.5l.7 2.1l.7-.7l.7-1.6l.7 1l.7 1.9l.7-2.1l.7-.6l.7 .6l.7 .1l.7 .9l.7-1.8l.7 1.3l.7-.5l.7 1.2l.7-.8l.7-1.6l.7 1.3l.7 .3l.7-1.4l.7-1.8l.7 1.2l.7 .9l.7 .6l.7-1.2l.7 1.3l.7-1.7l.7-1l.7 1.7l.7-.9l.7 2.2l.7 .2l.7-1l.7 0l.7 .8l.7 .8l.7-1l.7-.3l.7 1.1l.7-.4l.7-1.4l.7-.1l.7-1.7l.7 1.6l.7-.1l.7 .9l.7-1l.7 .4l.7 .1l.7-.2l.7 .1l.7-.3l.7 1.8l.7-1l.7 .9l.7 .1l.7-1.3l.7-1.1l.7 .6l.7 .5l.7 .1l.7-1.4l.7 1.9l.7-.8l.7 1.2l.7-1.5l.7-1.6l.7 3.3l.7 0l.7 1.7l.7-2.2l.7 .1l.7 1.4l.7-4.3l.7 1.2l.7-.6l.7 1.9l.7-.8l.7 .6l.7-2l.7 .9l.7 .8l.7-.3l.7-.3l.7 1l.7-1.7l.7 .3l.7 .3l.7 1.3l.7-1.4l.7 0l.7-.1l.7-.7l.7 1.3l.7-.5l.7-1.6l.7 1.2l.7 .3l.7 1.3l.7-1.7l.7 1.3l.7-1.2l.7 1l.7-2.4l.7 .1l.7 1.6l.7 .5l.7 .9l.7 .5l.7-1.9l.7 .7l.7-1.4l.7 1.8l.7-2.4l.7-.4l.7 2l.7-3.4l.7 2.6l.7-1.9l.7-1.6l.7-1l.7-1.1l.7-1.7l.7-3.7l.7-2.4l.7-4l.7-5.9l.7-4.5l.7-8.7l.7-5.2l.7-4.6l.7-4.1l.7-.6l.7 0l.7-.1l.7 4.9l.7 1.2l.7 5.2l.7 3l.7 5.2l.7 .7l.7 6.5l.7 2.1l.7 3.7l.7 1.3l.7 .2l.7-1.9l.7-1.2l.7-2.9l.7-1.5l.7-1.8l.7-1.1l.7 .3l.7-1.7l.7 2.2l.7 2.2l.7 1.3l.7 .5l.7 3.1l.7 1.7l.7 1.4l.7 3.4l.7 1.5l.7 2.3l.7 2.4l.7 1.5l.7 1.9l.7 .9l.7 .4l.7 .3l.7 0l.7-1.6l.7 .6l.7-.4l.7-2l.7 .6l.7-1.6l.7-1.4l.7-.1l.7-4l.7 1.5l.7-1.1l.7 1.8l.7-.9l.7 4.2l.7 1.5l.7-1.1l.7 3.2l.7-1.5l.7 1l.7-.5l.7 2l.7-.3l.7 .7l.7 .7l.7-.6l.7 1.8l.7-.8l.7 1.4l.7-1.7l.7 .3l.7 .1l.7 1l.7 .8l.7-.8l.7-.5l.7 1l.7-.5l.7 .8l.7-1.2l.7 .2l.7-.6l.7-.4l.7-1.5l.7 1.8l.7-1.3l.7-.7l.7 1.3l.7 .6l.7 0l.7 .8l.7-1.1l.7 .7l.7 .7l.7-1.5l.7 .4l.7 2.1l.7-.9l.7 .5l.7-1l.7 .1l.7 0l.7-.6l.7 1.7l.7-2.3l.7 .2l.7-.6l.7 2.7l.7-2.4l.7 2.2l.7-1.9l.7 3.4l.7 .5l.7-2.5l.7 1.4l.7-2.7l.7 .8l.7 1.8l.7-.8l.7-.2l.7 .6l.7-.7l.7-.3l.7 1.1l.7-3l.7 1l.7 .5l.7 1.1l.7-.5l.7-.2l.7-1.6l.7 4.8l.7-3.6l.7 1l.7-2l.7 1.9l.7-2.2l.7 .8l.7 .7l.7-1.2l.7 1.8l.7-.7l.7 1l.7-.1l.7-1.1l.7-.7l.7 .7l.7 1.2l.7-2.7l.7 2.4l.7-2.7l.7 1.9l.7-.1l.7-1.1l.7-.4l.7 1.5l.7 .6l.7-1.8l.7 1.3l.7-.6l.7-1.8l.7-.8l.7 1.5l.7-.4l.7-1.2l.7 .3l.7 2.5l.7-1.7l.7-.4l.7-1.5l.7 .6l.7 .9l.7-2.1l.7 .4l.7 .3l.7 .1l.7 1l.7-1.3l.7 .6l.7-.1l.7 .1l.7 .3l.7-1l.7 .4l.7-.2l.7 2l.7 .5l.7 .1l.7 1l.7-1.6l.7 1.3l.7-.9l.7 .7l.7-1.5l.7 .7l.7-.6l.7-.3l.7-.9l.7 3.1l.7-.6l.7 2.2l.7-2.9l.7 0l.7-1.5l.7 2.1l.7-1.4l.7 3.1l.7 .7l.7-3.9l.7 1l.7-.9l.7 0l.7-.8l.7 1.3l.7 .7l.7-1.4l.7 .6l.7-1.4l.7 .1l.7 .3l.7-2.1l.7 2.8l.7-1.9l.7 .5l.7 2.1l.7-1.3l.7 .1l.7 1.8l.7-1.3l.7-.5l.7-.3l.7 0l.7 1.5l.7 .1l.7 0l.7 2.7l.7-1.6l.7-2.3l.7 .9l.7-1.5l.7-.3l.7 2l.7-.8l.7-1.4l.7 .1l.7-3.2l.7 .9l.7-1.4l.7-3.3l.7-3l.7-.3l.7-3l.7-3.2l.7-2.5l.7-2l.7-.5l.7 .3l.7-1.3l.7 2.7l.7-.4l.7 1l.7 1.7l.7 2.2l.7 1.3l.7 1l.7 .5l.7 3.1l.7-.3l.7 .9l.7-.4l.7 2.6l.7-2.4l.7-1.6l.7 .5l.7-3.3l.7-2.9l.7-5l.7-8.6l.7-5.7l.7-5.3l.7-9.6l.7-7.2l.7-5.3l.7-3.7l.7-3.1l.7 .5l.7 .3l.7 .1l.7 0l.7 .4l.7-1l.7-1.8l.7-.2l.7 2.4l.7 2.5l.7 5.3l.7 3.2l.7 4.9l.7 4.3l.7 4.9l.7 4.4l.7 4.7l.7 2.3l.7 4.8l.7 4.1l.7 1.2l.7 5.5l.7 2.2l.7 3.4l.7 2.9l.7 2.1l.7 1.2l.7 2.3l.7 1.3l.7-.1l.7-.3l.7 1l.7 2.4l.7-.6l.7-.9l.7-.5l.7 1.2l.7-.1l.7 2l.7-3.4l.7 2.1l.7 .8l.7 .3l.7-2.3l.7 1.8l.7-.3l.7 .2l.7 .3l.7-.8l.7 1.4l.7-.9l.7-.4l.7 .8l.7 .5l.7 1.1l.7-1.9l.7 1.9l.7-1.9l.7 .4l.7-.9l.7 1.1l.7-.1l.7 .9l.7-1l.7 .8l.7-1.2l.7 .9l.7 1.6l.7-3l.7 .6l.7 .5l.7-.4l.7-1l.7-.3l.7-.7l.7 2.5l.7-2.6l.7 1.5l.7-.4l.7 .8l.7-.6l.7 1.1l.7 .8l.7-1.4l.7 .6l.7 .2l.7-.4l.7 2l.7-2.6l.7 .4l.7 1.3l.7-.8l.7-.4l.7 1.3l.7-3l.7 2.6l.7 1.2l.7-2.2l.7 3.9l.7-2.6l.7-.4l.7-.2l.7-.6l.7 2l.7-3.3l.7 .2l.7 1.3l.7-.1l.7-1.7l.7 2.3l.7-2l.7 .8l.7 .1l.7 .6l.7-.4l.7 .5l.7 .4l.7 .1l.7-1.7l.7 .2l.7 1.8l.7-.5l.7 .4l.7-1.4l.7-1.9l.7 3.7l.7 1.6l.7-4.5l.7 2l.7-.1l.7-1.9l.7 3.7l.7-.6l.7-.9l.7 1.1l.7-1.1l.7 .8l.7 .6l.7-2.1l.7 .7l.7 1.2l.7-2.8l.7 1.5l.7-.8l.7 1.8l.7-1.8l.7 1.1l.7-1.1l.7 .6l.7-.6l.7-1.5l.7 .6l.7 2.8l.7 0l.7-1.7l.7 .4l.7-1.4l.7-.1l.7-.8l.7 1.1l.7 1.9l.7-2.8l.7 2.1l.7-.2l.7 .1l.7-2.1l.7 .5l.7 2.1l.7-2.6l.7 1.9l.7 .2l.7 .5l.7 1.1l.7-1.3l.7 1.5l.7-.2l.7-2.6l.7 1.5l.7-.6l.7 .2l.7-.9l.7 .6l.7 1.4l.7-1l.7-1.3l.7 1.1l.7 .4l.7-2.2l.7 .8l.7-.2l.7 1.2l.7-1l.7 .3l.7 .9l.7 .4l.7-.9l.7 2.2l.7-1.6l.7 .2l.7-1.1l.7-.2l.7-.8l.7-1l.7 3.4l.7-1.2l.7-.9l.7 .7l.7 1l.7-.8l.7 .8l.7-2.6l.7 1.5l.7-.2l.7 1.5l.7-.9l.7 0l.7 .5l.7-.7l.7-2.2l.7 2.7l.7-.7l.7-.8l.7 .5l.7 1.1l.7-.9l.7-1l.7 .6l.7-1.2l.7 1.4l.7-.4l.7 .2l.7-2.4l.7-.2l.7 3.6l.7-3.2l.7 0l.7 .9l.7-.5l.7 .8l.7-2l.7 1.5l.7-.4l.7-2.1l.7 0l.7 2.3l.7-1.3l.7 .4l.7 1.4l.7-.6l.7-1.9l.7 1.7l.7 .2l.7 .3l.7 1.9l.7-.2l.7-.5l.7 3.8l.7-2.1l.7-.9l.7 1.1l.7-.8l.7 0l.7 .3l.7-1.4l.7 1.7l.7-1.1l.7-.9l.7 0l.7 .3l.7 .1l.7-.6l.7 1.5l.7-2.2l.7 1.9l.7 .1l.7-.1l.7 .7l.7-1.4l.7 1.8l.7-2.4l.7 .9l.7-.6l.7 1.6l.7-3l.7 3.1l.7-.6l.7-.3l.7-.7l.7 1l.7 2.3l.7-4.6l.7 1.2l.7 .7l.7-.3l.7-.1l.7-.6l.7 .7l.7-.7l.7 2.1l.7-1.8l.7-.2l.7 1.1l.7-1l.7 1.3l.7-1.1l.7 .2l.7 .8l.7 .3l.7 .1l.7 .7l.7-.3l.7-.6l.7 .4l.7-.5l.7 .1l.7-1.2l.7-.2l.7 .4l.7 1.7l.7-.2l.7-1.2l.7-.9l.7 1.6l.7 1l.7 .7l.7-.9l.7-1.6l.7 .1l.7 .3l.7 1.5l.7-1.8l.7 .7l.7-2.1l.7 2.1l.7-.2l.7-.9l.7 .7l.7-.1l.7 .7l.7-.6l.7-.2l.7 .7l.7-.3l.7 1.1l.7-.7l.7-.4l.7-.1l.7 .4l.7 .5l.7 .1l.7-1l.7 .4l.7 0l.7 .5l.7 .1l.7-1.3l.7 1l.7 .5l.7-.7l.7 1.8l.7-2.8l.7 1.9l.7-.5l.7-.5l.7-.8l.7-.5l.7 .7l.7-1.3l.7 .5l.7-1l.7 3l.7-1.8l.7-.9l.7-.4l.7-.7l.7 1.5l.7 1.6l.7-1.5l.7 0l.7 1.7l.7-.8l.7 .9l.7 0l.7 .9l.7-.7l.7-1l.7-.1l.7 1.2l.7-.6l.7-.3l.7 .9l.7-2.3l.7 1.4l.7-2.4l.7 2.1l.7-.7l.7 .5l.7-.3l.7 2.3l.7-1.6l.7 .9l.7-1.5l.7 .7l.7-.3l.7-.2l.7 .8l.7 1l.7 1l.7-1.4l.7-1.2l.7 2.3l.7-1.6l.7 .8l.7-2l.7 .8l.7 .1l.7-.5l.7 .7l.7-1.9l.7 1.8l.7-2.6l.7 2.7l.7-.3l.7-.3l.7-1.8l.7 2.1l.7-1.1l.7 0l.7 .6l.7 1.6l.7-1.9l.7-1.3l.7 .5l.7 1.6l.7-1l.7 .5l.7 2.1l.7-1.9l.7 0l.7-.8l.7 .3l.7 .7l.7 1.5l.7 1.3l.7-2.6l.7 .4l.7 .1l.7-1.9l.7 .9l.7-.7l.7 .9l.7-1.3l.7-.3l.7-1.4l.7 2l.7 .4l.7 .5l.7-.9l.7 1.5l.7-3.2l.7 .6l.7-1l.7 1.6l.7 .3l.7-2l.7-.2l.7-1.4l.7-3.2l.7-.5l.7-.7l.7-1l.7-1.5l.7-.1l.7 3.2l.7-.1l.7-1.1l.7 .9l.7-1.8l.7 1.7l.7 .7l.7 1.6l.7 1.2l.7 1.4l.7-1.7l.7 1.1l.7-.7l.7 1.6l.7-.9l.7 2.7l.7-.6l.7-.7l.7-.5l.7 .7l.7-.4l.7-1.1l.7-.3l.7 .5l.7-2.5l.7-2.7l.7 .1l.7-1l.7-3.4l.7-3.2l.7-1.1l.7-.2l.7-.8l.7-.9l.7-.2l.7 .6l.7 .4l.7-.6l.7-.5l.7 2.9l.7 1.2l.7 1.9l.7-.9l.7 1.5l.7 .6l.7 1.5l.7 3l.7 2.5l.7-1.4l.7 1.3l.7 1.2l.7-1.1l.7 1.6l.7 1.6l.7-1.9l.7 3.3l.7 1.2l.7 .2l.7-.1l.7-1.6l.7 1.5l.7-2.8l.7 1.4l.7 1.8l.7-.2l.7-.1l.7-.4l.7 .1l.7-1.3l.7 2.7l.7-1.1l.7-.2l.7 .7l.7-.7l.7 .4l.7-1.6l.7-.1l.7-1l.7 .8l.7 .9l.7 .2l.7 2.4l.7-1.6l.7-.9l.7 .7l.7 .2l.7-.9l.7-1.7l.7 .4l.7 1.5l.7-2.2l.7 .8l.7-.4l.7 1l.7-.4l.7 .7l.7 .8l.7-2l.7 3.9l.7-1.9l.7-.6l.7 1.8l.7-.3l.7-.1l.7-.2l.7-.5l.7-.8l.7 0l.7 .4l.7-.1l.7 .7l.7-.4l.7 .9l.7 0l.7-1.3l.7-.5l.7 1.9l.7-1.2l.7 .8l.7-.4l.7-.9l.7-.1l.7 .9l.7-.9l.7-.1l.7 0l.7 1.8l.7-.7l.7 .3l.7-.4l.7-1.6l.7 2.7l.7 1.8l.7-1.6l.7 .7l.7-2.4l.7 1.5l.7-.1l.7 .4l.7-1.2l.7 .7l.7-1.9l.7 .7l.7 .4l.7 .6l.7-.1l.7-1.9l.7 1.7l.7 1.4l.7-1.6l.7 1l.7-.5l.7-.4l.7-1l.7-1.5l.7 .5l.7 1.5l.7 .7l.7-1.3l.7 1.4l.7-2.9l.7 1.9l.7 1.1l.7 .1l.7-.7l.7-.7l.7 0l.7 .1l.7 .7l.7-1.6l.7-.5l.7 1l.7 1.6l.7-2.6l.7-1l.7 1.1l.7 .4l.7-.3l.7 1.3l.7 .1l.7 .2l.7 1.1l.7-.2l.7-.5l.7-.3l.7-.5l.7 .6l.7 .1l.7-.8l.7 .5l.7-1.3l.7 1.1l.7-.7l.7 0l.7-.3l.7-1.2l.7 .6l.7-1.3l.7 1.8l.7-.8l.7 .3l.7 .1l.7 .5l.7-3.4l.7 .8l.7-.9l.7-.5l.7-.4l.7-2.8l.7 .5l.7-1.7l.7-3.8l.7-.4l.7 .7l.7 .6l.7 1l.7 1.4l.7 .8l.7 .3l.7-1.9l.7 2.4l.7 0l.7 .5l.7 1.1l.7-.5l.7 1.9l.7-.3l.7-.7l.7 1.4l.7-.2l.7 .8l.7 2l.7-.6l.7 1.3l.7-.2l.7-1.9l.7 3.8l.7-1.4l.7-.4l.7-2.8l.7 2.7l.7-2.9l.7 1.9l.7-3l.7-.2l.7-1.5l.7-1l.7-.3l.7 1l.7-3.4l.7-.3l.7 1l.7-2.6l.7 .4l.7 0l.7 .1l.7 1.7l.7 .1l.7-.6l.7 .3l.7-.9l.7 .3l.7 1.1l.7 1.2l.7 1.3l.7 .4l.7-2.3l.7 2.7l.7 1.4l.7-.8l.7 2.1l.7-1.7l.7 1.4l.7 .2l.7 1.6l.7 .3l.7-1.9l.7 1.7l.7 .7l.7-.3l.7 0l.7-.6l.7 1.4l.7 0l.7 2.2l.7-1.8l.7 .3l.7-1.9l.7 2.9l.7-1.7l.7 2.4l.7-2.1l.7 1.3l.7 .1l.7-.1l.7-1.2l.7 .8l.7 0l.7-.7l.7-.8l.7 .3l.7 .5l.7 1.2l.7-1.2l.7 1l.7 .1l.7-.7l.7 .8l.7-.8l.7-.6l.7 .2l.7 0l.7-1.2l.7 2.8l.7-2.6l.7 2.6l.7 .6l.7 .5l.7-1l.7 .3l.7-.8l.7-2.1l.7 3.3l.7-1.6l.7-2.6l.7 1.5l.7 1.6l.7-1.8l.7 .6l.7-1.7l.7 1.8l.7 1.4l.7 .3l.7 .8l.7-2l.7 1l.7-1.5l.7 1.2l.7 .5l.7-1.6l.7-.2l.7-1.3l.7 1.8l.7 .2l.7-1.8l.7 2.3l.7-1.2l.7-1.1l.7 1.7l.7-1.2l.7 2.1l.7-2.4l.7 .8l.7 .4l.7-2l.7 3.4l.7-1.5l.7-.5l.7 .5l.7-.3l.7-.5l.7-.6l.7 1.5l.7-.1l.7 .6l.7-.3l.7-1.8l.7 2l.7-.7l.7-1.3l.7 1.2l.7 1.3l.7-2.4l.7 .4l.7 1.6l.7-2.5l.7 3l.7-.1l.7-2.4l.7 2.1l.7-1.4l.7-1.3l.7 3.4l.7-3.7l.7-.4l.7 1.7l.7 .9l.7-1.3l.7 1.1l.7 1.4l.7-.9l.7 .6l.7-2.4l.7 1.3l.7 1.1l.7-1.8l.7 .6l.7 .1l.7 2.5l.7-2.4l.7-.3l.7 .4l.7-2.1l.7-.1l.7 1l.7 2.7l.7-.4l.7 .4l.7 .1l.7-.8l.7-.6l.7 1.1l.7-.5l.7-.3l.7-.4l.7 .1l.7 1.1l.7-1l.7-.9l.7 2l.7-3.2l.7 2.6l.7-2.2l.7 2.6l.7-.2l.7-1.8l.7 1l.7 .5l.7-2.5l.7-.6l.7 2.9l.7-2.1l.7 .7l.7 1.6l.7-1.9l.7 1.3l.7 .8l.7-2.2l.7 1l.7-.2l.7-.2l.7-.5l.7 .5l.7-.8l.7 .4l.7-2.1l.7 1.6l.7-2l.7 1.6l.7-.1l.7-2.2l.7 1.1l.7-.8l.7-.6l.7-.3l.7-1.6l.7-2.3l.7-.5l.7-.5l.7-.1l.7-3l.7 1l.7 .3l.7-2.5l.7 .7l.7 2.6l.7-.2l.7-1.8l.7 4l.7-.9l.7-1.5l.7 1.5l.7 1.4l.7 .1l.7 .9l.7-.9l.7-.2l.7-.7l.7-.3l.7 .2l.7-1.3l.7 .9l.7-1.4l.7-2.7l.7 1.5l.7-.9l.7 .6l.7-2.7l.7-1.4l.7-1.1l.7 1.2l.7 1.5l.7 1l.7-1.1l.7 .3l.7 2.4l.7-1.4l.7 .8l.7 2.5l.7 .8l.7 .8l.7 .9l.7-1.7l.7 2.5l.7 .4l.7 1.1l.7-.8l.7 1.6l.7 .5l.7-1.6l.7 .5l.7 3.3l.7 .2l.7 .5l.7 0l.7-.5l.7 1l.7-.9l.7 .7l.7-.1l.7-.7l.7 .7l.7 1.5l.7 .9l.7-1.7l.7 .3l.7-1l.7-1.1l.7 1.3l.7 .3l.7-.4l.7-.2l.7 .8l.7 .1l.7 .5l.7-.1l.7-.1l.7 0l.7-.4l.7-.9l.7 1.9l.7-1.2l.7 1.4l.7-.5l.7-.1l.7-.8l.7-.9l.7 3.1l.7-2.8l.7 1.1l.7 .3l.7 0l.7-.1l.7-.4l.7 1.2l.7-.4l.7-.6l.7-.1l.7-1.1l.7 .6l.7-1.1l.7 1.7l.7 .2l.7-.7l.7-1.1l.7 0l.7 1.3l.7 1.3l.7-1.8l.7 .7l.7 1.2l.7-2l.7 2l.7 .4l.7-1.7l.7-.9l.7-.4l.7 1.7l.7-.8l.7 1.7l.7 .2l.7-.3l.7-.5l.7-.2l.7 0l.7 1.1l.7-3l.7 1.8l.7-1.6l.7 1l.7-1.8l.7 2.9l.7-1.8l.7 .8l.7-1l.7 1.2l.7-.5l.7 .7l.7 1.5l.7-1.4l.7-2.2l.7-1.1l.7 2.3l.7-1.2l.7 2l.7-1l.7 .7l.7 .9l.7-.6l.7-1.4l.7-.7l.7 2l.7-1.1l.7 .7l.7-.1l.7 1.4l.7-.8l.7-.2l.7 1.2l.7-1.3l.7 .5l.7-.2l.7-1.6l.7 1.5l.7-.3l.7 .7l.7-1.4l.7 .3l.7-.1l.7 .8l.7-2.5l.7 1.2l.7 1.1l.7 .9l.7 .8l.7 .3l.7-2.1l.7 1.1l.7 1.4l.7-3.6l.7 2.6l.7-1.7l.7 0l.7 .3l.7 .4l.7-1.3l.7 1.2l.7-.6l.7 0l.7 1.6l.7 .4l.7-1.1l.7-2.4l.7 3.1l.7-3.5l.7 .6l.7 1l.7 0l.7 2.1l.7-.4l.7-.8l.7-.7l.7-2.6l.7 0l.7 1.5l.7-.1l.7-1.3l.7-1.3"/>
</g>
<g fill="#000">
<rect x="201" y="25" width="2119" height="9"/>
<rect x="2312" y="25" width="8" height="2350"/>
</g>
</g>
<g id="sizegap">
<g fill="#000" shape-rendering="crispEdges">
<rect x="310.2" y="2812.0" width="8.2" height="1434.8"/>
<rect x="288.1" y="2812.0" width="1778.2" height="8.2"/>
<rect x="302" y="4227.5" width="1768.4" height="8.2"/>
<rect x="288.1" y="2812.0" width="26.2" height="8.2"/>
<rect x="302.2" y="2940.7" width="12.1" height="8.2"/>
<rect x="288.1" y="3069.4" width="26.2" height="8.2"/>
<rect x="302.2" y="3198.0" width="12.1" height="8.2"/>
<rect x="288.1" y="3326.7" width="26.2" height="8.2"/>
<rect x="302.2" y="3455.4" width="12.1" height="8.2"/>
<rect x="288.1" y="3584.1" width="26.2" height="8.2"/>
<rect x="302.2" y="3712.8" width="12.1" height="8.2"/>
<rect x="288.1" y="3841.5" width="26.2" height="8.2"/>
<rect x="302.2" y="3970.1" width="12.1" height="8.2"/>
<rect x="288.1" y="4098.8" width="26.2" height="8.2"/>
<rect x="302.2" y="4227.5" width="12.1" height="8.2"/>
<rect x="485.8" y="4231.6" width="8.2" height="28.7"/>
<rect x="836.9" y="4231.6" width="8.2" height="28.7"/>
<rect x="1188.1" y="4231.6" width="8.2" height="28.7"/>
<rect x="1539.3" y="4231.6" width="8.2" height="28.7"/>
<rect x="1890.5" y="4231.6" width="8.2" height="28.7"/>
<rect x="661.4" y="4231.6" width="8.2" height="14.9"/>
<rect x="1012.5" y="4231.6" width="8.2" height="14.9"/>
<rect x="1363.7" y="4231.6" width="8.2" height="14.9"/>
<rect x="1714.9" y="4231.6" width="8.2" height="14.9"/>
<rect x="2066.3" y="4231.6" width="8.2" height="14.9"/>
</g>
<g fill="#f14040" shape-rendering="crispEdges">
<rect x="2066.3" y="2812.0" width="8.2" height="1423.7"/>
<rect x="2070.4" y="2812.0" width="29.3" height="8.2"/>
<rect x="2070.4" y="2953.5" width="15.6" height="8.2"/>
<rect x="2070.4" y="3095.1" width="29.3" height="8.2"/>
<rect x="2070.4" y="3236.7" width="15.6" height="8.2"/>
<rect x="2070.4" y="3378.2" width="29.3" height="8.2"/>
<rect x="2070.4" y="3519.8" width="15.6" height="8.2"/>
<rect x="2070.4" y="3661.3" width="29.3" height="8.2"/>
<rect x="2070.4" y="3802.9" width="15.6" height="8.2"/>
<rect x="2070.4" y="3944.4" width="29.3" height="8.2"/>
<rect x="2070.4" y="4086.0" width="15.6" height="8.2"/>
<rect x="2070.4" y="4227.5" width="29.3" height="8.2"/>
</g>
<line x1="499.7" y1="2983.6" x2="831.2" y2="3554.0" stroke="#000" stroke-width="7.6"/>
<line x1="860.0" y1="3575.2" x2="1173.2" y2="3647.0" stroke="#000" stroke-width="8.5"/>
<line x1="1206.0" y1="3665.2" x2="1529.6" y2="3989.6" stroke="#000" stroke-width="6.3"/>
<line x1="1560.7" y1="4012.5" x2="1877.3" y2="4179.3" stroke="#000" stroke-width="7.8"/>
<rect x="476.4" y="2953.2" width="27" height="27" fill="#000"/>
<rect x="827.5" y="3557.3" width="27" height="27" fill="#000"/>
<rect x="1178.7" y="3637.9" width="27" height="27" fill="#000"/>
<rect x="1529.9" y="3989.9" width="27" height="27" fill="#000"/>
<rect x="1881.1" y="4174.9" width="27" height="27" fill="#000"/>
<line x1="509.2" y1="3271.4" x2="821.7" y2="3321.8" stroke="#f14040" stroke-width="8.6"/>
<line x1="860.0" y1="3329.5" x2="1173.2" y2="3405.2" stroke="#f14040" stroke-width="8.5"/>
<line x1="1209.8" y1="3418.3" x2="1525.8" y2="3571.2" stroke="#f14040" stroke-width="7.9"/>
<line x1="1558.0" y1="3592.6" x2="1880.0" y2="3878.1" stroke="#f14040" stroke-width="6.6"/>
<rect x="476.4" y="3254.8" width="27" height="27" fill="#f14040"/>
<rect x="827.5" y="3311.4" width="27" height="27" fill="#f14040"/>
<rect x="1178.7" y="3396.3" width="27" height="27" fill="#f14040"/>
<rect x="1529.9" y="3566.2" width="27" height="27" fill="#f14040"/>
<rect x="1881.1" y="3877.6" width="27" height="27" fill="#f14040"/>
</g>
<g id="labels">
<text transform="matrix(0 -0.9891 1.0162 0 322.99 296.17)" font-size="55" font-weight="bold" fill="#000"  xml:space="preserve">(012)</text>
<text transform="matrix(0 -0.9891 1.0162 0 626.59 270.97)" font-size="55" font-weight="bold" fill="#000"  xml:space="preserve">(104)</text>
<text transform="matrix(0 -1.0157 1.0162 0 679.19 253.84)" font-size="55" font-weight="bold" fill="#000"  xml:space="preserve">(110)</text>
<text transform="matrix(0 -0.9891 1.0162 0 877.69 378.67)" font-size="55" font-weight="bold" fill="#000"  xml:space="preserve">(006)</text>
<text transform="matrix(0 -0.9891 1.0162 0 932.69 323.67)" font-size="55" font-weight="bold" fill="#000"  xml:space="preserve">(202)</text>
<text transform="matrix(0 -0.9891 1.0162 0 1134.09 337.47)" font-size="55" font-weight="bold" fill="#000"  xml:space="preserve">(024)</text>
<text transform="matrix(0 -1.0157 1.0162 0 1324.89 368.64)" font-size="55" font-weight="bold" fill="#000"  xml:space="preserve">(116)</text>
<text transform="matrix(0 -0.9891 1.0162 0 1371.69 386.27)" font-size="55" font-weight="bold" fill="#000"  xml:space="preserve">(122)</text>
<text transform="matrix(0 -0.9891 1.0162 0 1485.69 376.97)" font-size="55" font-weight="bold" fill="#000"  xml:space="preserve">(018)</text>
<text transform="matrix(0 -0.9891 1.0162 0 1542.89 334.77)" font-size="55" font-weight="bold" fill="#000"  xml:space="preserve">(214)</text>
<text transform="matrix(0 -0.9891 1.0162 0 1841.89 403.47)" font-size="55" font-weight="bold" fill="#000"  xml:space="preserve">(208)</text>
<text transform="matrix(0 -0.9891 1.0162 0 1891.89 375.97)" font-size="55" font-weight="bold" fill="#000"  xml:space="preserve">(220)</text>
<text transform="matrix(0 -0.9743 1.0162 0 2003.89 393.89)" font-size="55" font-weight="bold" fill="#000"  xml:space="preserve">(10 10)</text>
<text transform="matrix(0 -0.9891 1.0162 0 2051.09 373.77)" font-size="55" font-weight="bold" fill="#000"  xml:space="preserve">(036)</text>
<text transform="matrix(0 -0.9891 1.0162 0 2164.39 394.17)" font-size="55" font-weight="bold" fill="#000"  xml:space="preserve">(218)</text>
<text transform="matrix(0 -0.9891 1.0162 0 2213.59 400.07)" font-size="55" font-weight="bold" fill="#000"  xml:space="preserve">(134)</text>
<text transform="matrix(0.8657 0 0 0.9917 470.19 326.31)" font-size="80" font-weight="bold" fill="#ff8000"  xml:space="preserve">*</text>
<text transform="matrix(0.9832 0 0 0.9846 1809.72 98.56)" font-size="69" font-weight="bold" fill="#ff00ff"  xml:space="preserve">BiFeO</text>
<text transform="matrix(0.9714 0 0 0.9828 1997.07 119.26)" font-size="69" font-weight="bold" fill="#ff00ff"  xml:space="preserve">3</text>
<text transform="matrix(1.1056 0 0 1.1833 2046.24 100.58)" font-size="69" font-weight="bold" fill="#ff00ff"  xml:space="preserve">-</text>
<text transform="matrix(0.9667 0 0 0.9957 2082.78 97.40)" font-size="69" font-weight="bold" fill="#ff00ff"  xml:space="preserve">10%</text>
<text transform="matrix(0.9360 0 0 1.0237 2227.86 98.33)" font-size="69" font-weight="bold" fill="#ff00ff"  xml:space="preserve">Cr</text>
<text transform="matrix(0.9869 0 0 0.9846 1847.21 536.76)" font-size="69" font-weight="bold" fill="#00ff00"  xml:space="preserve">BiFeO</text>
<text transform="matrix(0.9580 0 0 0.9828 2035.31 557.46)" font-size="69" font-weight="bold" fill="#00ff00"  xml:space="preserve">3</text>
<text transform="matrix(1.0389 0 0 1.1833 2083.90 538.78)" font-size="69" font-weight="bold" fill="#00ff00"  xml:space="preserve">-</text>
<text transform="matrix(0.9294 0 0 0.9957 2122.94 535.60)" font-size="69" font-weight="bold" fill="#00ff00"  xml:space="preserve">5%</text>
<text transform="matrix(0.9386 0 0 1.0237 2231.85 536.53)" font-size="69" font-weight="bold" fill="#00ff00"  xml:space="preserve">Cr</text>
<text transform="matrix(0.9848 0 0 0.9846 1838.82 900.96)" font-size="69" font-weight="bold" fill="#0000ff"  xml:space="preserve">BiFeO</text>
<text transform="matrix(0.9479 0 0 0.9828 2026.83 921.66)" font-size="69" font-weight="bold" fill="#0000ff"  xml:space="preserve">3</text>
<text transform="matrix(1.1278 0 0 1.1833 2074.78 902.98)" font-size="69" font-weight="bold" fill="#0000ff"  xml:space="preserve">-</text>
<text transform="matrix(0.9090 0 0 0.9957 2117.33 899.80)" font-size="69" font-weight="bold" fill="#0000ff"  xml:space="preserve">3%</text>
<text transform="matrix(0.9320 0 0 1.0237 2223.47 900.73)" font-size="69" font-weight="bold" fill="#0000ff"  xml:space="preserve">Cr</text>
<text transform="matrix(0.9848 0 0 0.9846 1838.82 1316.06)" font-size="69" font-weight="bold" fill="#ff0000"  xml:space="preserve">BiFeO</text>
<text transform="matrix(0.9479 0 0 0.9828 2026.83 1336.76)" font-size="69" font-weight="bold" fill="#ff0000"  xml:space="preserve">3</text>
<text transform="matrix(1.1278 0 0 1.1833 2074.78 1318.08)" font-size="69" font-weight="bold" fill="#ff0000"  xml:space="preserve">-</text>
<text transform="matrix(0.9180 0 0 0.9957 2116.45 1314.90)" font-size="69" font-weight="bold" fill="#ff0000"  xml:space="preserve">1%</text>
<text transform="matrix(0.9320 0 0 1.0237 2223.47 1315.83)" font-size="69" font-weight="bold" fill="#ff0000"  xml:space="preserve">Cr</text>
<text transform="matrix(0.9874 0 0 0.9846 2073.31 1607.06)" font-size="69" font-weight="bold" fill="#000"  xml:space="preserve">BiFeO</text>
<text transform="matrix(0.9714 0 0 0.9828 2260.87 1627.76)" font-size="69" font-weight="bold" fill="#000"  xml:space="preserve">3</text>
<text transform="matrix(0 -1.0343 1.0390 0 92.60 1469.90)" font-size="90" font-weight="bold" fill="#000"  xml:space="preserve">Intensity</text>
<text transform="matrix(0 -0.9833 1.0390 0 92.60 1093.03)" font-size="90" font-weight="bold" fill="#000"  xml:space="preserve">(a.u.)</text>
<text transform="matrix(1.0600 0 0 1.0400 204.80 2451.60)" text-anchor="middle" font-size="78" font-weight="bold" fill="#000"  xml:space="preserve">20</text>
<text transform="matrix(1.0600 0 0 1.0400 556.63 2451.60)" text-anchor="middle" font-size="78" font-weight="bold" fill="#000"  xml:space="preserve">30</text>
<text transform="matrix(1.0600 0 0 1.0400 908.47 2451.60)" text-anchor="middle" font-size="78" font-weight="bold" fill="#000"  xml:space="preserve">40</text>
<text transform="matrix(1.0600 0 0 1.0400 1260.30 2451.60)" text-anchor="middle" font-size="78" font-weight="bold" fill="#000"  xml:space="preserve">50</text>
<text transform="matrix(1.0600 0 0 1.0400 1612.13 2451.60)" text-anchor="middle" font-size="78" font-weight="bold" fill="#000"  xml:space="preserve">60</text>
<text transform="matrix(1.0600 0 0 1.0400 1963.97 2451.60)" text-anchor="middle" font-size="78" font-weight="bold" fill="#000"  xml:space="preserve">70</text>
<text transform="matrix(1.0600 0 0 1.0400 2315.80 2451.60)" text-anchor="middle" font-size="78" font-weight="bold" fill="#000"  xml:space="preserve">80</text>
<text transform="matrix(1.0618 0 0 1.0180 1039.22 2564.60)" font-size="88" font-weight="bold" fill="#000"  xml:space="preserve">2θ</text>
<text transform="matrix(1.0647 0 0 1.0180 1155.21 2564.60)" font-size="88" font-weight="bold" fill="#000"  xml:space="preserve">(degree)</text>
<text transform="matrix(0.9801 0 0 0.9981 1151.72 2687.79)" font-size="86" font-weight="normal" fill="#000"  xml:space="preserve">(<tspan font-weight="bold">a</tspan>)</text>
<text transform="matrix(1.0582 0 0 1.0025 172.04 2827.00)" font-size="60" font-weight="normal" fill="#000" stroke="#000" stroke-width="1.4" xml:space="preserve">180</text>
<text transform="matrix(1.0582 0 0 1.0025 172.04 3084.36)" font-size="60" font-weight="normal" fill="#000" stroke="#000" stroke-width="1.4" xml:space="preserve">160</text>
<text transform="matrix(1.0582 0 0 1.0025 172.04 3341.73)" font-size="60" font-weight="normal" fill="#000" stroke="#000" stroke-width="1.4" xml:space="preserve">140</text>
<text transform="matrix(1.0582 0 0 1.0025 172.04 3599.09)" font-size="60" font-weight="normal" fill="#000" stroke="#000" stroke-width="1.4" xml:space="preserve">120</text>
<text transform="matrix(1.0582 0 0 1.0025 172.04 3856.45)" font-size="60" font-weight="normal" fill="#000" stroke="#000" stroke-width="1.4" xml:space="preserve">100</text>
<text transform="matrix(1.0559 0 0 1.0025 203.92 4113.82)" font-size="60" font-weight="normal" fill="#000" stroke="#000" stroke-width="1.4" xml:space="preserve">80</text>
<text transform="matrix(1.0300 0 0 1.0230 2112.80 2831.00)" text-anchor="start" font-size="73" font-weight="normal" fill="#f14040" stroke="#f14040" stroke-width="1.7" xml:space="preserve">2.3</text>
<text transform="matrix(1.0300 0 0 1.0230 2112.80 3114.10)" text-anchor="start" font-size="73" font-weight="normal" fill="#f14040" stroke="#f14040" stroke-width="1.7" xml:space="preserve">2.2</text>
<text transform="matrix(1.0300 0 0 1.0230 2112.80 3397.20)" text-anchor="start" font-size="73" font-weight="normal" fill="#f14040" stroke="#f14040" stroke-width="1.7" xml:space="preserve">2.1</text>
<text transform="matrix(1.0300 0 0 1.0230 2112.80 3680.30)" text-anchor="start" font-size="73" font-weight="normal" fill="#f14040" stroke="#f14040" stroke-width="1.7" xml:space="preserve">2.0</text>
<text transform="matrix(1.0300 0 0 1.0230 2112.80 3963.40)" text-anchor="start" font-size="73" font-weight="normal" fill="#f14040" stroke="#f14040" stroke-width="1.7" xml:space="preserve">1.9</text>
<text transform="matrix(1.0300 0 0 1.0230 2112.80 4246.50)" text-anchor="start" font-size="73" font-weight="normal" fill="#f14040" stroke="#f14040" stroke-width="1.7" xml:space="preserve">1.8</text>
<text transform="matrix(1.0800 0 0 1.0200 489.90 4328.60)" text-anchor="middle" font-size="73" font-weight="normal" fill="#000" stroke="#000" stroke-width="1.7" xml:space="preserve">0</text>
<text transform="matrix(1.0800 0 0 1.0200 841.00 4328.60)" text-anchor="middle" font-size="73" font-weight="normal" fill="#000" stroke="#000" stroke-width="1.7" xml:space="preserve">1</text>
<text transform="matrix(1.0800 0 0 1.0200 1192.20 4328.60)" text-anchor="middle" font-size="73" font-weight="normal" fill="#000" stroke="#000" stroke-width="1.7" xml:space="preserve">3</text>
<text transform="matrix(1.0800 0 0 1.0200 1543.40 4328.60)" text-anchor="middle" font-size="73" font-weight="normal" fill="#000" stroke="#000" stroke-width="1.7" xml:space="preserve">5</text>
<text transform="matrix(1.0800 0 0 1.0200 1894.60 4328.60)" text-anchor="middle" font-size="73" font-weight="normal" fill="#000" stroke="#000" stroke-width="1.7" xml:space="preserve">10</text>
<text transform="matrix(1.0277 0 0 0.9960 458.82 2920.30)" font-size="73" font-weight="normal" fill="#000" stroke="#000" stroke-width="1.7" xml:space="preserve">168.18</text>
<text transform="matrix(1.0292 0 0 1.0010 810.51 3522.70)" font-size="73" font-weight="normal" fill="#000" stroke="#000" stroke-width="1.7" xml:space="preserve">121.35</text>
<text transform="matrix(1.0568 0 0 0.9960 1160.73 3602.10)" font-size="73" font-weight="normal" fill="#000" stroke="#000" stroke-width="1.7" xml:space="preserve">115.09</text>
<text transform="matrix(1.0230 0 0 0.9960 1534.59 3951.70)" font-size="73" font-weight="normal" fill="#000" stroke="#000" stroke-width="1.7" xml:space="preserve">87.73</text>
<text transform="matrix(1.0378 0 0 1.0010 1883.37 4138.80)" font-size="73" font-weight="normal" fill="#000" stroke="#000" stroke-width="1.7" xml:space="preserve">73.36</text>
<text transform="matrix(0.9951 0 0 1.0010 467.07 3230.70)" font-size="73" font-weight="normal" fill="#ff0000" stroke="#ff0000" stroke-width="1.7" xml:space="preserve">2.14</text>
<text transform="matrix(1.0357 0 0 1.0010 818.63 3285.70)" font-size="73" font-weight="normal" fill="#ff0000" stroke="#ff0000" stroke-width="1.7" xml:space="preserve">2.12</text>
<text transform="matrix(0.9992 0 0 0.9960 1169.15 3369.50)" font-size="73" font-weight="normal" fill="#ff0000" stroke="#ff0000" stroke-width="1.7" xml:space="preserve">2.09</text>
<text transform="matrix(1.0242 0 0 0.9960 1519.57 3540.50)" font-size="73" font-weight="normal" fill="#ff0000" stroke="#ff0000" stroke-width="1.7" xml:space="preserve">2.03</text>
<text transform="matrix(1.0482 0 0 1.0010 1868.59 3850.80)" font-size="73" font-weight="normal" fill="#ff0000" stroke="#ff0000" stroke-width="1.7" xml:space="preserve">1.92</text>
<text transform="matrix(0 -1.0988 0.9797 0 121.57 3884.85)" font-size="84" font-weight="normal" fill="#000" stroke="#000" stroke-width="2.8" stroke-linejoin="round" xml:space="preserve">Cristallite</text>
<text transform="matrix(0 -1.1243 0.9797 0 121.57 3501.44)" font-size="84" font-weight="normal" fill="#000" stroke="#000" stroke-width="2.8" stroke-linejoin="round" xml:space="preserve">size</text>
<text transform="matrix(0 -1.0472 0.9797 0 121.57 3332.23)" font-size="84" font-weight="normal" fill="#000" stroke="#000" stroke-width="2.8" stroke-linejoin="round" xml:space="preserve">(nm)</text>
<text transform="matrix(0 -1.1129 0.9722 0 2306.56 3770.20)" font-size="82" font-weight="normal" fill="#ff0000" stroke="#ff0000" stroke-width="2.8" stroke-linejoin="round" xml:space="preserve">Bandgap</text>
<text transform="matrix(0 -1.0297 0.9722 0 2306.56 3426.60)" font-size="82" font-weight="normal" fill="#ff0000" stroke="#ff0000" stroke-width="2.8" stroke-linejoin="round" xml:space="preserve">(eV)</text>
<text transform="matrix(1.1490 0 0 0.9909 782.27 4461.06)" font-size="78" font-weight="normal" fill="#000" stroke="#000" stroke-width="2.8" stroke-linejoin="round" xml:space="preserve">Chromium</text>
<text transform="matrix(1.1359 0 0 0.9909 1207.68 4461.06)" font-size="78" font-weight="normal" fill="#000" stroke="#000" stroke-width="2.8" stroke-linejoin="round" xml:space="preserve">dopant</text>
<text transform="matrix(1.0373 0 0 0.9909 1478.27 4461.06)" font-size="78" font-weight="normal" fill="#000" stroke="#000" stroke-width="2.8" stroke-linejoin="round" xml:space="preserve">(%)</text>
<text transform="matrix(1.0369 0 0 0.9154 1145.01 4654.29)" font-size="86" font-weight="normal" fill="#000"  xml:space="preserve">(<tspan font-weight="bold">b</tspan>)</text>
</g>
</svg></body></html>
